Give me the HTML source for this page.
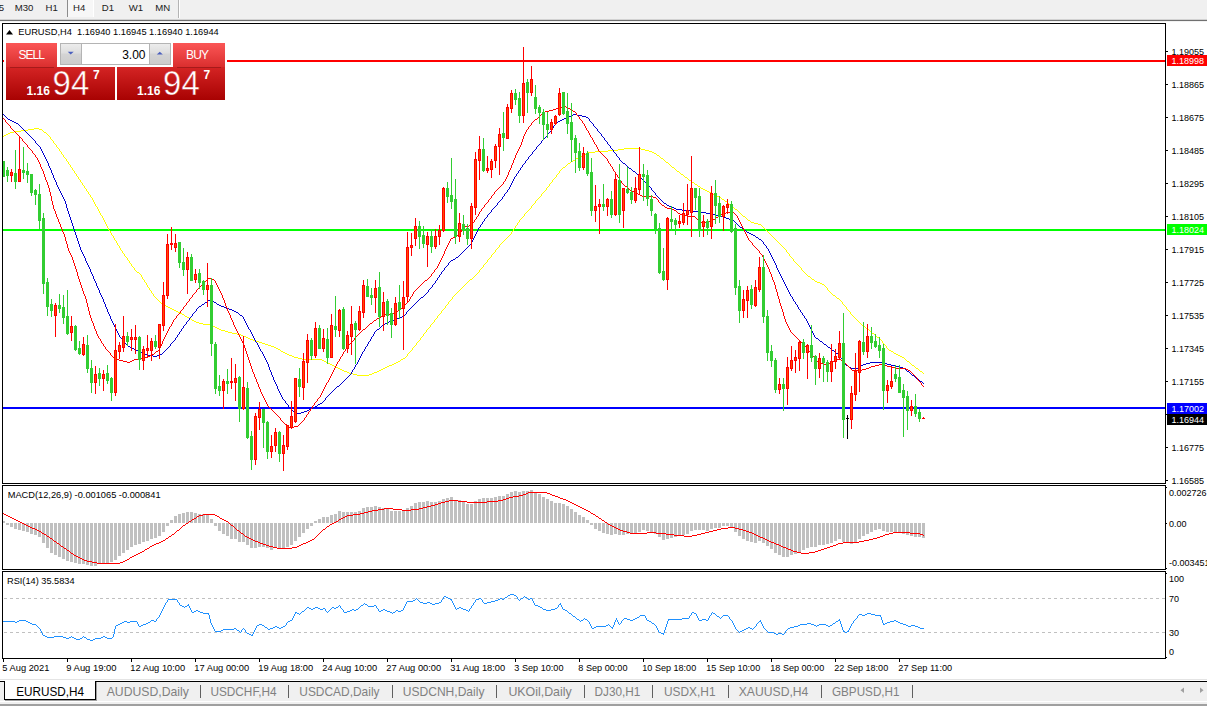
<!DOCTYPE html>
<html><head><meta charset="utf-8"><title>EURUSD,H4</title>
<style>html,body{margin:0;padding:0;background:#fff;overflow:hidden}body{width:1207px;height:706px;position:relative;font-family:"Liberation Sans",sans-serif}</style>
</head><body>
<svg width="1207" height="706" viewBox="0 0 1207 706" style="position:absolute;left:0;top:0;display:block">
<defs>
<linearGradient id="gTab" x1="0" y1="0" x2="0" y2="1"><stop offset="0" stop-color="#fb5656"/><stop offset="1" stop-color="#d92d2d"/></linearGradient>
<linearGradient id="gLow" x1="0" y1="0" x2="0" y2="1"><stop offset="0" stop-color="#d42424"/><stop offset="1" stop-color="#a80202"/></linearGradient>
<linearGradient id="gBtn" x1="0" y1="0" x2="0" y2="1"><stop offset="0" stop-color="#ececec"/><stop offset="0.45" stop-color="#dedede"/><stop offset="0.5" stop-color="#d4d4d4"/><stop offset="1" stop-color="#cccccc"/></linearGradient>
<linearGradient id="gLowU" gradientUnits="userSpaceOnUse" x1="0" y1="67" x2="0" y2="100"><stop offset="0" stop-color="#d42424"/><stop offset="1" stop-color="#a80202"/></linearGradient>
<clipPath id="cpMain"><rect x="3" y="24" width="1162" height="459"/></clipPath>
</defs>
<rect x="0" y="0" width="1207" height="706" fill="#ffffff"/>
<g shape-rendering="crispEdges">
<rect x="0" y="0" width="1207" height="19" fill="#f0f0f0"/>
<rect x="0" y="19" width="1207" height="1" fill="#d2d2d2"/>
<rect x="0" y="20" width="1207" height="1" fill="#707070"/>
<rect x="0" y="21" width="1207" height="1" fill="#f2f2f2"/>
<rect x="68" y="0" width="25" height="17" fill="#f7f7f7"/>
<rect x="67" y="0" width="1" height="17" fill="#8c8c8c"/>
<rect x="93" y="0" width="1" height="17" fill="#ffffff"/>
<rect x="178" y="0" width="1" height="18" fill="#b4b4b4"/>
<rect x="179" y="0" width="1" height="18" fill="#ffffff"/>
</g>
<g font-family="'Liberation Sans', sans-serif" font-size="9.6" fill="#202020">
<text x="-1.2" y="10.6">5</text>
<text x="14.8" y="10.6">M30</text>
<text x="45.599999999999994" y="10.6">H1</text>
<text x="73.0" y="10.6">H4</text>
<text x="101.8" y="10.6">D1</text>
<text x="128.8" y="10.6">W1</text>
<text x="155.3" y="10.6">MN</text>
</g>
<g shape-rendering="crispEdges" fill="#000">
<rect x="2" y="23" width="1" height="636"/>
<rect x="1165" y="23" width="1" height="636"/>
<rect x="2" y="23" width="1163" height="1"/>
<rect x="2" y="483" width="1163" height="1"/>
<rect x="2" y="485" width="1163" height="1"/>
<rect x="2" y="569" width="1163" height="1"/>
<rect x="2" y="571" width="1163" height="1"/>
<rect x="2" y="658" width="1164" height="1"/>
</g>
<g shape-rendering="crispEdges" fill="#fff">
<rect x="0" y="484" width="1166" height="1"/>
<rect x="0" y="570" width="1166" height="1"/>
</g>
<g shape-rendering="crispEdges" fill="#000">
<rect x="1166" y="51" width="2" height="1"/>
<rect x="1166" y="84" width="2" height="1"/>
<rect x="1166" y="117" width="2" height="1"/>
<rect x="1166" y="150" width="2" height="1"/>
<rect x="1166" y="183" width="2" height="1"/>
<rect x="1166" y="216" width="2" height="1"/>
<rect x="1166" y="249" width="2" height="1"/>
<rect x="1166" y="282" width="2" height="1"/>
<rect x="1166" y="315" width="2" height="1"/>
<rect x="1166" y="348" width="2" height="1"/>
<rect x="1166" y="381" width="2" height="1"/>
<rect x="1166" y="414" width="2" height="1"/>
<rect x="1166" y="447" width="2" height="1"/>
<rect x="1166" y="480" width="2" height="1"/>
<rect x="1166" y="487" width="1" height="1"/>
<rect x="1166" y="523" width="1" height="1"/>
<rect x="1166" y="568" width="1" height="1"/>
<rect x="1166" y="573" width="1" height="1"/>
<rect x="1166" y="657" width="1" height="1"/>
<rect x="3" y="659" width="1" height="3"/>
<rect x="67" y="659" width="1" height="3"/>
<rect x="131" y="659" width="1" height="3"/>
<rect x="195" y="659" width="1" height="3"/>
<rect x="259" y="659" width="1" height="3"/>
<rect x="323" y="659" width="1" height="3"/>
<rect x="387" y="659" width="1" height="3"/>
<rect x="451" y="659" width="1" height="3"/>
<rect x="515" y="659" width="1" height="3"/>
<rect x="579" y="659" width="1" height="3"/>
<rect x="643" y="659" width="1" height="3"/>
<rect x="707" y="659" width="1" height="3"/>
<rect x="771" y="659" width="1" height="3"/>
<rect x="835" y="659" width="1" height="3"/>
<rect x="899" y="659" width="1" height="3"/>
</g>
<g font-family="'Liberation Sans', sans-serif" font-size="9" fill="#000">
<text x="1171.5" y="55">1.19055</text>
<text x="1171.5" y="88">1.18865</text>
<text x="1171.5" y="121">1.18675</text>
<text x="1171.5" y="154">1.18485</text>
<text x="1171.5" y="187">1.18295</text>
<text x="1171.5" y="220">1.18105</text>
<text x="1171.5" y="253">1.17915</text>
<text x="1171.5" y="286">1.17725</text>
<text x="1171.5" y="319">1.17535</text>
<text x="1171.5" y="352">1.17345</text>
<text x="1171.5" y="385">1.17155</text>
<text x="1171.5" y="451">1.16775</text>
<text x="1171.5" y="484">1.16585</text>
<text x="1169" y="496">0.002726</text>
<text x="1169" y="527">0.00</text>
<text x="1169" y="566">-0.003451</text>
<text x="1169" y="582">100</text>
<text x="1169" y="602">70</text>
<text x="1169" y="636">30</text>
<text x="1169" y="654.5">0</text>
<text x="2.3" y="671" font-size="9.8" textLength="47" lengthAdjust="spacingAndGlyphs">5 Aug 2021</text>
<text x="66.3" y="671" font-size="9.8" textLength="50.2" lengthAdjust="spacingAndGlyphs">9 Aug 19:00</text>
<text x="130.3" y="671" font-size="9.8" textLength="54.9" lengthAdjust="spacingAndGlyphs">12 Aug 10:00</text>
<text x="194.3" y="671" font-size="9.8" textLength="54.9" lengthAdjust="spacingAndGlyphs">17 Aug 00:00</text>
<text x="258.3" y="671" font-size="9.8" textLength="54.9" lengthAdjust="spacingAndGlyphs">19 Aug 18:00</text>
<text x="322.3" y="671" font-size="9.8" textLength="54.9" lengthAdjust="spacingAndGlyphs">24 Aug 10:00</text>
<text x="386.3" y="671" font-size="9.8" textLength="54.9" lengthAdjust="spacingAndGlyphs">27 Aug 00:00</text>
<text x="450.3" y="671" font-size="9.8" textLength="54.9" lengthAdjust="spacingAndGlyphs">31 Aug 18:00</text>
<text x="514.3" y="671" font-size="9.8" textLength="49.2" lengthAdjust="spacingAndGlyphs">3 Sep 10:00</text>
<text x="578.3" y="671" font-size="9.8" textLength="49.2" lengthAdjust="spacingAndGlyphs">8 Sep 00:00</text>
<text x="642.3" y="671" font-size="9.8" textLength="53.9" lengthAdjust="spacingAndGlyphs">10 Sep 18:00</text>
<text x="706.3" y="671" font-size="9.8" textLength="53.9" lengthAdjust="spacingAndGlyphs">15 Sep 10:00</text>
<text x="770.3" y="671" font-size="9.8" textLength="53.9" lengthAdjust="spacingAndGlyphs">18 Sep 00:00</text>
<text x="834.3" y="671" font-size="9.8" textLength="53.9" lengthAdjust="spacingAndGlyphs">22 Sep 18:00</text>
<text x="898.3" y="671" font-size="9.8" textLength="53.9" lengthAdjust="spacingAndGlyphs">27 Sep 11:00</text>
<text x="18.3" y="34.8" font-size="9.25" xml:space="preserve" textLength="200.4" lengthAdjust="spacingAndGlyphs">EURUSD,H4  1.16940 1.16945 1.16940 1.16944</text>
<text x="7.7" y="498" font-size="9.25" textLength="152.9" lengthAdjust="spacingAndGlyphs">MACD(12,26,9) -0.001065 -0.000841</text>
<text x="7" y="584" font-size="9.25" textLength="67.6" lengthAdjust="spacingAndGlyphs">RSI(14) 35.5834</text>
</g>
<path d="M6 34.5 L9.5 30 L13 34.5 Z" fill="#000"/>
<g shape-rendering="crispEdges">
<rect x="3" y="60" width="1162" height="2" fill="#ff0000"/>
<rect x="3" y="229" width="1162" height="2" fill="#00ff00"/>
<rect x="3" y="407" width="1162" height="2" fill="#0000ff"/>
</g>
<g clip-path="url(#cpMain)" shape-rendering="crispEdges">
<path d="M3 136h1v1h-1zM4 135h1v1h-1zM5 135h1v1h-1zM6 134h1v1h-1zM7 134h1v1h-1zM8 133h1v1h-1zM9 133h1v1h-1zM10 132h1v1h-1zM11 132h1v1h-1zM12 132h1v1h-1zM13 132h1v1h-1zM14 131h1v1h-1zM15 131h1v1h-1zM16 131h1v1h-1zM17 131h1v1h-1zM18 131h1v1h-1zM19 131h1v1h-1zM20 131h1v1h-1zM21 130h1v1h-1zM22 130h1v1h-1zM23 130h1v1h-1zM24 130h1v1h-1zM25 130h1v1h-1zM26 130h1v1h-1zM27 130h1v1h-1zM28 129h1v1h-1zM29 129h1v1h-1zM30 129h1v1h-1zM31 129h1v1h-1zM32 129h1v1h-1zM33 129h1v1h-1zM34 128h1v1h-1zM35 128h1v1h-1zM36 128h1v1h-1zM37 128h1v1h-1zM38 128h1v1h-1zM39 129h1v1h-1zM40 129h1v1h-1zM41 129h1v1h-1zM42 130h1v1h-1zM43 131h1v1h-1zM44 132h1v1h-1zM45 132h1v1h-1zM46 133h1v1h-1zM47 134h1v1h-1zM48 135h1v1h-1zM49 136h1v1h-1zM50 137h1v2h-1zM51 139h1v1h-1zM52 140h1v1h-1zM53 141h1v2h-1zM54 143h1v1h-1zM55 144h1v1h-1zM56 145h1v2h-1zM57 147h1v1h-1zM58 148h1v1h-1zM59 149h1v2h-1zM60 151h1v1h-1zM61 152h1v2h-1zM62 154h1v1h-1zM63 155h1v2h-1zM64 157h1v1h-1zM65 158h1v1h-1zM66 159h1v2h-1zM67 161h1v1h-1zM68 162h1v2h-1zM69 164h1v1h-1zM70 165h1v2h-1zM71 167h1v1h-1zM72 168h1v2h-1zM73 170h1v1h-1zM74 171h1v2h-1zM75 173h1v1h-1zM76 174h1v2h-1zM77 176h1v1h-1zM78 177h1v2h-1zM79 179h1v1h-1zM80 180h1v2h-1zM81 182h1v1h-1zM82 183h1v2h-1zM83 185h1v1h-1zM84 186h1v2h-1zM85 188h1v1h-1zM86 189h1v2h-1zM87 191h1v1h-1zM88 192h1v2h-1zM89 194h1v1h-1zM90 195h1v2h-1zM91 197h1v1h-1zM92 198h1v2h-1zM93 200h1v2h-1zM94 202h1v2h-1zM95 204h1v2h-1zM96 206h1v1h-1zM97 207h1v2h-1zM98 209h1v2h-1zM99 211h1v2h-1zM100 213h1v2h-1zM101 215h1v1h-1zM102 216h1v2h-1zM103 218h1v2h-1zM104 220h1v2h-1zM105 222h1v2h-1zM106 224h1v2h-1zM107 226h1v2h-1zM108 228h1v2h-1zM109 230h1v1h-1zM110 231h1v2h-1zM111 233h1v2h-1zM112 235h1v1h-1zM113 236h1v2h-1zM114 238h1v2h-1zM115 240h1v1h-1zM116 241h1v2h-1zM117 243h1v2h-1zM118 245h1v1h-1zM119 246h1v2h-1zM120 248h1v2h-1zM121 250h1v1h-1zM122 251h1v2h-1zM123 253h1v1h-1zM124 254h1v2h-1zM125 256h1v1h-1zM126 257h1v1h-1zM127 258h1v2h-1zM128 260h1v1h-1zM129 261h1v2h-1zM130 263h1v1h-1zM131 264h1v2h-1zM132 266h1v1h-1zM133 267h1v1h-1zM134 268h1v2h-1zM135 270h1v1h-1zM136 271h1v1h-1zM137 272h1v1h-1zM138 272h1v1h-1zM139 273h1v1h-1zM140 274h1v1h-1zM141 275h1v2h-1zM142 277h1v2h-1zM143 279h1v1h-1zM144 280h1v2h-1zM145 282h1v1h-1zM146 283h1v2h-1zM147 285h1v2h-1zM148 287h1v1h-1zM149 288h1v2h-1zM150 290h1v1h-1zM151 291h1v2h-1zM152 293h1v1h-1zM153 294h1v2h-1zM154 296h1v1h-1zM155 297h1v1h-1zM156 298h1v1h-1zM157 299h1v1h-1zM158 300h1v1h-1zM159 301h1v1h-1zM160 302h1v1h-1zM161 303h1v1h-1zM162 304h1v1h-1zM163 304h1v1h-1zM164 305h1v1h-1zM165 305h1v1h-1zM166 306h1v1h-1zM167 306h1v1h-1zM168 307h1v1h-1zM169 307h1v1h-1zM170 308h1v1h-1zM171 308h1v1h-1zM172 309h1v1h-1zM173 309h1v1h-1zM174 310h1v1h-1zM175 310h1v1h-1zM176 311h1v1h-1zM177 311h1v1h-1zM178 312h1v1h-1zM179 312h1v1h-1zM180 313h1v1h-1zM181 313h1v1h-1zM182 314h1v1h-1zM183 314h1v1h-1zM184 315h1v1h-1zM185 316h1v1h-1zM186 316h1v1h-1zM187 317h1v1h-1zM188 317h1v1h-1zM189 318h1v1h-1zM190 318h1v1h-1zM191 319h1v1h-1zM192 320h1v1h-1zM193 320h1v1h-1zM194 321h1v1h-1zM195 321h1v1h-1zM196 322h1v1h-1zM197 322h1v1h-1zM198 322h1v1h-1zM199 323h1v1h-1zM200 323h1v1h-1zM201 323h1v1h-1zM202 323h1v1h-1zM203 324h1v1h-1zM204 324h1v1h-1zM205 324h1v1h-1zM206 324h1v1h-1zM207 324h1v1h-1zM208 324h1v1h-1zM209 324h1v1h-1zM210 324h1v1h-1zM211 325h1v1h-1zM212 325h1v1h-1zM213 326h1v1h-1zM214 326h1v1h-1zM215 327h1v1h-1zM216 327h1v1h-1zM217 328h1v1h-1zM218 328h1v1h-1zM219 329h1v1h-1zM220 329h1v1h-1zM221 330h1v1h-1zM222 330h1v1h-1zM223 330h1v1h-1zM224 330h1v1h-1zM225 331h1v1h-1zM226 331h1v1h-1zM227 331h1v1h-1zM228 332h1v1h-1zM229 332h1v1h-1zM230 332h1v1h-1zM231 332h1v1h-1zM232 333h1v1h-1zM233 333h1v1h-1zM234 333h1v1h-1zM235 333h1v1h-1zM236 333h1v1h-1zM237 334h1v1h-1zM238 334h1v1h-1zM239 334h1v1h-1zM240 334h1v1h-1zM241 335h1v1h-1zM242 335h1v1h-1zM243 336h1v1h-1zM244 336h1v1h-1zM245 336h1v1h-1zM246 337h1v1h-1zM247 337h1v1h-1zM248 338h1v1h-1zM249 338h1v1h-1zM250 339h1v1h-1zM251 339h1v1h-1zM252 339h1v1h-1zM253 340h1v1h-1zM254 340h1v1h-1zM255 340h1v1h-1zM256 341h1v1h-1zM257 341h1v1h-1zM258 341h1v1h-1zM259 342h1v1h-1zM260 342h1v1h-1zM261 342h1v1h-1zM262 343h1v1h-1zM263 343h1v1h-1zM264 343h1v1h-1zM265 344h1v1h-1zM266 344h1v1h-1zM267 344h1v1h-1zM268 345h1v1h-1zM269 345h1v1h-1zM270 345h1v1h-1zM271 346h1v1h-1zM272 346h1v1h-1zM273 346h1v1h-1zM274 347h1v1h-1zM275 347h1v1h-1zM276 348h1v1h-1zM277 348h1v1h-1zM278 349h1v1h-1zM279 349h1v1h-1zM280 350h1v1h-1zM281 351h1v1h-1zM282 351h1v1h-1zM283 352h1v1h-1zM284 352h1v1h-1zM285 353h1v1h-1zM286 353h1v1h-1zM287 354h1v1h-1zM288 354h1v1h-1zM289 355h1v1h-1zM290 355h1v1h-1zM291 355h1v1h-1zM292 356h1v1h-1zM293 356h1v1h-1zM294 357h1v1h-1zM295 357h1v1h-1zM296 357h1v1h-1zM297 357h1v1h-1zM298 358h1v1h-1zM299 358h1v1h-1zM300 358h1v1h-1zM301 358h1v1h-1zM302 359h1v1h-1zM303 359h1v1h-1zM304 359h1v1h-1zM305 359h1v1h-1zM306 359h1v1h-1zM307 359h1v1h-1zM308 359h1v1h-1zM309 359h1v1h-1zM310 359h1v1h-1zM311 359h1v1h-1zM312 359h1v1h-1zM313 359h1v1h-1zM314 359h1v1h-1zM315 359h1v1h-1zM316 359h1v1h-1zM317 359h1v1h-1zM318 359h1v1h-1zM319 359h1v1h-1zM320 359h1v1h-1zM321 359h1v1h-1zM322 360h1v1h-1zM323 360h1v1h-1zM324 361h1v1h-1zM325 361h1v1h-1zM326 362h1v1h-1zM327 362h1v1h-1zM328 363h1v1h-1zM329 363h1v1h-1zM330 364h1v1h-1zM331 364h1v1h-1zM332 365h1v1h-1zM333 365h1v1h-1zM334 366h1v1h-1zM335 366h1v1h-1zM336 367h1v1h-1zM337 367h1v1h-1zM338 368h1v1h-1zM339 368h1v1h-1zM340 369h1v1h-1zM341 369h1v1h-1zM342 370h1v1h-1zM343 370h1v1h-1zM344 371h1v1h-1zM345 371h1v1h-1zM346 371h1v1h-1zM347 372h1v1h-1zM348 372h1v1h-1zM349 373h1v1h-1zM350 373h1v1h-1zM351 373h1v1h-1zM352 373h1v1h-1zM353 374h1v1h-1zM354 374h1v1h-1zM355 374h1v1h-1zM356 374h1v1h-1zM357 375h1v1h-1zM358 375h1v1h-1zM359 375h1v1h-1zM360 375h1v1h-1zM361 375h1v1h-1zM362 375h1v1h-1zM363 375h1v1h-1zM364 375h1v1h-1zM365 375h1v1h-1zM366 375h1v1h-1zM367 375h1v1h-1zM368 375h1v1h-1zM369 374h1v1h-1zM370 374h1v1h-1zM371 374h1v1h-1zM372 373h1v1h-1zM373 373h1v1h-1zM374 372h1v1h-1zM375 372h1v1h-1zM376 372h1v1h-1zM377 371h1v1h-1zM378 371h1v1h-1zM379 370h1v1h-1zM380 370h1v1h-1zM381 369h1v1h-1zM382 369h1v1h-1zM383 368h1v1h-1zM384 368h1v1h-1zM385 367h1v1h-1zM386 367h1v1h-1zM387 366h1v1h-1zM388 366h1v1h-1zM389 365h1v1h-1zM390 365h1v1h-1zM391 365h1v1h-1zM392 364h1v1h-1zM393 364h1v1h-1zM394 363h1v1h-1zM395 363h1v1h-1zM396 362h1v1h-1zM397 362h1v1h-1zM398 361h1v1h-1zM399 361h1v1h-1zM400 360h1v1h-1zM401 359h1v1h-1zM402 359h1v1h-1zM403 358h1v1h-1zM404 358h1v1h-1zM405 357h1v1h-1zM406 356h1v1h-1zM407 354h1v2h-1zM408 353h1v1h-1zM409 352h1v1h-1zM410 351h1v1h-1zM411 350h1v1h-1zM412 348h1v2h-1zM413 347h1v1h-1zM414 346h1v1h-1zM415 345h1v1h-1zM416 343h1v2h-1zM417 342h1v1h-1zM418 341h1v1h-1zM419 340h1v1h-1zM420 338h1v2h-1zM421 337h1v1h-1zM422 336h1v1h-1zM423 334h1v2h-1zM424 333h1v1h-1zM425 332h1v1h-1zM426 330h1v2h-1zM427 329h1v1h-1zM428 328h1v1h-1zM429 327h1v1h-1zM430 325h1v2h-1zM431 324h1v1h-1zM432 323h1v1h-1zM433 322h1v1h-1zM434 320h1v2h-1zM435 319h1v1h-1zM436 318h1v1h-1zM437 316h1v2h-1zM438 315h1v1h-1zM439 314h1v1h-1zM440 313h1v1h-1zM441 311h1v2h-1zM442 310h1v1h-1zM443 309h1v1h-1zM444 308h1v1h-1zM445 306h1v2h-1zM446 305h1v1h-1zM447 304h1v1h-1zM448 302h1v2h-1zM449 301h1v1h-1zM450 300h1v1h-1zM451 299h1v1h-1zM452 297h1v2h-1zM453 296h1v1h-1zM454 295h1v1h-1zM455 294h1v1h-1zM456 293h1v1h-1zM457 292h1v1h-1zM458 291h1v1h-1zM459 290h1v1h-1zM460 289h1v1h-1zM461 288h1v1h-1zM462 287h1v1h-1zM463 286h1v1h-1zM464 285h1v1h-1zM465 284h1v1h-1zM466 283h1v1h-1zM467 282h1v1h-1zM468 281h1v1h-1zM469 280h1v1h-1zM470 279h1v1h-1zM471 279h1v1h-1zM472 278h1v1h-1zM473 277h1v1h-1zM474 276h1v1h-1zM475 275h1v1h-1zM476 274h1v1h-1zM477 273h1v1h-1zM478 272h1v1h-1zM479 270h1v2h-1zM480 269h1v1h-1zM481 268h1v1h-1zM482 267h1v1h-1zM483 265h1v2h-1zM484 264h1v1h-1zM485 263h1v1h-1zM486 262h1v1h-1zM487 260h1v2h-1zM488 259h1v1h-1zM489 258h1v1h-1zM490 257h1v1h-1zM491 255h1v2h-1zM492 254h1v1h-1zM493 253h1v1h-1zM494 252h1v1h-1zM495 250h1v2h-1zM496 249h1v1h-1zM497 248h1v1h-1zM498 247h1v1h-1zM499 245h1v2h-1zM500 244h1v1h-1zM501 243h1v1h-1zM502 242h1v1h-1zM503 241h1v1h-1zM504 240h1v1h-1zM505 239h1v1h-1zM506 238h1v1h-1zM507 237h1v1h-1zM508 236h1v1h-1zM509 235h1v1h-1zM510 234h1v1h-1zM511 232h1v2h-1zM512 231h1v1h-1zM513 229h1v2h-1zM514 228h1v1h-1zM515 226h1v2h-1zM516 225h1v1h-1zM517 223h1v2h-1zM518 222h1v1h-1zM519 220h1v2h-1zM520 219h1v1h-1zM521 218h1v1h-1zM522 217h1v1h-1zM523 216h1v1h-1zM524 214h1v2h-1zM525 213h1v1h-1zM526 212h1v1h-1zM527 211h1v1h-1zM528 210h1v1h-1zM529 209h1v1h-1zM530 208h1v1h-1zM531 206h1v2h-1zM532 205h1v1h-1zM533 204h1v1h-1zM534 203h1v1h-1zM535 201h1v2h-1zM536 200h1v1h-1zM537 199h1v1h-1zM538 198h1v1h-1zM539 197h1v1h-1zM540 196h1v1h-1zM541 194h1v2h-1zM542 193h1v1h-1zM543 192h1v1h-1zM544 191h1v1h-1zM545 190h1v1h-1zM546 188h1v2h-1zM547 187h1v1h-1zM548 186h1v1h-1zM549 184h1v2h-1zM550 183h1v1h-1zM551 182h1v1h-1zM552 180h1v2h-1zM553 179h1v1h-1zM554 178h1v1h-1zM555 177h1v1h-1zM556 175h1v2h-1zM557 174h1v1h-1zM558 173h1v1h-1zM559 171h1v2h-1zM560 170h1v1h-1zM561 169h1v1h-1zM562 168h1v1h-1zM563 167h1v1h-1zM564 167h1v1h-1zM565 166h1v1h-1zM566 165h1v1h-1zM567 164h1v1h-1zM568 163h1v1h-1zM569 163h1v1h-1zM570 162h1v1h-1zM571 161h1v1h-1zM572 161h1v1h-1zM573 160h1v1h-1zM574 160h1v1h-1zM575 159h1v1h-1zM576 158h1v1h-1zM577 158h1v1h-1zM578 157h1v1h-1zM579 157h1v1h-1zM580 156h1v1h-1zM581 156h1v1h-1zM582 155h1v1h-1zM583 155h1v1h-1zM584 154h1v1h-1zM585 154h1v1h-1zM586 153h1v1h-1zM587 153h1v1h-1zM588 152h1v1h-1zM589 152h1v1h-1zM590 152h1v1h-1zM591 152h1v1h-1zM592 152h1v1h-1zM593 152h1v1h-1zM594 152h1v1h-1zM595 151h1v1h-1zM596 151h1v1h-1zM597 151h1v1h-1zM598 151h1v1h-1zM599 151h1v1h-1zM600 151h1v1h-1zM601 151h1v1h-1zM602 151h1v1h-1zM603 151h1v1h-1zM604 151h1v1h-1zM605 151h1v1h-1zM606 151h1v1h-1zM607 151h1v1h-1zM608 150h1v1h-1zM609 150h1v1h-1zM610 150h1v1h-1zM611 150h1v1h-1zM612 150h1v1h-1zM613 150h1v1h-1zM614 150h1v1h-1zM615 150h1v1h-1zM616 150h1v1h-1zM617 150h1v1h-1zM618 149h1v1h-1zM619 149h1v1h-1zM620 149h1v1h-1zM621 149h1v1h-1zM622 149h1v1h-1zM623 149h1v1h-1zM624 148h1v1h-1zM625 148h1v1h-1zM626 148h1v1h-1zM627 148h1v1h-1zM628 148h1v1h-1zM629 148h1v1h-1zM630 148h1v1h-1zM631 148h1v1h-1zM632 148h1v1h-1zM633 148h1v1h-1zM634 148h1v1h-1zM635 148h1v1h-1zM636 148h1v1h-1zM637 148h1v1h-1zM638 148h1v1h-1zM639 148h1v1h-1zM640 148h1v1h-1zM641 149h1v1h-1zM642 149h1v1h-1zM643 149h1v1h-1zM644 149h1v1h-1zM645 150h1v1h-1zM646 150h1v1h-1zM647 150h1v1h-1zM648 150h1v1h-1zM649 151h1v1h-1zM650 151h1v1h-1zM651 151h1v1h-1zM652 152h1v1h-1zM653 152h1v1h-1zM654 153h1v1h-1zM655 153h1v1h-1zM656 154h1v1h-1zM657 155h1v1h-1zM658 155h1v1h-1zM659 156h1v1h-1zM660 157h1v1h-1zM661 158h1v1h-1zM662 158h1v1h-1zM663 159h1v1h-1zM664 160h1v1h-1zM665 161h1v1h-1zM666 162h1v1h-1zM667 162h1v1h-1zM668 163h1v1h-1zM669 164h1v1h-1zM670 165h1v1h-1zM671 166h1v1h-1zM672 167h1v1h-1zM673 167h1v1h-1zM674 168h1v1h-1zM675 169h1v1h-1zM676 170h1v1h-1zM677 171h1v1h-1zM678 171h1v1h-1zM679 172h1v1h-1zM680 173h1v1h-1zM681 174h1v1h-1zM682 174h1v1h-1zM683 175h1v1h-1zM684 176h1v1h-1zM685 177h1v1h-1zM686 177h1v1h-1zM687 178h1v1h-1zM688 179h1v1h-1zM689 180h1v1h-1zM690 180h1v1h-1zM691 181h1v1h-1zM692 182h1v1h-1zM693 182h1v1h-1zM694 183h1v1h-1zM695 184h1v1h-1zM696 184h1v1h-1zM697 185h1v1h-1zM698 186h1v1h-1zM699 186h1v1h-1zM700 187h1v1h-1zM701 188h1v1h-1zM702 188h1v1h-1zM703 189h1v1h-1zM704 189h1v1h-1zM705 190h1v1h-1zM706 190h1v1h-1zM707 191h1v1h-1zM708 191h1v1h-1zM709 192h1v1h-1zM710 192h1v1h-1zM711 193h1v1h-1zM712 193h1v1h-1zM713 194h1v1h-1zM714 194h1v1h-1zM715 195h1v1h-1zM716 195h1v1h-1zM717 196h1v1h-1zM718 196h1v1h-1zM719 197h1v1h-1zM720 197h1v1h-1zM721 198h1v1h-1zM722 199h1v1h-1zM723 199h1v1h-1zM724 200h1v1h-1zM725 201h1v1h-1zM726 201h1v1h-1zM727 202h1v1h-1zM728 203h1v1h-1zM729 204h1v1h-1zM730 204h1v1h-1zM731 205h1v1h-1zM732 206h1v1h-1zM733 207h1v1h-1zM734 208h1v1h-1zM735 209h1v1h-1zM736 209h1v1h-1zM737 210h1v1h-1zM738 211h1v1h-1zM739 212h1v1h-1zM740 213h1v1h-1zM741 214h1v1h-1zM742 215h1v1h-1zM743 216h1v1h-1zM744 216h1v1h-1zM745 217h1v1h-1zM746 218h1v1h-1zM747 219h1v1h-1zM748 220h1v1h-1zM749 220h1v1h-1zM750 221h1v1h-1zM751 222h1v1h-1zM752 222h1v1h-1zM753 222h1v1h-1zM754 223h1v1h-1zM755 223h1v1h-1zM756 223h1v1h-1zM757 223h1v1h-1zM758 224h1v1h-1zM759 224h1v1h-1zM760 224h1v1h-1zM761 225h1v1h-1zM762 226h1v1h-1zM763 227h1v1h-1zM764 228h1v1h-1zM765 229h1v1h-1zM766 230h1v1h-1zM767 231h1v1h-1zM768 232h1v1h-1zM769 233h1v1h-1zM770 234h1v1h-1zM771 235h1v1h-1zM772 236h1v1h-1zM773 237h1v1h-1zM774 238h1v1h-1zM775 239h1v1h-1zM776 240h1v1h-1zM777 241h1v1h-1zM778 242h1v1h-1zM779 243h1v1h-1zM780 244h1v1h-1zM781 245h1v1h-1zM782 246h1v1h-1zM783 247h1v1h-1zM784 248h1v1h-1zM785 249h1v1h-1zM786 250h1v2h-1zM787 252h1v1h-1zM788 253h1v1h-1zM789 254h1v2h-1zM790 256h1v1h-1zM791 257h1v1h-1zM792 258h1v1h-1zM793 259h1v2h-1zM794 261h1v1h-1zM795 262h1v1h-1zM796 263h1v1h-1zM797 264h1v1h-1zM798 265h1v1h-1zM799 266h1v1h-1zM800 267h1v1h-1zM801 268h1v2h-1zM802 270h1v1h-1zM803 271h1v1h-1zM804 272h1v1h-1zM805 273h1v1h-1zM806 274h1v1h-1zM807 275h1v1h-1zM808 276h1v1h-1zM809 276h1v1h-1zM810 277h1v1h-1zM811 278h1v1h-1zM812 279h1v1h-1zM813 279h1v1h-1zM814 280h1v1h-1zM815 281h1v1h-1zM816 281h1v1h-1zM817 282h1v1h-1zM818 282h1v1h-1zM819 282h1v1h-1zM820 283h1v1h-1zM821 283h1v1h-1zM822 284h1v1h-1zM823 284h1v1h-1zM824 285h1v1h-1zM825 286h1v1h-1zM826 287h1v1h-1zM827 288h1v2h-1zM828 290h1v1h-1zM829 291h1v1h-1zM830 292h1v1h-1zM831 293h1v1h-1zM832 294h1v1h-1zM833 295h1v1h-1zM834 295h1v1h-1zM835 296h1v1h-1zM836 297h1v1h-1zM837 298h1v1h-1zM838 298h1v1h-1zM839 299h1v1h-1zM840 300h1v1h-1zM841 301h1v1h-1zM842 302h1v2h-1zM843 304h1v1h-1zM844 305h1v1h-1zM845 306h1v1h-1zM846 307h1v2h-1zM847 309h1v1h-1zM848 310h1v1h-1zM849 311h1v1h-1zM850 312h1v2h-1zM851 314h1v1h-1zM852 315h1v1h-1zM853 316h1v1h-1zM854 317h1v1h-1zM855 318h1v1h-1zM856 319h1v1h-1zM857 320h1v1h-1zM858 321h1v1h-1zM859 322h1v1h-1zM860 323h1v1h-1zM861 324h1v1h-1zM862 325h1v1h-1zM863 325h1v1h-1zM864 326h1v1h-1zM865 327h1v1h-1zM866 328h1v1h-1zM867 329h1v1h-1zM868 329h1v1h-1zM869 330h1v1h-1zM870 331h1v1h-1zM871 332h1v1h-1zM872 333h1v1h-1zM873 333h1v1h-1zM874 334h1v1h-1zM875 335h1v1h-1zM876 336h1v1h-1zM877 337h1v1h-1zM878 337h1v1h-1zM879 338h1v1h-1zM880 339h1v1h-1zM881 340h1v1h-1zM882 341h1v2h-1zM883 343h1v1h-1zM884 344h1v1h-1zM885 345h1v1h-1zM886 346h1v2h-1zM887 348h1v1h-1zM888 349h1v1h-1zM889 350h1v1h-1zM890 350h1v1h-1zM891 351h1v1h-1zM892 351h1v1h-1zM893 352h1v1h-1zM894 353h1v1h-1zM895 353h1v1h-1zM896 354h1v1h-1zM897 354h1v1h-1zM898 355h1v1h-1zM899 355h1v1h-1zM900 356h1v1h-1zM901 356h1v1h-1zM902 357h1v1h-1zM903 357h1v1h-1zM904 358h1v1h-1zM905 359h1v1h-1zM906 360h1v1h-1zM907 361h1v1h-1zM908 361h1v1h-1zM909 362h1v1h-1zM910 363h1v1h-1zM911 364h1v1h-1zM912 365h1v1h-1zM913 365h1v1h-1zM914 366h1v1h-1zM915 367h1v1h-1zM916 368h1v1h-1zM917 368h1v1h-1zM918 369h1v1h-1zM919 370h1v1h-1zM920 371h1v1h-1zM921 371h1v1h-1zM922 372h1v1h-1zM923 373h1v1h-1z" fill="#ffff00" />
<path d="M3 114h1v1h-1zM4 115h1v1h-1zM5 116h1v1h-1zM6 117h1v1h-1zM7 118h1v1h-1zM8 119h1v1h-1zM9 119h1v1h-1zM10 120h1v1h-1zM11 120h1v1h-1zM12 121h1v1h-1zM13 121h1v1h-1zM14 122h1v1h-1zM15 122h1v1h-1zM16 123h1v1h-1zM17 123h1v1h-1zM18 124h1v1h-1zM19 125h1v1h-1zM20 126h1v1h-1zM21 127h1v1h-1zM22 128h1v1h-1zM23 129h1v1h-1zM24 130h1v1h-1zM25 131h1v1h-1zM26 132h1v1h-1zM27 133h1v1h-1zM28 134h1v1h-1zM29 135h1v1h-1zM30 136h1v1h-1zM31 137h1v1h-1zM32 138h1v1h-1zM33 139h1v1h-1zM34 140h1v1h-1zM35 141h1v2h-1zM36 143h1v1h-1zM37 144h1v1h-1zM38 145h1v1h-1zM39 146h1v1h-1zM40 147h1v2h-1zM41 149h1v2h-1zM42 151h1v2h-1zM43 153h1v2h-1zM44 155h1v2h-1zM45 157h1v2h-1zM46 159h1v2h-1zM47 161h1v2h-1zM48 163h1v3h-1zM49 166h1v2h-1zM50 168h1v2h-1zM51 170h1v3h-1zM52 173h1v2h-1zM53 175h1v3h-1zM54 178h1v2h-1zM55 180h1v2h-1zM56 182h1v3h-1zM57 185h1v2h-1zM58 187h1v2h-1zM59 189h1v2h-1zM60 191h1v2h-1zM61 193h1v2h-1zM62 195h1v2h-1zM63 197h1v2h-1zM64 199h1v2h-1zM65 201h1v3h-1zM66 204h1v4h-1zM67 208h1v3h-1zM68 211h1v3h-1zM69 214h1v3h-1zM70 217h1v3h-1zM71 220h1v3h-1zM72 223h1v3h-1zM73 226h1v3h-1zM74 229h1v3h-1zM75 232h1v3h-1zM76 235h1v3h-1zM77 238h1v3h-1zM78 241h1v3h-1zM79 244h1v3h-1zM80 247h1v3h-1zM81 250h1v2h-1zM82 252h1v2h-1zM83 254h1v2h-1zM84 256h1v2h-1zM85 258h1v3h-1zM86 261h1v2h-1zM87 263h1v2h-1zM88 265h1v2h-1zM89 267h1v2h-1zM90 269h1v3h-1zM91 272h1v2h-1zM92 274h1v2h-1zM93 276h1v3h-1zM94 279h1v2h-1zM95 281h1v2h-1zM96 283h1v3h-1zM97 286h1v2h-1zM98 288h1v2h-1zM99 290h1v3h-1zM100 293h1v2h-1zM101 295h1v2h-1zM102 297h1v2h-1zM103 299h1v3h-1zM104 302h1v2h-1zM105 304h1v3h-1zM106 307h1v2h-1zM107 309h1v3h-1zM108 312h1v2h-1zM109 314h1v2h-1zM110 316h1v3h-1zM111 319h1v2h-1zM112 321h1v2h-1zM113 323h1v2h-1zM114 325h1v2h-1zM115 327h1v2h-1zM116 329h1v2h-1zM117 331h1v2h-1zM118 333h1v2h-1zM119 335h1v2h-1zM120 337h1v1h-1zM121 338h1v1h-1zM122 339h1v1h-1zM123 340h1v1h-1zM124 341h1v2h-1zM125 343h1v1h-1zM126 344h1v1h-1zM127 345h1v1h-1zM128 346h1v1h-1zM129 346h1v1h-1zM130 347h1v1h-1zM131 347h1v1h-1zM132 348h1v1h-1zM133 348h1v1h-1zM134 349h1v1h-1zM135 349h1v1h-1zM136 350h1v1h-1zM137 350h1v1h-1zM138 350h1v1h-1zM139 351h1v1h-1zM140 351h1v1h-1zM141 352h1v1h-1zM142 352h1v1h-1zM143 353h1v1h-1zM144 353h1v1h-1zM145 354h1v1h-1zM146 354h1v1h-1zM147 354h1v1h-1zM148 355h1v1h-1zM149 355h1v1h-1zM150 355h1v1h-1zM151 355h1v1h-1zM152 355h1v1h-1zM153 356h1v1h-1zM154 356h1v1h-1zM155 356h1v1h-1zM156 356h1v1h-1zM157 355h1v1h-1zM158 355h1v1h-1zM159 355h1v1h-1zM160 354h1v1h-1zM161 354h1v1h-1zM162 353h1v1h-1zM163 352h1v1h-1zM164 351h1v1h-1zM165 350h1v1h-1zM166 349h1v1h-1zM167 348h1v1h-1zM168 347h1v1h-1zM169 346h1v1h-1zM170 344h1v2h-1zM171 343h1v1h-1zM172 342h1v1h-1zM173 341h1v1h-1zM174 340h1v1h-1zM175 338h1v2h-1zM176 337h1v1h-1zM177 335h1v2h-1zM178 334h1v1h-1zM179 332h1v2h-1zM180 331h1v1h-1zM181 329h1v2h-1zM182 328h1v1h-1zM183 326h1v2h-1zM184 325h1v1h-1zM185 324h1v1h-1zM186 322h1v2h-1zM187 321h1v1h-1zM188 320h1v1h-1zM189 318h1v2h-1zM190 317h1v1h-1zM191 316h1v1h-1zM192 314h1v2h-1zM193 313h1v1h-1zM194 312h1v1h-1zM195 311h1v1h-1zM196 309h1v2h-1zM197 308h1v1h-1zM198 307h1v1h-1zM199 306h1v1h-1zM200 306h1v1h-1zM201 305h1v1h-1zM202 304h1v1h-1zM203 304h1v1h-1zM204 303h1v1h-1zM205 302h1v1h-1zM206 302h1v1h-1zM207 301h1v1h-1zM208 300h1v1h-1zM209 300h1v1h-1zM210 300h1v1h-1zM211 301h1v1h-1zM212 301h1v1h-1zM213 301h1v1h-1zM214 302h1v1h-1zM215 302h1v1h-1zM216 303h1v1h-1zM217 304h1v1h-1zM218 304h1v1h-1zM219 305h1v1h-1zM220 305h1v1h-1zM221 306h1v1h-1zM222 306h1v1h-1zM223 306h1v1h-1zM224 307h1v1h-1zM225 307h1v1h-1zM226 308h1v1h-1zM227 308h1v1h-1zM228 308h1v1h-1zM229 309h1v1h-1zM230 309h1v1h-1zM231 309h1v1h-1zM232 310h1v1h-1zM233 310h1v1h-1zM234 311h1v1h-1zM235 311h1v1h-1zM236 312h1v1h-1zM237 312h1v1h-1zM238 313h1v1h-1zM239 314h1v1h-1zM240 315h1v1h-1zM241 315h1v1h-1zM242 316h1v1h-1zM243 317h1v2h-1zM244 319h1v2h-1zM245 321h1v2h-1zM246 323h1v2h-1zM247 325h1v2h-1zM248 327h1v2h-1zM249 329h1v1h-1zM250 330h1v2h-1zM251 332h1v2h-1zM252 334h1v2h-1zM253 336h1v2h-1zM254 338h1v2h-1zM255 340h1v2h-1zM256 342h1v1h-1zM257 343h1v2h-1zM258 345h1v2h-1zM259 347h1v2h-1zM260 349h1v2h-1zM261 351h1v1h-1zM262 352h1v2h-1zM263 354h1v2h-1zM264 356h1v2h-1zM265 358h1v2h-1zM266 360h1v2h-1zM267 362h1v2h-1zM268 364h1v3h-1zM269 367h1v3h-1zM270 370h1v2h-1zM271 372h1v3h-1zM272 375h1v2h-1zM273 377h1v3h-1zM274 380h1v2h-1zM275 382h1v2h-1zM276 384h1v2h-1zM277 386h1v3h-1zM278 389h1v2h-1zM279 391h1v2h-1zM280 393h1v2h-1zM281 395h1v2h-1zM282 397h1v2h-1zM283 399h1v1h-1zM284 400h1v1h-1zM285 401h1v2h-1zM286 403h1v1h-1zM287 404h1v1h-1zM288 405h1v2h-1zM289 407h1v1h-1zM290 408h1v1h-1zM291 409h1v1h-1zM292 410h1v1h-1zM293 411h1v1h-1zM294 412h1v1h-1zM295 413h1v1h-1zM296 413h1v1h-1zM297 413h1v1h-1zM298 413h1v1h-1zM299 413h1v1h-1zM300 413h1v1h-1zM301 412h1v1h-1zM302 412h1v1h-1zM303 412h1v1h-1zM304 411h1v1h-1zM305 411h1v1h-1zM306 411h1v1h-1zM307 410h1v1h-1zM308 410h1v1h-1zM309 409h1v1h-1zM310 409h1v1h-1zM311 408h1v1h-1zM312 408h1v1h-1zM313 407h1v1h-1zM314 407h1v1h-1zM315 406h1v1h-1zM316 406h1v1h-1zM317 405h1v1h-1zM318 404h1v1h-1zM319 404h1v1h-1zM320 403h1v1h-1zM321 403h1v1h-1zM322 402h1v1h-1zM323 401h1v1h-1zM324 400h1v1h-1zM325 398h1v2h-1zM326 397h1v1h-1zM327 396h1v1h-1zM328 395h1v1h-1zM329 394h1v1h-1zM330 393h1v1h-1zM331 392h1v1h-1zM332 391h1v1h-1zM333 390h1v1h-1zM334 389h1v1h-1zM335 388h1v1h-1zM336 387h1v1h-1zM337 386h1v1h-1zM338 386h1v1h-1zM339 385h1v1h-1zM340 384h1v1h-1zM341 383h1v1h-1zM342 382h1v1h-1zM343 381h1v1h-1zM344 380h1v1h-1zM345 379h1v1h-1zM346 378h1v1h-1zM347 377h1v1h-1zM348 376h1v1h-1zM349 375h1v1h-1zM350 374h1v1h-1zM351 372h1v2h-1zM352 370h1v2h-1zM353 369h1v1h-1zM354 367h1v2h-1zM355 365h1v2h-1zM356 364h1v1h-1zM357 362h1v2h-1zM358 360h1v2h-1zM359 358h1v2h-1zM360 356h1v2h-1zM361 354h1v2h-1zM362 352h1v2h-1zM363 351h1v1h-1zM364 349h1v2h-1zM365 347h1v2h-1zM366 346h1v1h-1zM367 344h1v2h-1zM368 342h1v2h-1zM369 341h1v1h-1zM370 339h1v2h-1zM371 337h1v2h-1zM372 336h1v1h-1zM373 334h1v2h-1zM374 332h1v2h-1zM375 331h1v1h-1zM376 330h1v1h-1zM377 329h1v1h-1zM378 329h1v1h-1zM379 328h1v1h-1zM380 327h1v1h-1zM381 326h1v1h-1zM382 325h1v1h-1zM383 325h1v1h-1zM384 324h1v1h-1zM385 323h1v1h-1zM386 323h1v1h-1zM387 322h1v1h-1zM388 322h1v1h-1zM389 321h1v1h-1zM390 321h1v1h-1zM391 321h1v1h-1zM392 320h1v1h-1zM393 320h1v1h-1zM394 319h1v1h-1zM395 319h1v1h-1zM396 319h1v1h-1zM397 318h1v1h-1zM398 318h1v1h-1zM399 318h1v1h-1zM400 317h1v1h-1zM401 317h1v1h-1zM402 316h1v1h-1zM403 316h1v1h-1zM404 315h1v1h-1zM405 314h1v1h-1zM406 312h1v2h-1zM407 311h1v1h-1zM408 310h1v1h-1zM409 309h1v1h-1zM410 308h1v1h-1zM411 307h1v1h-1zM412 306h1v1h-1zM413 305h1v1h-1zM414 304h1v1h-1zM415 303h1v1h-1zM416 302h1v1h-1zM417 301h1v1h-1zM418 300h1v1h-1zM419 299h1v1h-1zM420 298h1v1h-1zM421 297h1v1h-1zM422 297h1v1h-1zM423 296h1v1h-1zM424 295h1v1h-1zM425 294h1v1h-1zM426 293h1v1h-1zM427 292h1v1h-1zM428 290h1v2h-1zM429 289h1v1h-1zM430 288h1v1h-1zM431 287h1v1h-1zM432 285h1v2h-1zM433 284h1v1h-1zM434 283h1v1h-1zM435 281h1v2h-1zM436 280h1v1h-1zM437 278h1v2h-1zM438 277h1v1h-1zM439 275h1v2h-1zM440 274h1v1h-1zM441 272h1v2h-1zM442 271h1v1h-1zM443 270h1v1h-1zM444 268h1v2h-1zM445 267h1v1h-1zM446 266h1v1h-1zM447 265h1v1h-1zM448 263h1v2h-1zM449 262h1v1h-1zM450 261h1v1h-1zM451 260h1v1h-1zM452 260h1v1h-1zM453 259h1v1h-1zM454 259h1v1h-1zM455 258h1v1h-1zM456 257h1v1h-1zM457 257h1v1h-1zM458 256h1v1h-1zM459 255h1v1h-1zM460 254h1v1h-1zM461 253h1v1h-1zM462 252h1v1h-1zM463 251h1v1h-1zM464 250h1v1h-1zM465 249h1v1h-1zM466 248h1v1h-1zM467 247h1v1h-1zM468 246h1v1h-1zM469 245h1v1h-1zM470 244h1v1h-1zM471 242h1v2h-1zM472 240h1v2h-1zM473 238h1v2h-1zM474 236h1v2h-1zM475 234h1v2h-1zM476 232h1v2h-1zM477 230h1v2h-1zM478 228h1v2h-1zM479 227h1v1h-1zM480 225h1v2h-1zM481 224h1v1h-1zM482 222h1v2h-1zM483 221h1v1h-1zM484 219h1v2h-1zM485 218h1v1h-1zM486 217h1v1h-1zM487 215h1v2h-1zM488 214h1v1h-1zM489 213h1v1h-1zM490 212h1v1h-1zM491 210h1v2h-1zM492 209h1v1h-1zM493 208h1v1h-1zM494 207h1v1h-1zM495 206h1v1h-1zM496 205h1v1h-1zM497 203h1v2h-1zM498 202h1v1h-1zM499 201h1v1h-1zM500 200h1v1h-1zM501 199h1v1h-1zM502 197h1v2h-1zM503 196h1v1h-1zM504 194h1v2h-1zM505 193h1v1h-1zM506 192h1v1h-1zM507 190h1v2h-1zM508 189h1v1h-1zM509 187h1v2h-1zM510 185h1v2h-1zM511 183h1v2h-1zM512 181h1v2h-1zM513 179h1v2h-1zM514 177h1v2h-1zM515 176h1v1h-1zM516 174h1v2h-1zM517 173h1v1h-1zM518 171h1v2h-1zM519 170h1v1h-1zM520 168h1v2h-1zM521 167h1v1h-1zM522 165h1v2h-1zM523 164h1v1h-1zM524 163h1v1h-1zM525 161h1v2h-1zM526 160h1v1h-1zM527 159h1v1h-1zM528 157h1v2h-1zM529 156h1v1h-1zM530 155h1v1h-1zM531 154h1v1h-1zM532 152h1v2h-1zM533 151h1v1h-1zM534 150h1v1h-1zM535 149h1v1h-1zM536 147h1v2h-1zM537 146h1v1h-1zM538 145h1v1h-1zM539 144h1v1h-1zM540 143h1v1h-1zM541 141h1v2h-1zM542 140h1v1h-1zM543 139h1v1h-1zM544 138h1v1h-1zM545 137h1v1h-1zM546 136h1v1h-1zM547 134h1v2h-1zM548 133h1v1h-1zM549 132h1v1h-1zM550 131h1v1h-1zM551 129h1v2h-1zM552 128h1v1h-1zM553 126h1v2h-1zM554 125h1v1h-1zM555 124h1v1h-1zM556 123h1v1h-1zM557 122h1v1h-1zM558 121h1v1h-1zM559 121h1v1h-1zM560 120h1v1h-1zM561 120h1v1h-1zM562 119h1v1h-1zM563 119h1v1h-1zM564 118h1v1h-1zM565 118h1v1h-1zM566 117h1v1h-1zM567 117h1v1h-1zM568 117h1v1h-1zM569 116h1v1h-1zM570 116h1v1h-1zM571 115h1v1h-1zM572 115h1v1h-1zM573 114h1v1h-1zM574 114h1v1h-1zM575 114h1v1h-1zM576 114h1v1h-1zM577 115h1v1h-1zM578 115h1v1h-1zM579 115h1v1h-1zM580 115h1v1h-1zM581 115h1v1h-1zM582 116h1v1h-1zM583 116h1v1h-1zM584 116h1v1h-1zM585 116h1v1h-1zM586 117h1v1h-1zM587 117h1v1h-1zM588 118h1v1h-1zM589 119h1v2h-1zM590 121h1v1h-1zM591 122h1v1h-1zM592 123h1v1h-1zM593 124h1v2h-1zM594 126h1v1h-1zM595 127h1v1h-1zM596 128h1v1h-1zM597 129h1v2h-1zM598 131h1v1h-1zM599 132h1v1h-1zM600 133h1v1h-1zM601 134h1v2h-1zM602 136h1v1h-1zM603 137h1v1h-1zM604 138h1v2h-1zM605 140h1v1h-1zM606 141h1v1h-1zM607 142h1v2h-1zM608 144h1v1h-1zM609 145h1v1h-1zM610 146h1v2h-1zM611 148h1v1h-1zM612 149h1v1h-1zM613 150h1v2h-1zM614 152h1v1h-1zM615 153h1v1h-1zM616 154h1v2h-1zM617 156h1v1h-1zM618 157h1v1h-1zM619 158h1v2h-1zM620 160h1v1h-1zM621 161h1v1h-1zM622 162h1v1h-1zM623 163h1v1h-1zM624 163h1v1h-1zM625 164h1v1h-1zM626 165h1v1h-1zM627 166h1v1h-1zM628 167h1v1h-1zM629 168h1v1h-1zM630 168h1v1h-1zM631 169h1v1h-1zM632 170h1v1h-1zM633 171h1v1h-1zM634 171h1v1h-1zM635 172h1v1h-1zM636 173h1v1h-1zM637 174h1v1h-1zM638 175h1v1h-1zM639 176h1v1h-1zM640 177h1v1h-1zM641 178h1v1h-1zM642 179h1v1h-1zM643 180h1v1h-1zM644 181h1v1h-1zM645 182h1v1h-1zM646 183h1v1h-1zM647 184h1v1h-1zM648 185h1v1h-1zM649 186h1v1h-1zM650 187h1v1h-1zM651 188h1v2h-1zM652 190h1v1h-1zM653 191h1v1h-1zM654 192h1v1h-1zM655 193h1v2h-1zM656 195h1v1h-1zM657 196h1v1h-1zM658 197h1v1h-1zM659 198h1v1h-1zM660 199h1v1h-1zM661 200h1v1h-1zM662 201h1v1h-1zM663 202h1v1h-1zM664 203h1v1h-1zM665 203h1v1h-1zM666 204h1v1h-1zM667 205h1v1h-1zM668 205h1v1h-1zM669 206h1v1h-1zM670 206h1v1h-1zM671 207h1v1h-1zM672 207h1v1h-1zM673 207h1v1h-1zM674 208h1v1h-1zM675 208h1v1h-1zM676 209h1v1h-1zM677 209h1v1h-1zM678 209h1v1h-1zM679 209h1v1h-1zM680 209h1v1h-1zM681 209h1v1h-1zM682 210h1v1h-1zM683 210h1v1h-1zM684 210h1v1h-1zM685 210h1v1h-1zM686 210h1v1h-1zM687 210h1v1h-1zM688 210h1v1h-1zM689 210h1v1h-1zM690 210h1v1h-1zM691 211h1v1h-1zM692 211h1v1h-1zM693 211h1v1h-1zM694 211h1v1h-1zM695 211h1v1h-1zM696 211h1v1h-1zM697 211h1v1h-1zM698 211h1v1h-1zM699 211h1v1h-1zM700 211h1v1h-1zM701 212h1v1h-1zM702 212h1v1h-1zM703 212h1v1h-1zM704 212h1v1h-1zM705 212h1v1h-1zM706 213h1v1h-1zM707 213h1v1h-1zM708 213h1v1h-1zM709 213h1v1h-1zM710 214h1v1h-1zM711 214h1v1h-1zM712 214h1v1h-1zM713 214h1v1h-1zM714 214h1v1h-1zM715 214h1v1h-1zM716 215h1v1h-1zM717 215h1v1h-1zM718 215h1v1h-1zM719 215h1v1h-1zM720 215h1v1h-1zM721 216h1v1h-1zM722 216h1v1h-1zM723 216h1v1h-1zM724 217h1v1h-1zM725 217h1v1h-1zM726 218h1v1h-1zM727 218h1v1h-1zM728 218h1v1h-1zM729 219h1v1h-1zM730 219h1v1h-1zM731 219h1v1h-1zM732 220h1v1h-1zM733 220h1v1h-1zM734 221h1v1h-1zM735 222h1v1h-1zM736 223h1v1h-1zM737 224h1v1h-1zM738 225h1v1h-1zM739 226h1v1h-1zM740 227h1v1h-1zM741 227h1v1h-1zM742 228h1v1h-1zM743 229h1v1h-1zM744 230h1v1h-1zM745 230h1v1h-1zM746 231h1v1h-1zM747 232h1v1h-1zM748 232h1v1h-1zM749 233h1v1h-1zM750 233h1v1h-1zM751 234h1v1h-1zM752 234h1v1h-1zM753 235h1v1h-1zM754 235h1v1h-1zM755 236h1v1h-1zM756 237h1v1h-1zM757 237h1v1h-1zM758 238h1v1h-1zM759 239h1v1h-1zM760 239h1v1h-1zM761 240h1v1h-1zM762 241h1v1h-1zM763 242h1v2h-1zM764 244h1v1h-1zM765 245h1v1h-1zM766 246h1v2h-1zM767 248h1v1h-1zM768 249h1v2h-1zM769 251h1v2h-1zM770 253h1v2h-1zM771 255h1v2h-1zM772 257h1v2h-1zM773 259h1v2h-1zM774 261h1v2h-1zM775 263h1v2h-1zM776 265h1v3h-1zM777 268h1v2h-1zM778 270h1v2h-1zM779 272h1v2h-1zM780 274h1v2h-1zM781 276h1v2h-1zM782 278h1v2h-1zM783 280h1v2h-1zM784 282h1v2h-1zM785 284h1v2h-1zM786 286h1v2h-1zM787 288h1v2h-1zM788 290h1v2h-1zM789 292h1v2h-1zM790 294h1v2h-1zM791 296h1v1h-1zM792 297h1v2h-1zM793 299h1v2h-1zM794 301h1v1h-1zM795 302h1v2h-1zM796 304h1v1h-1zM797 305h1v2h-1zM798 307h1v2h-1zM799 309h1v1h-1zM800 310h1v2h-1zM801 312h1v1h-1zM802 313h1v2h-1zM803 315h1v1h-1zM804 316h1v2h-1zM805 318h1v1h-1zM806 319h1v2h-1zM807 321h1v2h-1zM808 323h1v2h-1zM809 325h1v2h-1zM810 327h1v2h-1zM811 329h1v2h-1zM812 331h1v2h-1zM813 333h1v2h-1zM814 335h1v2h-1zM815 337h1v1h-1zM816 338h1v1h-1zM817 338h1v1h-1zM818 339h1v1h-1zM819 340h1v1h-1zM820 341h1v1h-1zM821 341h1v1h-1zM822 342h1v1h-1zM823 343h1v1h-1zM824 344h1v1h-1zM825 344h1v1h-1zM826 345h1v1h-1zM827 346h1v1h-1zM828 347h1v1h-1zM829 347h1v1h-1zM830 348h1v1h-1zM831 349h1v1h-1zM832 350h1v1h-1zM833 350h1v1h-1zM834 351h1v1h-1zM835 352h1v1h-1zM836 353h1v1h-1zM837 353h1v1h-1zM838 354h1v1h-1zM839 355h1v1h-1zM840 356h1v2h-1zM841 358h1v1h-1zM842 359h1v2h-1zM843 361h1v1h-1zM844 362h1v2h-1zM845 364h1v1h-1zM846 365h1v1h-1zM847 365h1v1h-1zM848 366h1v1h-1zM849 367h1v1h-1zM850 367h1v1h-1zM851 368h1v1h-1zM852 368h1v1h-1zM853 368h1v1h-1zM854 368h1v1h-1zM855 368h1v1h-1zM856 368h1v1h-1zM857 368h1v1h-1zM858 367h1v1h-1zM859 367h1v1h-1zM860 366h1v1h-1zM861 365h1v1h-1zM862 365h1v1h-1zM863 364h1v1h-1zM864 364h1v1h-1zM865 364h1v1h-1zM866 363h1v1h-1zM867 363h1v1h-1zM868 363h1v1h-1zM869 363h1v1h-1zM870 362h1v1h-1zM871 362h1v1h-1zM872 362h1v1h-1zM873 362h1v1h-1zM874 362h1v1h-1zM875 362h1v1h-1zM876 362h1v1h-1zM877 362h1v1h-1zM878 362h1v1h-1zM879 362h1v1h-1zM880 362h1v1h-1zM881 362h1v1h-1zM882 362h1v1h-1zM883 363h1v1h-1zM884 363h1v1h-1zM885 363h1v1h-1zM886 363h1v1h-1zM887 364h1v1h-1zM888 364h1v1h-1zM889 364h1v1h-1zM890 364h1v1h-1zM891 365h1v1h-1zM892 365h1v1h-1zM893 365h1v1h-1zM894 365h1v1h-1zM895 366h1v1h-1zM896 366h1v1h-1zM897 366h1v1h-1zM898 366h1v1h-1zM899 367h1v1h-1zM900 367h1v1h-1zM901 367h1v1h-1zM902 367h1v1h-1zM903 368h1v1h-1zM904 368h1v1h-1zM905 369h1v1h-1zM906 370h1v1h-1zM907 371h1v1h-1zM908 371h1v1h-1zM909 372h1v1h-1zM910 373h1v1h-1zM911 374h1v1h-1zM912 375h1v1h-1zM913 375h1v1h-1zM914 376h1v1h-1zM915 377h1v1h-1zM916 378h1v1h-1zM917 378h1v1h-1zM918 379h1v1h-1zM919 380h1v1h-1zM920 381h1v1h-1zM921 381h1v1h-1zM922 382h1v1h-1zM923 383h1v1h-1z" fill="#0000cd" />
<path d="M3 118h1v1h-1zM4 119h1v1h-1zM5 120h1v2h-1zM6 122h1v1h-1zM7 123h1v1h-1zM8 124h1v1h-1zM9 125h1v1h-1zM10 126h1v2h-1zM11 128h1v1h-1zM12 129h1v1h-1zM13 130h1v1h-1zM14 131h1v1h-1zM15 132h1v1h-1zM16 133h1v1h-1zM17 134h1v1h-1zM18 135h1v1h-1zM19 136h1v1h-1zM20 137h1v1h-1zM21 138h1v1h-1zM22 139h1v2h-1zM23 141h1v1h-1zM24 142h1v1h-1zM25 143h1v1h-1zM26 144h1v1h-1zM27 145h1v2h-1zM28 147h1v1h-1zM29 148h1v1h-1zM30 149h1v1h-1zM31 150h1v1h-1zM32 151h1v2h-1zM33 153h1v1h-1zM34 154h1v1h-1zM35 155h1v2h-1zM36 157h1v1h-1zM37 158h1v2h-1zM38 160h1v2h-1zM39 162h1v2h-1zM40 164h1v3h-1zM41 167h1v2h-1zM42 169h1v2h-1zM43 171h1v3h-1zM44 174h1v3h-1zM45 177h1v3h-1zM46 180h1v2h-1zM47 182h1v3h-1zM48 185h1v3h-1zM49 188h1v4h-1zM50 192h1v4h-1zM51 196h1v5h-1zM52 201h1v4h-1zM53 205h1v4h-1zM54 209h1v2h-1zM55 211h1v3h-1zM56 214h1v3h-1zM57 217h1v2h-1zM58 219h1v3h-1zM59 222h1v2h-1zM60 224h1v3h-1zM61 227h1v2h-1zM62 229h1v3h-1zM63 232h1v2h-1zM64 234h1v3h-1zM65 237h1v4h-1zM66 241h1v3h-1zM67 244h1v4h-1zM68 248h1v3h-1zM69 251h1v2h-1zM70 253h1v2h-1zM71 255h1v2h-1zM72 257h1v3h-1zM73 260h1v3h-1zM74 263h1v3h-1zM75 266h1v3h-1zM76 269h1v3h-1zM77 272h1v4h-1zM78 276h1v3h-1zM79 279h1v3h-1zM80 282h1v3h-1zM81 285h1v3h-1zM82 288h1v3h-1zM83 291h1v3h-1zM84 294h1v2h-1zM85 296h1v3h-1zM86 299h1v4h-1zM87 303h1v4h-1zM88 307h1v4h-1zM89 311h1v4h-1zM90 315h1v3h-1zM91 318h1v3h-1zM92 321h1v2h-1zM93 323h1v3h-1zM94 326h1v3h-1zM95 329h1v2h-1zM96 331h1v3h-1zM97 334h1v2h-1zM98 336h1v2h-1zM99 338h1v1h-1zM100 339h1v2h-1zM101 341h1v2h-1zM102 343h1v1h-1zM103 344h1v2h-1zM104 346h1v1h-1zM105 347h1v2h-1zM106 349h1v1h-1zM107 350h1v1h-1zM108 351h1v1h-1zM109 352h1v1h-1zM110 353h1v2h-1zM111 355h1v1h-1zM112 356h1v1h-1zM113 357h1v1h-1zM114 358h1v1h-1zM115 358h1v1h-1zM116 359h1v1h-1zM117 359h1v1h-1zM118 359h1v1h-1zM119 360h1v1h-1zM120 360h1v1h-1zM121 360h1v1h-1zM122 360h1v1h-1zM123 361h1v1h-1zM124 361h1v1h-1zM125 361h1v1h-1zM126 361h1v1h-1zM127 362h1v1h-1zM128 362h1v1h-1zM129 362h1v1h-1zM130 361h1v1h-1zM131 361h1v1h-1zM132 360h1v1h-1zM133 360h1v1h-1zM134 359h1v1h-1zM135 359h1v1h-1zM136 359h1v1h-1zM137 359h1v1h-1zM138 359h1v1h-1zM139 359h1v1h-1zM140 358h1v1h-1zM141 358h1v1h-1zM142 358h1v1h-1zM143 358h1v1h-1zM144 358h1v1h-1zM145 357h1v1h-1zM146 357h1v1h-1zM147 357h1v1h-1zM148 356h1v1h-1zM149 356h1v1h-1zM150 355h1v1h-1zM151 355h1v1h-1zM152 354h1v1h-1zM153 354h1v1h-1zM154 353h1v1h-1zM155 352h1v1h-1zM156 351h1v1h-1zM157 351h1v1h-1zM158 350h1v1h-1zM159 348h1v2h-1zM160 346h1v2h-1zM161 344h1v2h-1zM162 341h1v3h-1zM163 339h1v2h-1zM164 337h1v2h-1zM165 335h1v2h-1zM166 333h1v2h-1zM167 331h1v2h-1zM168 329h1v2h-1zM169 327h1v2h-1zM170 326h1v1h-1zM171 324h1v2h-1zM172 322h1v2h-1zM173 320h1v2h-1zM174 319h1v1h-1zM175 318h1v1h-1zM176 316h1v2h-1zM177 315h1v1h-1zM178 314h1v1h-1zM179 313h1v1h-1zM180 311h1v2h-1zM181 310h1v1h-1zM182 309h1v1h-1zM183 307h1v2h-1zM184 306h1v1h-1zM185 305h1v1h-1zM186 303h1v2h-1zM187 302h1v1h-1zM188 301h1v1h-1zM189 299h1v2h-1zM190 298h1v1h-1zM191 297h1v1h-1zM192 295h1v2h-1zM193 294h1v1h-1zM194 293h1v1h-1zM195 292h1v1h-1zM196 290h1v2h-1zM197 289h1v1h-1zM198 288h1v1h-1zM199 287h1v1h-1zM200 286h1v1h-1zM201 285h1v1h-1zM202 284h1v1h-1zM203 283h1v1h-1zM204 282h1v1h-1zM205 281h1v1h-1zM206 280h1v1h-1zM207 279h1v1h-1zM208 278h1v1h-1zM209 278h1v1h-1zM210 278h1v1h-1zM211 278h1v1h-1zM212 279h1v1h-1zM213 279h1v1h-1zM214 280h1v1h-1zM215 281h1v2h-1zM216 283h1v2h-1zM217 285h1v2h-1zM218 287h1v2h-1zM219 289h1v2h-1zM220 291h1v2h-1zM221 293h1v2h-1zM222 295h1v3h-1zM223 298h1v2h-1zM224 300h1v3h-1zM225 303h1v3h-1zM226 306h1v2h-1zM227 308h1v3h-1zM228 311h1v2h-1zM229 313h1v2h-1zM230 315h1v3h-1zM231 318h1v2h-1zM232 320h1v2h-1zM233 322h1v3h-1zM234 325h1v2h-1zM235 327h1v2h-1zM236 329h1v2h-1zM237 331h1v2h-1zM238 333h1v2h-1zM239 335h1v2h-1zM240 337h1v2h-1zM241 339h1v2h-1zM242 341h1v2h-1zM243 343h1v2h-1zM244 345h1v3h-1zM245 348h1v3h-1zM246 351h1v3h-1zM247 354h1v3h-1zM248 357h1v3h-1zM249 360h1v3h-1zM250 363h1v3h-1zM251 366h1v3h-1zM252 369h1v3h-1zM253 372h1v2h-1zM254 374h1v3h-1zM255 377h1v2h-1zM256 379h1v3h-1zM257 382h1v2h-1zM258 384h1v3h-1zM259 387h1v2h-1zM260 389h1v3h-1zM261 392h1v2h-1zM262 394h1v2h-1zM263 396h1v2h-1zM264 398h1v2h-1zM265 400h1v2h-1zM266 402h1v2h-1zM267 404h1v2h-1zM268 406h1v1h-1zM269 407h1v1h-1zM270 408h1v1h-1zM271 409h1v1h-1zM272 410h1v1h-1zM273 411h1v1h-1zM274 412h1v1h-1zM275 413h1v1h-1zM276 414h1v1h-1zM277 415h1v1h-1zM278 416h1v1h-1zM279 417h1v1h-1zM280 418h1v2h-1zM281 420h1v1h-1zM282 421h1v1h-1zM283 422h1v1h-1zM284 423h1v1h-1zM285 424h1v1h-1zM286 424h1v1h-1zM287 425h1v1h-1zM288 426h1v1h-1zM289 427h1v1h-1zM290 427h1v1h-1zM291 427h1v1h-1zM292 427h1v1h-1zM293 427h1v1h-1zM294 426h1v1h-1zM295 426h1v1h-1zM296 426h1v1h-1zM297 426h1v1h-1zM298 425h1v1h-1zM299 424h1v1h-1zM300 423h1v1h-1zM301 422h1v1h-1zM302 421h1v1h-1zM303 420h1v1h-1zM304 418h1v2h-1zM305 417h1v1h-1zM306 415h1v2h-1zM307 414h1v1h-1zM308 412h1v2h-1zM309 411h1v1h-1zM310 409h1v2h-1zM311 408h1v1h-1zM312 406h1v2h-1zM313 405h1v1h-1zM314 403h1v2h-1zM315 402h1v1h-1zM316 401h1v1h-1zM317 399h1v2h-1zM318 398h1v1h-1zM319 397h1v1h-1zM320 395h1v2h-1zM321 393h1v2h-1zM322 391h1v2h-1zM323 389h1v2h-1zM324 387h1v2h-1zM325 385h1v2h-1zM326 383h1v2h-1zM327 382h1v1h-1zM328 380h1v2h-1zM329 378h1v2h-1zM330 376h1v2h-1zM331 374h1v2h-1zM332 372h1v2h-1zM333 370h1v2h-1zM334 368h1v2h-1zM335 366h1v2h-1zM336 364h1v2h-1zM337 362h1v2h-1zM338 361h1v1h-1zM339 359h1v2h-1zM340 357h1v2h-1zM341 356h1v1h-1zM342 354h1v2h-1zM343 352h1v2h-1zM344 351h1v1h-1zM345 349h1v2h-1zM346 348h1v1h-1zM347 347h1v1h-1zM348 345h1v2h-1zM349 344h1v1h-1zM350 343h1v1h-1zM351 342h1v1h-1zM352 341h1v1h-1zM353 340h1v1h-1zM354 338h1v2h-1zM355 337h1v1h-1zM356 336h1v1h-1zM357 335h1v1h-1zM358 334h1v1h-1zM359 333h1v1h-1zM360 332h1v1h-1zM361 331h1v1h-1zM362 330h1v1h-1zM363 329h1v1h-1zM364 329h1v1h-1zM365 328h1v1h-1zM366 327h1v1h-1zM367 326h1v1h-1zM368 325h1v1h-1zM369 324h1v1h-1zM370 323h1v1h-1zM371 323h1v1h-1zM372 322h1v1h-1zM373 321h1v1h-1zM374 320h1v1h-1zM375 320h1v1h-1zM376 319h1v1h-1zM377 318h1v1h-1zM378 318h1v1h-1zM379 317h1v1h-1zM380 317h1v1h-1zM381 316h1v1h-1zM382 316h1v1h-1zM383 315h1v1h-1zM384 315h1v1h-1zM385 314h1v1h-1zM386 314h1v1h-1zM387 314h1v1h-1zM388 314h1v1h-1zM389 314h1v1h-1zM390 313h1v1h-1zM391 313h1v1h-1zM392 313h1v1h-1zM393 313h1v1h-1zM394 312h1v1h-1zM395 312h1v1h-1zM396 311h1v1h-1zM397 311h1v1h-1zM398 310h1v1h-1zM399 309h1v1h-1zM400 309h1v1h-1zM401 308h1v1h-1zM402 307h1v1h-1zM403 306h1v1h-1zM404 305h1v1h-1zM405 304h1v1h-1zM406 303h1v1h-1zM407 302h1v1h-1zM408 301h1v1h-1zM409 299h1v2h-1zM410 297h1v2h-1zM411 296h1v1h-1zM412 294h1v2h-1zM413 292h1v2h-1zM414 291h1v1h-1zM415 290h1v1h-1zM416 289h1v1h-1zM417 288h1v1h-1zM418 287h1v1h-1zM419 286h1v1h-1zM420 285h1v1h-1zM421 284h1v1h-1zM422 283h1v1h-1zM423 282h1v1h-1zM424 281h1v1h-1zM425 280h1v1h-1zM426 280h1v1h-1zM427 279h1v1h-1zM428 278h1v1h-1zM429 277h1v1h-1zM430 276h1v1h-1zM431 274h1v2h-1zM432 273h1v1h-1zM433 272h1v1h-1zM434 270h1v2h-1zM435 269h1v1h-1zM436 268h1v1h-1zM437 266h1v2h-1zM438 264h1v2h-1zM439 262h1v2h-1zM440 260h1v2h-1zM441 258h1v2h-1zM442 256h1v2h-1zM443 254h1v2h-1zM444 251h1v3h-1zM445 249h1v2h-1zM446 247h1v2h-1zM447 245h1v2h-1zM448 243h1v2h-1zM449 241h1v2h-1zM450 239h1v2h-1zM451 238h1v1h-1zM452 238h1v1h-1zM453 237h1v1h-1zM454 237h1v1h-1zM455 236h1v1h-1zM456 235h1v1h-1zM457 235h1v1h-1zM458 234h1v1h-1zM459 233h1v1h-1zM460 232h1v1h-1zM461 230h1v2h-1zM462 229h1v1h-1zM463 228h1v1h-1zM464 227h1v1h-1zM465 226h1v1h-1zM466 226h1v1h-1zM467 226h1v1h-1zM468 226h1v1h-1zM469 225h1v1h-1zM470 225h1v1h-1zM471 225h1v1h-1zM472 223h1v2h-1zM473 222h1v1h-1zM474 220h1v2h-1zM475 219h1v1h-1zM476 217h1v2h-1zM477 216h1v1h-1zM478 214h1v2h-1zM479 212h1v2h-1zM480 211h1v1h-1zM481 209h1v2h-1zM482 208h1v1h-1zM483 207h1v1h-1zM484 205h1v2h-1zM485 204h1v1h-1zM486 203h1v1h-1zM487 202h1v1h-1zM488 200h1v2h-1zM489 199h1v1h-1zM490 198h1v1h-1zM491 196h1v2h-1zM492 195h1v1h-1zM493 194h1v1h-1zM494 192h1v2h-1zM495 191h1v1h-1zM496 190h1v1h-1zM497 189h1v1h-1zM498 188h1v1h-1zM499 187h1v1h-1zM500 186h1v1h-1zM501 185h1v1h-1zM502 184h1v1h-1zM503 182h1v2h-1zM504 181h1v1h-1zM505 179h1v2h-1zM506 177h1v2h-1zM507 175h1v2h-1zM508 172h1v3h-1zM509 170h1v2h-1zM510 168h1v2h-1zM511 165h1v3h-1zM512 163h1v2h-1zM513 160h1v3h-1zM514 158h1v2h-1zM515 155h1v3h-1zM516 153h1v2h-1zM517 151h1v2h-1zM518 149h1v2h-1zM519 147h1v2h-1zM520 145h1v2h-1zM521 142h1v3h-1zM522 139h1v3h-1zM523 136h1v3h-1zM524 134h1v2h-1zM525 132h1v2h-1zM526 130h1v2h-1zM527 129h1v1h-1zM528 127h1v2h-1zM529 126h1v1h-1zM530 125h1v1h-1zM531 123h1v2h-1zM532 122h1v1h-1zM533 121h1v1h-1zM534 120h1v1h-1zM535 119h1v1h-1zM536 119h1v1h-1zM537 118h1v1h-1zM538 117h1v1h-1zM539 116h1v1h-1zM540 115h1v1h-1zM541 114h1v1h-1zM542 114h1v1h-1zM543 113h1v1h-1zM544 112h1v1h-1zM545 111h1v1h-1zM546 111h1v1h-1zM547 111h1v1h-1zM548 111h1v1h-1zM549 110h1v1h-1zM550 110h1v1h-1zM551 110h1v1h-1zM552 110h1v1h-1zM553 109h1v1h-1zM554 109h1v1h-1zM555 109h1v1h-1zM556 108h1v1h-1zM557 108h1v1h-1zM558 108h1v1h-1zM559 107h1v1h-1zM560 107h1v1h-1zM561 107h1v1h-1zM562 107h1v1h-1zM563 106h1v1h-1zM564 106h1v1h-1zM565 106h1v1h-1zM566 107h1v1h-1zM567 107h1v1h-1zM568 108h1v1h-1zM569 108h1v1h-1zM570 109h1v1h-1zM571 109h1v1h-1zM572 110h1v1h-1zM573 111h1v1h-1zM574 111h1v1h-1zM575 112h1v1h-1zM576 113h1v2h-1zM577 115h1v1h-1zM578 116h1v1h-1zM579 117h1v2h-1zM580 119h1v1h-1zM581 120h1v1h-1zM582 121h1v2h-1zM583 123h1v1h-1zM584 124h1v2h-1zM585 126h1v2h-1zM586 128h1v2h-1zM587 130h1v1h-1zM588 131h1v2h-1zM589 133h1v2h-1zM590 135h1v2h-1zM591 137h1v1h-1zM592 138h1v2h-1zM593 140h1v2h-1zM594 142h1v2h-1zM595 144h1v1h-1zM596 145h1v2h-1zM597 147h1v2h-1zM598 149h1v2h-1zM599 151h1v1h-1zM600 152h1v1h-1zM601 153h1v1h-1zM602 154h1v1h-1zM603 155h1v1h-1zM604 156h1v1h-1zM605 157h1v1h-1zM606 158h1v1h-1zM607 159h1v2h-1zM608 161h1v2h-1zM609 163h1v1h-1zM610 164h1v2h-1zM611 166h1v1h-1zM612 167h1v2h-1zM613 169h1v2h-1zM614 171h1v1h-1zM615 172h1v2h-1zM616 174h1v1h-1zM617 175h1v2h-1zM618 177h1v1h-1zM619 178h1v2h-1zM620 180h1v1h-1zM621 181h1v2h-1zM622 183h1v1h-1zM623 184h1v1h-1zM624 185h1v1h-1zM625 186h1v1h-1zM626 186h1v1h-1zM627 187h1v1h-1zM628 188h1v1h-1zM629 189h1v1h-1zM630 190h1v1h-1zM631 190h1v1h-1zM632 191h1v1h-1zM633 191h1v1h-1zM634 192h1v1h-1zM635 192h1v1h-1zM636 193h1v1h-1zM637 193h1v1h-1zM638 194h1v1h-1zM639 194h1v1h-1zM640 195h1v1h-1zM641 195h1v1h-1zM642 196h1v1h-1zM643 196h1v1h-1zM644 196h1v1h-1zM645 196h1v1h-1zM646 196h1v1h-1zM647 196h1v1h-1zM648 196h1v1h-1zM649 196h1v1h-1zM650 196h1v1h-1zM651 196h1v1h-1zM652 196h1v1h-1zM653 197h1v1h-1zM654 197h1v1h-1zM655 197h1v1h-1zM656 198h1v1h-1zM657 199h1v1h-1zM658 200h1v2h-1zM659 202h1v1h-1zM660 203h1v1h-1zM661 204h1v1h-1zM662 205h1v1h-1zM663 205h1v1h-1zM664 206h1v1h-1zM665 207h1v1h-1zM666 207h1v1h-1zM667 208h1v1h-1zM668 208h1v1h-1zM669 208h1v1h-1zM670 208h1v1h-1zM671 209h1v1h-1zM672 209h1v1h-1zM673 209h1v1h-1zM674 210h1v1h-1zM675 210h1v1h-1zM676 211h1v1h-1zM677 212h1v1h-1zM678 213h1v1h-1zM679 213h1v1h-1zM680 214h1v1h-1zM681 214h1v1h-1zM682 214h1v1h-1zM683 215h1v1h-1zM684 215h1v1h-1zM685 215h1v1h-1zM686 215h1v1h-1zM687 216h1v1h-1zM688 216h1v1h-1zM689 216h1v1h-1zM690 216h1v1h-1zM691 216h1v1h-1zM692 216h1v1h-1zM693 216h1v1h-1zM694 216h1v1h-1zM695 217h1v1h-1zM696 218h1v1h-1zM697 219h1v1h-1zM698 220h1v1h-1zM699 221h1v1h-1zM700 222h1v1h-1zM701 222h1v1h-1zM702 222h1v1h-1zM703 222h1v1h-1zM704 222h1v1h-1zM705 222h1v1h-1zM706 222h1v1h-1zM707 222h1v1h-1zM708 222h1v1h-1zM709 221h1v1h-1zM710 221h1v1h-1zM711 220h1v1h-1zM712 220h1v1h-1zM713 219h1v1h-1zM714 219h1v1h-1zM715 218h1v1h-1zM716 217h1v1h-1zM717 217h1v1h-1zM718 216h1v1h-1zM719 215h1v1h-1zM720 215h1v1h-1zM721 214h1v1h-1zM722 214h1v1h-1zM723 213h1v1h-1zM724 213h1v1h-1zM725 213h1v1h-1zM726 212h1v1h-1zM727 212h1v1h-1zM728 212h1v1h-1zM729 212h1v1h-1zM730 212h1v1h-1zM731 212h1v1h-1zM732 212h1v1h-1zM733 212h1v1h-1zM734 213h1v1h-1zM735 214h1v1h-1zM736 215h1v1h-1zM737 216h1v2h-1zM738 218h1v2h-1zM739 220h1v2h-1zM740 222h1v2h-1zM741 224h1v2h-1zM742 226h1v2h-1zM743 228h1v2h-1zM744 230h1v2h-1zM745 232h1v2h-1zM746 234h1v2h-1zM747 236h1v2h-1zM748 238h1v2h-1zM749 240h1v1h-1zM750 241h1v1h-1zM751 242h1v1h-1zM752 243h1v2h-1zM753 245h1v1h-1zM754 246h1v1h-1zM755 247h1v1h-1zM756 248h1v1h-1zM757 249h1v1h-1zM758 250h1v1h-1zM759 251h1v2h-1zM760 253h1v1h-1zM761 254h1v1h-1zM762 255h1v2h-1zM763 257h1v2h-1zM764 259h1v2h-1zM765 261h1v2h-1zM766 263h1v2h-1zM767 265h1v2h-1zM768 267h1v2h-1zM769 269h1v3h-1zM770 272h1v2h-1zM771 274h1v3h-1zM772 277h1v3h-1zM773 280h1v2h-1zM774 282h1v3h-1zM775 285h1v4h-1zM776 289h1v3h-1zM777 292h1v4h-1zM778 296h1v3h-1zM779 299h1v4h-1zM780 303h1v3h-1zM781 306h1v3h-1zM782 309h1v3h-1zM783 312h1v4h-1zM784 316h1v3h-1zM785 319h1v3h-1zM786 322h1v2h-1zM787 324h1v2h-1zM788 326h1v2h-1zM789 328h1v2h-1zM790 330h1v2h-1zM791 332h1v1h-1zM792 333h1v1h-1zM793 334h1v1h-1zM794 335h1v1h-1zM795 336h1v1h-1zM796 337h1v1h-1zM797 338h1v1h-1zM798 339h1v1h-1zM799 340h1v1h-1zM800 341h1v1h-1zM801 342h1v1h-1zM802 343h1v1h-1zM803 344h1v1h-1zM804 345h1v1h-1zM805 346h1v1h-1zM806 347h1v2h-1zM807 349h1v1h-1zM808 350h1v1h-1zM809 351h1v1h-1zM810 352h1v2h-1zM811 354h1v1h-1zM812 355h1v1h-1zM813 356h1v1h-1zM814 357h1v1h-1zM815 358h1v2h-1zM816 360h1v1h-1zM817 361h1v1h-1zM818 362h1v1h-1zM819 362h1v1h-1zM820 363h1v1h-1zM821 363h1v1h-1zM822 363h1v1h-1zM823 364h1v1h-1zM824 364h1v1h-1zM825 364h1v1h-1zM826 363h1v1h-1zM827 363h1v1h-1zM828 363h1v1h-1zM829 363h1v1h-1zM830 362h1v1h-1zM831 362h1v1h-1zM832 362h1v1h-1zM833 361h1v1h-1zM834 361h1v1h-1zM835 360h1v1h-1zM836 360h1v1h-1zM837 359h1v1h-1zM838 359h1v1h-1zM839 358h1v1h-1zM840 359h1v1h-1zM841 360h1v1h-1zM842 361h1v1h-1zM843 361h1v1h-1zM844 362h1v1h-1zM845 363h1v1h-1zM846 364h1v1h-1zM847 365h1v1h-1zM848 366h1v1h-1zM849 367h1v1h-1zM850 368h1v1h-1zM851 369h1v1h-1zM852 370h1v1h-1zM853 370h1v1h-1zM854 370h1v1h-1zM855 370h1v1h-1zM856 370h1v1h-1zM857 370h1v1h-1zM858 370h1v1h-1zM859 370h1v1h-1zM860 370h1v1h-1zM861 370h1v1h-1zM862 369h1v1h-1zM863 369h1v1h-1zM864 369h1v1h-1zM865 369h1v1h-1zM866 368h1v1h-1zM867 368h1v1h-1zM868 368h1v1h-1zM869 367h1v1h-1zM870 367h1v1h-1zM871 366h1v1h-1zM872 366h1v1h-1zM873 366h1v1h-1zM874 366h1v1h-1zM875 365h1v1h-1zM876 365h1v1h-1zM877 365h1v1h-1zM878 365h1v1h-1zM879 364h1v1h-1zM880 364h1v1h-1zM881 364h1v1h-1zM882 364h1v1h-1zM883 365h1v1h-1zM884 365h1v1h-1zM885 365h1v1h-1zM886 365h1v1h-1zM887 366h1v1h-1zM888 366h1v1h-1zM889 366h1v1h-1zM890 366h1v1h-1zM891 367h1v1h-1zM892 367h1v1h-1zM893 367h1v1h-1zM894 367h1v1h-1zM895 368h1v1h-1zM896 368h1v1h-1zM897 368h1v1h-1zM898 368h1v1h-1zM899 368h1v1h-1zM900 368h1v1h-1zM901 368h1v1h-1zM902 368h1v1h-1zM903 368h1v1h-1zM904 368h1v1h-1zM905 368h1v1h-1zM906 369h1v1h-1zM907 369h1v1h-1zM908 370h1v1h-1zM909 370h1v1h-1zM910 371h1v1h-1zM911 372h1v1h-1zM912 373h1v1h-1zM913 374h1v1h-1zM914 375h1v1h-1zM915 376h1v1h-1zM916 377h1v1h-1zM917 378h1v2h-1zM918 380h1v1h-1zM919 381h1v1h-1zM920 382h1v1h-1zM921 383h1v2h-1zM922 385h1v1h-1zM923 386h1v1h-1z" fill="#ff0000" />
<rect x="3" y="161" width="1" height="16" fill="#32cd32"/>
<rect x="2" y="161" width="3" height="16" fill="#32cd32"/>
<rect x="7" y="167" width="1" height="15" fill="#32cd32"/>
<rect x="6" y="170" width="3" height="6" fill="#32cd32"/>
<rect x="11" y="169" width="1" height="13" fill="#ff0000"/>
<rect x="10" y="172" width="3" height="4" fill="#ff0000"/>
<rect x="11" y="173" width="1" height="2" fill="#ff4a00"/>
<rect x="15" y="150" width="1" height="39" fill="#32cd32"/>
<rect x="14" y="173" width="3" height="9" fill="#32cd32"/>
<rect x="19" y="137" width="1" height="45" fill="#ff0000"/>
<rect x="18" y="169" width="3" height="13" fill="#ff0000"/>
<rect x="19" y="170" width="1" height="11" fill="#ff4a00"/>
<rect x="23" y="147" width="1" height="32" fill="#32cd32"/>
<rect x="22" y="170" width="3" height="3" fill="#32cd32"/>
<rect x="27" y="163" width="1" height="20" fill="#32cd32"/>
<rect x="26" y="171" width="3" height="4" fill="#32cd32"/>
<rect x="31" y="174" width="1" height="22" fill="#32cd32"/>
<rect x="30" y="174" width="3" height="19" fill="#32cd32"/>
<rect x="35" y="189" width="1" height="16" fill="#32cd32"/>
<rect x="34" y="190" width="3" height="5" fill="#32cd32"/>
<rect x="39" y="184" width="1" height="45" fill="#32cd32"/>
<rect x="38" y="194" width="3" height="27" fill="#32cd32"/>
<rect x="43" y="213" width="1" height="81" fill="#32cd32"/>
<rect x="42" y="218" width="3" height="66" fill="#32cd32"/>
<rect x="47" y="278" width="1" height="38" fill="#32cd32"/>
<rect x="46" y="282" width="3" height="25" fill="#32cd32"/>
<rect x="51" y="299" width="1" height="18" fill="#32cd32"/>
<rect x="50" y="304" width="3" height="7" fill="#32cd32"/>
<rect x="55" y="303" width="1" height="34" fill="#ff0000"/>
<rect x="54" y="305" width="3" height="11" fill="#ff0000"/>
<rect x="55" y="306" width="1" height="9" fill="#ff4a00"/>
<rect x="59" y="294" width="1" height="19" fill="#32cd32"/>
<rect x="58" y="305" width="3" height="4" fill="#32cd32"/>
<rect x="63" y="295" width="1" height="29" fill="#32cd32"/>
<rect x="62" y="307" width="3" height="11" fill="#32cd32"/>
<rect x="67" y="290" width="1" height="45" fill="#32cd32"/>
<rect x="66" y="316" width="3" height="18" fill="#32cd32"/>
<rect x="71" y="316" width="1" height="25" fill="#ff0000"/>
<rect x="70" y="326" width="3" height="7" fill="#ff0000"/>
<rect x="71" y="327" width="1" height="5" fill="#ff4a00"/>
<rect x="75" y="325" width="1" height="26" fill="#32cd32"/>
<rect x="74" y="326" width="3" height="24" fill="#32cd32"/>
<rect x="79" y="341" width="1" height="14" fill="#32cd32"/>
<rect x="78" y="348" width="3" height="6" fill="#32cd32"/>
<rect x="83" y="337" width="1" height="19" fill="#ff0000"/>
<rect x="82" y="344" width="3" height="11" fill="#ff0000"/>
<rect x="83" y="345" width="1" height="9" fill="#ff4a00"/>
<rect x="87" y="335" width="1" height="38" fill="#32cd32"/>
<rect x="86" y="345" width="3" height="24" fill="#32cd32"/>
<rect x="91" y="360" width="1" height="33" fill="#32cd32"/>
<rect x="90" y="368" width="3" height="15" fill="#32cd32"/>
<rect x="95" y="366" width="1" height="28" fill="#ff0000"/>
<rect x="94" y="374" width="3" height="9" fill="#ff0000"/>
<rect x="95" y="375" width="1" height="7" fill="#ff4a00"/>
<rect x="99" y="368" width="1" height="18" fill="#32cd32"/>
<rect x="98" y="373" width="3" height="6" fill="#32cd32"/>
<rect x="103" y="370" width="1" height="21" fill="#ff0000"/>
<rect x="102" y="374" width="3" height="5" fill="#ff0000"/>
<rect x="103" y="375" width="1" height="3" fill="#ff4a00"/>
<rect x="107" y="365" width="1" height="19" fill="#32cd32"/>
<rect x="106" y="373" width="3" height="8" fill="#32cd32"/>
<rect x="111" y="377" width="1" height="24" fill="#32cd32"/>
<rect x="110" y="378" width="3" height="15" fill="#32cd32"/>
<rect x="115" y="324" width="1" height="72" fill="#ff0000"/>
<rect x="114" y="350" width="3" height="43" fill="#ff0000"/>
<rect x="115" y="351" width="1" height="41" fill="#ff4a00"/>
<rect x="119" y="342" width="1" height="17" fill="#ff0000"/>
<rect x="118" y="345" width="3" height="7" fill="#ff0000"/>
<rect x="119" y="346" width="1" height="5" fill="#ff4a00"/>
<rect x="123" y="316" width="1" height="36" fill="#ff0000"/>
<rect x="122" y="336" width="3" height="12" fill="#ff0000"/>
<rect x="123" y="337" width="1" height="10" fill="#ff4a00"/>
<rect x="127" y="332" width="1" height="14" fill="#32cd32"/>
<rect x="126" y="336" width="3" height="6" fill="#32cd32"/>
<rect x="131" y="329" width="1" height="22" fill="#ff0000"/>
<rect x="130" y="337" width="3" height="3" fill="#ff0000"/>
<rect x="131" y="338" width="1" height="1" fill="#ff4a00"/>
<rect x="135" y="325" width="1" height="29" fill="#ff0000"/>
<rect x="134" y="337" width="3" height="3" fill="#ff0000"/>
<rect x="135" y="338" width="1" height="1" fill="#ff4a00"/>
<rect x="139" y="336" width="1" height="34" fill="#32cd32"/>
<rect x="138" y="337" width="3" height="23" fill="#32cd32"/>
<rect x="143" y="346" width="1" height="24" fill="#ff0000"/>
<rect x="142" y="349" width="3" height="12" fill="#ff0000"/>
<rect x="143" y="350" width="1" height="10" fill="#ff4a00"/>
<rect x="147" y="335" width="1" height="22" fill="#ff0000"/>
<rect x="146" y="348" width="3" height="3" fill="#ff0000"/>
<rect x="147" y="349" width="1" height="1" fill="#ff4a00"/>
<rect x="151" y="338" width="1" height="23" fill="#ff0000"/>
<rect x="150" y="341" width="3" height="10" fill="#ff0000"/>
<rect x="151" y="342" width="1" height="8" fill="#ff4a00"/>
<rect x="155" y="335" width="1" height="14" fill="#32cd32"/>
<rect x="154" y="341" width="3" height="6" fill="#32cd32"/>
<rect x="159" y="324" width="1" height="35" fill="#ff0000"/>
<rect x="158" y="324" width="3" height="24" fill="#ff0000"/>
<rect x="159" y="325" width="1" height="22" fill="#ff4a00"/>
<rect x="163" y="282" width="1" height="49" fill="#ff0000"/>
<rect x="162" y="295" width="3" height="31" fill="#ff0000"/>
<rect x="163" y="296" width="1" height="29" fill="#ff4a00"/>
<rect x="167" y="234" width="1" height="65" fill="#ff0000"/>
<rect x="166" y="244" width="3" height="52" fill="#ff0000"/>
<rect x="167" y="245" width="1" height="50" fill="#ff4a00"/>
<rect x="171" y="227" width="1" height="23" fill="#ff0000"/>
<rect x="170" y="243" width="3" height="2" fill="#ff0000"/>
<rect x="175" y="234" width="1" height="18" fill="#ff0000"/>
<rect x="174" y="243" width="3" height="5" fill="#ff0000"/>
<rect x="175" y="244" width="1" height="3" fill="#ff4a00"/>
<rect x="179" y="242" width="1" height="26" fill="#32cd32"/>
<rect x="178" y="242" width="3" height="21" fill="#32cd32"/>
<rect x="183" y="248" width="1" height="28" fill="#32cd32"/>
<rect x="182" y="262" width="3" height="8" fill="#32cd32"/>
<rect x="187" y="252" width="1" height="42" fill="#ff0000"/>
<rect x="186" y="257" width="3" height="13" fill="#ff0000"/>
<rect x="187" y="258" width="1" height="11" fill="#ff4a00"/>
<rect x="191" y="254" width="1" height="27" fill="#32cd32"/>
<rect x="190" y="257" width="3" height="24" fill="#32cd32"/>
<rect x="195" y="269" width="1" height="14" fill="#ff0000"/>
<rect x="194" y="274" width="3" height="6" fill="#ff0000"/>
<rect x="195" y="275" width="1" height="4" fill="#ff4a00"/>
<rect x="199" y="269" width="1" height="20" fill="#32cd32"/>
<rect x="198" y="273" width="3" height="10" fill="#32cd32"/>
<rect x="203" y="280" width="1" height="15" fill="#32cd32"/>
<rect x="202" y="281" width="3" height="9" fill="#32cd32"/>
<rect x="207" y="263" width="1" height="44" fill="#ff0000"/>
<rect x="206" y="285" width="3" height="5" fill="#ff0000"/>
<rect x="207" y="286" width="1" height="3" fill="#ff4a00"/>
<rect x="211" y="278" width="1" height="78" fill="#32cd32"/>
<rect x="210" y="285" width="3" height="59" fill="#32cd32"/>
<rect x="215" y="342" width="1" height="52" fill="#32cd32"/>
<rect x="214" y="344" width="3" height="45" fill="#32cd32"/>
<rect x="219" y="375" width="1" height="21" fill="#32cd32"/>
<rect x="218" y="386" width="3" height="5" fill="#32cd32"/>
<rect x="223" y="379" width="1" height="30" fill="#ff0000"/>
<rect x="222" y="381" width="3" height="10" fill="#ff0000"/>
<rect x="223" y="382" width="1" height="8" fill="#ff4a00"/>
<rect x="227" y="369" width="1" height="25" fill="#32cd32"/>
<rect x="226" y="381" width="3" height="3" fill="#32cd32"/>
<rect x="231" y="358" width="1" height="31" fill="#ff0000"/>
<rect x="230" y="381" width="3" height="2" fill="#ff0000"/>
<rect x="235" y="364" width="1" height="37" fill="#ff0000"/>
<rect x="234" y="378" width="3" height="5" fill="#ff0000"/>
<rect x="235" y="379" width="1" height="3" fill="#ff4a00"/>
<rect x="239" y="376" width="1" height="46" fill="#32cd32"/>
<rect x="238" y="377" width="3" height="32" fill="#32cd32"/>
<rect x="243" y="336" width="1" height="74" fill="#ff0000"/>
<rect x="242" y="387" width="3" height="22" fill="#ff0000"/>
<rect x="243" y="388" width="1" height="20" fill="#ff4a00"/>
<rect x="247" y="382" width="1" height="57" fill="#32cd32"/>
<rect x="246" y="388" width="3" height="50" fill="#32cd32"/>
<rect x="251" y="431" width="1" height="39" fill="#32cd32"/>
<rect x="250" y="436" width="3" height="24" fill="#32cd32"/>
<rect x="255" y="413" width="1" height="52" fill="#ff0000"/>
<rect x="254" y="416" width="3" height="44" fill="#ff0000"/>
<rect x="255" y="417" width="1" height="42" fill="#ff4a00"/>
<rect x="259" y="402" width="1" height="28" fill="#ff0000"/>
<rect x="258" y="409" width="3" height="9" fill="#ff0000"/>
<rect x="259" y="410" width="1" height="7" fill="#ff4a00"/>
<rect x="263" y="409" width="1" height="39" fill="#32cd32"/>
<rect x="262" y="409" width="3" height="14" fill="#32cd32"/>
<rect x="267" y="421" width="1" height="38" fill="#32cd32"/>
<rect x="266" y="422" width="3" height="30" fill="#32cd32"/>
<rect x="271" y="435" width="1" height="23" fill="#ff0000"/>
<rect x="270" y="446" width="3" height="6" fill="#ff0000"/>
<rect x="271" y="447" width="1" height="4" fill="#ff4a00"/>
<rect x="275" y="428" width="1" height="24" fill="#ff0000"/>
<rect x="274" y="432" width="3" height="14" fill="#ff0000"/>
<rect x="275" y="433" width="1" height="12" fill="#ff4a00"/>
<rect x="279" y="431" width="1" height="31" fill="#32cd32"/>
<rect x="278" y="432" width="3" height="22" fill="#32cd32"/>
<rect x="283" y="435" width="1" height="36" fill="#ff0000"/>
<rect x="282" y="445" width="3" height="9" fill="#ff0000"/>
<rect x="283" y="446" width="1" height="7" fill="#ff4a00"/>
<rect x="287" y="425" width="1" height="25" fill="#ff0000"/>
<rect x="286" y="425" width="3" height="22" fill="#ff0000"/>
<rect x="287" y="426" width="1" height="20" fill="#ff4a00"/>
<rect x="291" y="401" width="1" height="28" fill="#ff0000"/>
<rect x="290" y="416" width="3" height="12" fill="#ff0000"/>
<rect x="291" y="417" width="1" height="10" fill="#ff4a00"/>
<rect x="295" y="378" width="1" height="45" fill="#ff0000"/>
<rect x="294" y="378" width="3" height="44" fill="#ff0000"/>
<rect x="295" y="379" width="1" height="42" fill="#ff4a00"/>
<rect x="299" y="368" width="1" height="29" fill="#32cd32"/>
<rect x="298" y="379" width="3" height="8" fill="#32cd32"/>
<rect x="303" y="353" width="1" height="47" fill="#ff0000"/>
<rect x="302" y="361" width="3" height="27" fill="#ff0000"/>
<rect x="303" y="362" width="1" height="25" fill="#ff4a00"/>
<rect x="307" y="334" width="1" height="49" fill="#ff0000"/>
<rect x="306" y="340" width="3" height="23" fill="#ff0000"/>
<rect x="307" y="341" width="1" height="21" fill="#ff4a00"/>
<rect x="311" y="338" width="1" height="22" fill="#32cd32"/>
<rect x="310" y="340" width="3" height="16" fill="#32cd32"/>
<rect x="315" y="322" width="1" height="36" fill="#ff0000"/>
<rect x="314" y="328" width="3" height="28" fill="#ff0000"/>
<rect x="315" y="329" width="1" height="26" fill="#ff4a00"/>
<rect x="319" y="325" width="1" height="24" fill="#32cd32"/>
<rect x="318" y="328" width="3" height="21" fill="#32cd32"/>
<rect x="323" y="329" width="1" height="23" fill="#ff0000"/>
<rect x="322" y="338" width="3" height="11" fill="#ff0000"/>
<rect x="323" y="339" width="1" height="9" fill="#ff4a00"/>
<rect x="327" y="328" width="1" height="36" fill="#32cd32"/>
<rect x="326" y="339" width="3" height="19" fill="#32cd32"/>
<rect x="331" y="314" width="1" height="44" fill="#ff0000"/>
<rect x="330" y="325" width="3" height="33" fill="#ff0000"/>
<rect x="331" y="326" width="1" height="31" fill="#ff4a00"/>
<rect x="335" y="296" width="1" height="41" fill="#32cd32"/>
<rect x="334" y="326" width="3" height="4" fill="#32cd32"/>
<rect x="339" y="309" width="1" height="28" fill="#ff0000"/>
<rect x="338" y="310" width="3" height="21" fill="#ff0000"/>
<rect x="339" y="311" width="1" height="19" fill="#ff4a00"/>
<rect x="343" y="307" width="1" height="43" fill="#32cd32"/>
<rect x="342" y="309" width="3" height="40" fill="#32cd32"/>
<rect x="347" y="331" width="1" height="22" fill="#ff0000"/>
<rect x="346" y="335" width="3" height="14" fill="#ff0000"/>
<rect x="347" y="336" width="1" height="12" fill="#ff4a00"/>
<rect x="351" y="306" width="1" height="49" fill="#ff0000"/>
<rect x="350" y="324" width="3" height="13" fill="#ff0000"/>
<rect x="351" y="325" width="1" height="11" fill="#ff4a00"/>
<rect x="355" y="321" width="1" height="43" fill="#32cd32"/>
<rect x="354" y="323" width="3" height="7" fill="#32cd32"/>
<rect x="359" y="306" width="1" height="25" fill="#ff0000"/>
<rect x="358" y="311" width="3" height="19" fill="#ff0000"/>
<rect x="359" y="312" width="1" height="17" fill="#ff4a00"/>
<rect x="363" y="280" width="1" height="38" fill="#ff0000"/>
<rect x="362" y="285" width="3" height="28" fill="#ff0000"/>
<rect x="363" y="286" width="1" height="26" fill="#ff4a00"/>
<rect x="367" y="279" width="1" height="18" fill="#32cd32"/>
<rect x="366" y="286" width="3" height="11" fill="#32cd32"/>
<rect x="371" y="288" width="1" height="17" fill="#32cd32"/>
<rect x="370" y="295" width="3" height="3" fill="#32cd32"/>
<rect x="375" y="280" width="1" height="33" fill="#ff0000"/>
<rect x="374" y="288" width="3" height="10" fill="#ff0000"/>
<rect x="375" y="289" width="1" height="8" fill="#ff4a00"/>
<rect x="379" y="272" width="1" height="55" fill="#32cd32"/>
<rect x="378" y="287" width="3" height="30" fill="#32cd32"/>
<rect x="383" y="292" width="1" height="39" fill="#ff0000"/>
<rect x="382" y="302" width="3" height="15" fill="#ff0000"/>
<rect x="383" y="303" width="1" height="13" fill="#ff4a00"/>
<rect x="387" y="299" width="1" height="26" fill="#32cd32"/>
<rect x="386" y="301" width="3" height="15" fill="#32cd32"/>
<rect x="391" y="308" width="1" height="30" fill="#32cd32"/>
<rect x="390" y="313" width="3" height="12" fill="#32cd32"/>
<rect x="395" y="297" width="1" height="29" fill="#ff0000"/>
<rect x="394" y="303" width="3" height="22" fill="#ff0000"/>
<rect x="395" y="304" width="1" height="20" fill="#ff4a00"/>
<rect x="399" y="285" width="1" height="34" fill="#32cd32"/>
<rect x="398" y="302" width="3" height="8" fill="#32cd32"/>
<rect x="403" y="281" width="1" height="69" fill="#ff0000"/>
<rect x="402" y="297" width="3" height="12" fill="#ff0000"/>
<rect x="403" y="298" width="1" height="10" fill="#ff4a00"/>
<rect x="407" y="232" width="1" height="71" fill="#ff0000"/>
<rect x="406" y="247" width="3" height="50" fill="#ff0000"/>
<rect x="407" y="248" width="1" height="48" fill="#ff4a00"/>
<rect x="411" y="233" width="1" height="23" fill="#ff0000"/>
<rect x="410" y="245" width="3" height="3" fill="#ff0000"/>
<rect x="411" y="246" width="1" height="1" fill="#ff4a00"/>
<rect x="415" y="218" width="1" height="28" fill="#ff0000"/>
<rect x="414" y="226" width="3" height="13" fill="#ff0000"/>
<rect x="415" y="227" width="1" height="11" fill="#ff4a00"/>
<rect x="419" y="221" width="1" height="28" fill="#32cd32"/>
<rect x="418" y="226" width="3" height="11" fill="#32cd32"/>
<rect x="423" y="226" width="1" height="22" fill="#32cd32"/>
<rect x="422" y="235" width="3" height="9" fill="#32cd32"/>
<rect x="427" y="232" width="1" height="35" fill="#ff0000"/>
<rect x="426" y="236" width="3" height="9" fill="#ff0000"/>
<rect x="427" y="237" width="1" height="7" fill="#ff4a00"/>
<rect x="431" y="229" width="1" height="24" fill="#32cd32"/>
<rect x="430" y="236" width="3" height="11" fill="#32cd32"/>
<rect x="435" y="229" width="1" height="20" fill="#ff0000"/>
<rect x="434" y="236" width="3" height="11" fill="#ff0000"/>
<rect x="435" y="237" width="1" height="9" fill="#ff4a00"/>
<rect x="439" y="225" width="1" height="20" fill="#ff0000"/>
<rect x="438" y="230" width="3" height="7" fill="#ff0000"/>
<rect x="439" y="231" width="1" height="5" fill="#ff4a00"/>
<rect x="443" y="187" width="1" height="45" fill="#ff0000"/>
<rect x="442" y="188" width="3" height="43" fill="#ff0000"/>
<rect x="443" y="189" width="1" height="41" fill="#ff4a00"/>
<rect x="447" y="182" width="1" height="21" fill="#32cd32"/>
<rect x="446" y="188" width="3" height="9" fill="#32cd32"/>
<rect x="451" y="158" width="1" height="51" fill="#32cd32"/>
<rect x="450" y="195" width="3" height="7" fill="#32cd32"/>
<rect x="455" y="179" width="1" height="65" fill="#32cd32"/>
<rect x="454" y="199" width="3" height="38" fill="#32cd32"/>
<rect x="459" y="213" width="1" height="29" fill="#ff0000"/>
<rect x="458" y="223" width="3" height="14" fill="#ff0000"/>
<rect x="459" y="224" width="1" height="12" fill="#ff4a00"/>
<rect x="463" y="215" width="1" height="20" fill="#32cd32"/>
<rect x="462" y="224" width="3" height="7" fill="#32cd32"/>
<rect x="467" y="224" width="1" height="21" fill="#32cd32"/>
<rect x="466" y="228" width="3" height="11" fill="#32cd32"/>
<rect x="471" y="203" width="1" height="46" fill="#ff0000"/>
<rect x="470" y="206" width="3" height="33" fill="#ff0000"/>
<rect x="471" y="207" width="1" height="31" fill="#ff4a00"/>
<rect x="475" y="152" width="1" height="63" fill="#ff0000"/>
<rect x="474" y="159" width="3" height="49" fill="#ff0000"/>
<rect x="475" y="160" width="1" height="47" fill="#ff4a00"/>
<rect x="479" y="136" width="1" height="44" fill="#ff0000"/>
<rect x="478" y="149" width="3" height="12" fill="#ff0000"/>
<rect x="479" y="150" width="1" height="10" fill="#ff4a00"/>
<rect x="483" y="138" width="1" height="34" fill="#32cd32"/>
<rect x="482" y="149" width="3" height="22" fill="#32cd32"/>
<rect x="487" y="156" width="1" height="17" fill="#ff0000"/>
<rect x="486" y="168" width="3" height="3" fill="#ff0000"/>
<rect x="487" y="169" width="1" height="1" fill="#ff4a00"/>
<rect x="491" y="159" width="1" height="19" fill="#ff0000"/>
<rect x="490" y="161" width="3" height="9" fill="#ff0000"/>
<rect x="491" y="162" width="1" height="7" fill="#ff4a00"/>
<rect x="495" y="144" width="1" height="24" fill="#ff0000"/>
<rect x="494" y="146" width="3" height="15" fill="#ff0000"/>
<rect x="495" y="147" width="1" height="13" fill="#ff4a00"/>
<rect x="499" y="128" width="1" height="47" fill="#ff0000"/>
<rect x="498" y="134" width="3" height="13" fill="#ff0000"/>
<rect x="499" y="135" width="1" height="11" fill="#ff4a00"/>
<rect x="503" y="112" width="1" height="39" fill="#32cd32"/>
<rect x="502" y="133" width="3" height="5" fill="#32cd32"/>
<rect x="507" y="104" width="1" height="35" fill="#ff0000"/>
<rect x="506" y="107" width="3" height="32" fill="#ff0000"/>
<rect x="507" y="108" width="1" height="30" fill="#ff4a00"/>
<rect x="511" y="90" width="1" height="23" fill="#ff0000"/>
<rect x="510" y="93" width="3" height="16" fill="#ff0000"/>
<rect x="511" y="94" width="1" height="14" fill="#ff4a00"/>
<rect x="515" y="89" width="1" height="16" fill="#32cd32"/>
<rect x="514" y="93" width="3" height="7" fill="#32cd32"/>
<rect x="519" y="92" width="1" height="31" fill="#32cd32"/>
<rect x="518" y="98" width="3" height="18" fill="#32cd32"/>
<rect x="523" y="47" width="1" height="76" fill="#ff0000"/>
<rect x="522" y="83" width="3" height="33" fill="#ff0000"/>
<rect x="523" y="84" width="1" height="31" fill="#ff4a00"/>
<rect x="527" y="79" width="1" height="34" fill="#32cd32"/>
<rect x="526" y="82" width="3" height="11" fill="#32cd32"/>
<rect x="531" y="66" width="1" height="30" fill="#ff0000"/>
<rect x="530" y="79" width="3" height="14" fill="#ff0000"/>
<rect x="531" y="80" width="1" height="12" fill="#ff4a00"/>
<rect x="535" y="85" width="1" height="29" fill="#32cd32"/>
<rect x="534" y="97" width="3" height="12" fill="#32cd32"/>
<rect x="539" y="105" width="1" height="19" fill="#32cd32"/>
<rect x="538" y="107" width="3" height="6" fill="#32cd32"/>
<rect x="543" y="109" width="1" height="31" fill="#32cd32"/>
<rect x="542" y="112" width="3" height="13" fill="#32cd32"/>
<rect x="547" y="112" width="1" height="26" fill="#32cd32"/>
<rect x="546" y="124" width="3" height="6" fill="#32cd32"/>
<rect x="551" y="119" width="1" height="15" fill="#ff0000"/>
<rect x="550" y="122" width="3" height="8" fill="#ff0000"/>
<rect x="551" y="123" width="1" height="6" fill="#ff4a00"/>
<rect x="555" y="115" width="1" height="10" fill="#ff0000"/>
<rect x="554" y="116" width="3" height="8" fill="#ff0000"/>
<rect x="555" y="117" width="1" height="6" fill="#ff4a00"/>
<rect x="559" y="88" width="1" height="28" fill="#ff0000"/>
<rect x="558" y="93" width="3" height="22" fill="#ff0000"/>
<rect x="559" y="94" width="1" height="20" fill="#ff4a00"/>
<rect x="563" y="92" width="1" height="23" fill="#32cd32"/>
<rect x="562" y="92" width="3" height="22" fill="#32cd32"/>
<rect x="567" y="93" width="1" height="41" fill="#32cd32"/>
<rect x="566" y="111" width="3" height="13" fill="#32cd32"/>
<rect x="571" y="103" width="1" height="59" fill="#32cd32"/>
<rect x="570" y="122" width="3" height="18" fill="#32cd32"/>
<rect x="575" y="135" width="1" height="38" fill="#32cd32"/>
<rect x="574" y="138" width="3" height="15" fill="#32cd32"/>
<rect x="579" y="143" width="1" height="28" fill="#32cd32"/>
<rect x="578" y="151" width="3" height="17" fill="#32cd32"/>
<rect x="583" y="147" width="1" height="23" fill="#ff0000"/>
<rect x="582" y="153" width="3" height="15" fill="#ff0000"/>
<rect x="583" y="154" width="1" height="13" fill="#ff4a00"/>
<rect x="587" y="151" width="1" height="25" fill="#32cd32"/>
<rect x="586" y="153" width="3" height="21" fill="#32cd32"/>
<rect x="591" y="158" width="1" height="58" fill="#32cd32"/>
<rect x="590" y="172" width="3" height="39" fill="#32cd32"/>
<rect x="595" y="185" width="1" height="37" fill="#ff0000"/>
<rect x="594" y="206" width="3" height="5" fill="#ff0000"/>
<rect x="595" y="207" width="1" height="3" fill="#ff4a00"/>
<rect x="599" y="199" width="1" height="35" fill="#ff0000"/>
<rect x="598" y="204" width="3" height="3" fill="#ff0000"/>
<rect x="599" y="205" width="1" height="1" fill="#ff4a00"/>
<rect x="603" y="184" width="1" height="27" fill="#32cd32"/>
<rect x="602" y="204" width="3" height="3" fill="#32cd32"/>
<rect x="607" y="198" width="1" height="18" fill="#ff0000"/>
<rect x="606" y="199" width="3" height="8" fill="#ff0000"/>
<rect x="607" y="200" width="1" height="6" fill="#ff4a00"/>
<rect x="611" y="191" width="1" height="27" fill="#32cd32"/>
<rect x="610" y="199" width="3" height="16" fill="#32cd32"/>
<rect x="615" y="174" width="1" height="42" fill="#ff0000"/>
<rect x="614" y="179" width="3" height="36" fill="#ff0000"/>
<rect x="615" y="180" width="1" height="34" fill="#ff4a00"/>
<rect x="619" y="164" width="1" height="59" fill="#32cd32"/>
<rect x="618" y="180" width="3" height="35" fill="#32cd32"/>
<rect x="623" y="188" width="1" height="40" fill="#ff0000"/>
<rect x="622" y="188" width="3" height="23" fill="#ff0000"/>
<rect x="623" y="189" width="1" height="21" fill="#ff4a00"/>
<rect x="627" y="167" width="1" height="27" fill="#32cd32"/>
<rect x="626" y="189" width="3" height="4" fill="#32cd32"/>
<rect x="631" y="187" width="1" height="17" fill="#32cd32"/>
<rect x="630" y="192" width="3" height="8" fill="#32cd32"/>
<rect x="635" y="177" width="1" height="26" fill="#ff0000"/>
<rect x="634" y="188" width="3" height="13" fill="#ff0000"/>
<rect x="635" y="189" width="1" height="11" fill="#ff4a00"/>
<rect x="639" y="147" width="1" height="48" fill="#ff0000"/>
<rect x="638" y="174" width="3" height="16" fill="#ff0000"/>
<rect x="639" y="175" width="1" height="14" fill="#ff4a00"/>
<rect x="643" y="164" width="1" height="37" fill="#32cd32"/>
<rect x="642" y="174" width="3" height="3" fill="#32cd32"/>
<rect x="647" y="170" width="1" height="36" fill="#32cd32"/>
<rect x="646" y="175" width="3" height="24" fill="#32cd32"/>
<rect x="651" y="195" width="1" height="21" fill="#32cd32"/>
<rect x="650" y="199" width="3" height="12" fill="#32cd32"/>
<rect x="655" y="213" width="1" height="21" fill="#32cd32"/>
<rect x="654" y="214" width="3" height="15" fill="#32cd32"/>
<rect x="659" y="223" width="1" height="51" fill="#32cd32"/>
<rect x="658" y="228" width="3" height="45" fill="#32cd32"/>
<rect x="663" y="248" width="1" height="33" fill="#32cd32"/>
<rect x="662" y="271" width="3" height="9" fill="#32cd32"/>
<rect x="667" y="217" width="1" height="73" fill="#ff0000"/>
<rect x="666" y="218" width="3" height="62" fill="#ff0000"/>
<rect x="667" y="219" width="1" height="60" fill="#ff4a00"/>
<rect x="671" y="206" width="1" height="25" fill="#32cd32"/>
<rect x="670" y="219" width="3" height="3" fill="#32cd32"/>
<rect x="675" y="218" width="1" height="17" fill="#32cd32"/>
<rect x="674" y="220" width="3" height="5" fill="#32cd32"/>
<rect x="679" y="215" width="1" height="13" fill="#ff0000"/>
<rect x="678" y="221" width="3" height="3" fill="#ff0000"/>
<rect x="679" y="222" width="1" height="1" fill="#ff4a00"/>
<rect x="683" y="203" width="1" height="22" fill="#ff0000"/>
<rect x="682" y="213" width="3" height="10" fill="#ff0000"/>
<rect x="683" y="214" width="1" height="8" fill="#ff4a00"/>
<rect x="687" y="184" width="1" height="41" fill="#ff0000"/>
<rect x="686" y="210" width="3" height="5" fill="#ff0000"/>
<rect x="687" y="211" width="1" height="3" fill="#ff4a00"/>
<rect x="691" y="156" width="1" height="81" fill="#ff0000"/>
<rect x="690" y="188" width="3" height="25" fill="#ff0000"/>
<rect x="691" y="189" width="1" height="23" fill="#ff4a00"/>
<rect x="695" y="188" width="1" height="22" fill="#32cd32"/>
<rect x="694" y="188" width="3" height="10" fill="#32cd32"/>
<rect x="699" y="188" width="1" height="49" fill="#32cd32"/>
<rect x="698" y="196" width="3" height="35" fill="#32cd32"/>
<rect x="703" y="215" width="1" height="22" fill="#ff0000"/>
<rect x="702" y="221" width="3" height="6" fill="#ff0000"/>
<rect x="703" y="222" width="1" height="4" fill="#ff4a00"/>
<rect x="707" y="219" width="1" height="16" fill="#32cd32"/>
<rect x="706" y="221" width="3" height="7" fill="#32cd32"/>
<rect x="711" y="186" width="1" height="53" fill="#ff0000"/>
<rect x="710" y="193" width="3" height="34" fill="#ff0000"/>
<rect x="711" y="194" width="1" height="32" fill="#ff4a00"/>
<rect x="715" y="180" width="1" height="44" fill="#32cd32"/>
<rect x="714" y="193" width="3" height="13" fill="#32cd32"/>
<rect x="719" y="196" width="1" height="27" fill="#32cd32"/>
<rect x="718" y="203" width="3" height="14" fill="#32cd32"/>
<rect x="723" y="205" width="1" height="26" fill="#ff0000"/>
<rect x="722" y="206" width="3" height="11" fill="#ff0000"/>
<rect x="723" y="207" width="1" height="9" fill="#ff4a00"/>
<rect x="727" y="199" width="1" height="15" fill="#ff0000"/>
<rect x="726" y="204" width="3" height="4" fill="#ff0000"/>
<rect x="727" y="205" width="1" height="2" fill="#ff4a00"/>
<rect x="731" y="201" width="1" height="32" fill="#32cd32"/>
<rect x="730" y="204" width="3" height="28" fill="#32cd32"/>
<rect x="735" y="224" width="1" height="71" fill="#32cd32"/>
<rect x="734" y="228" width="3" height="60" fill="#32cd32"/>
<rect x="739" y="280" width="1" height="43" fill="#32cd32"/>
<rect x="738" y="286" width="3" height="25" fill="#32cd32"/>
<rect x="743" y="290" width="1" height="28" fill="#ff0000"/>
<rect x="742" y="299" width="3" height="12" fill="#ff0000"/>
<rect x="743" y="300" width="1" height="10" fill="#ff4a00"/>
<rect x="747" y="286" width="1" height="32" fill="#ff0000"/>
<rect x="746" y="290" width="3" height="11" fill="#ff0000"/>
<rect x="747" y="291" width="1" height="9" fill="#ff4a00"/>
<rect x="751" y="285" width="1" height="24" fill="#32cd32"/>
<rect x="750" y="289" width="3" height="16" fill="#32cd32"/>
<rect x="755" y="280" width="1" height="27" fill="#ff0000"/>
<rect x="754" y="287" width="3" height="19" fill="#ff0000"/>
<rect x="755" y="288" width="1" height="17" fill="#ff4a00"/>
<rect x="759" y="257" width="1" height="35" fill="#ff0000"/>
<rect x="758" y="267" width="3" height="23" fill="#ff0000"/>
<rect x="759" y="268" width="1" height="21" fill="#ff4a00"/>
<rect x="763" y="255" width="1" height="68" fill="#32cd32"/>
<rect x="762" y="267" width="3" height="50" fill="#32cd32"/>
<rect x="767" y="310" width="1" height="51" fill="#32cd32"/>
<rect x="766" y="316" width="3" height="37" fill="#32cd32"/>
<rect x="771" y="345" width="1" height="22" fill="#32cd32"/>
<rect x="770" y="351" width="3" height="10" fill="#32cd32"/>
<rect x="775" y="358" width="1" height="35" fill="#32cd32"/>
<rect x="774" y="360" width="3" height="30" fill="#32cd32"/>
<rect x="779" y="378" width="1" height="16" fill="#ff0000"/>
<rect x="778" y="384" width="3" height="6" fill="#ff0000"/>
<rect x="779" y="385" width="1" height="4" fill="#ff4a00"/>
<rect x="783" y="378" width="1" height="33" fill="#32cd32"/>
<rect x="782" y="384" width="3" height="5" fill="#32cd32"/>
<rect x="787" y="357" width="1" height="48" fill="#ff0000"/>
<rect x="786" y="367" width="3" height="22" fill="#ff0000"/>
<rect x="787" y="368" width="1" height="20" fill="#ff4a00"/>
<rect x="791" y="346" width="1" height="25" fill="#ff0000"/>
<rect x="790" y="360" width="3" height="9" fill="#ff0000"/>
<rect x="791" y="361" width="1" height="7" fill="#ff4a00"/>
<rect x="795" y="350" width="1" height="23" fill="#ff0000"/>
<rect x="794" y="357" width="3" height="4" fill="#ff0000"/>
<rect x="795" y="358" width="1" height="2" fill="#ff4a00"/>
<rect x="799" y="340" width="1" height="31" fill="#ff0000"/>
<rect x="798" y="342" width="3" height="17" fill="#ff0000"/>
<rect x="799" y="343" width="1" height="15" fill="#ff4a00"/>
<rect x="803" y="339" width="1" height="20" fill="#32cd32"/>
<rect x="802" y="342" width="3" height="11" fill="#32cd32"/>
<rect x="807" y="344" width="1" height="35" fill="#ff0000"/>
<rect x="806" y="345" width="3" height="8" fill="#ff0000"/>
<rect x="807" y="346" width="1" height="6" fill="#ff4a00"/>
<rect x="811" y="325" width="1" height="37" fill="#32cd32"/>
<rect x="810" y="345" width="3" height="13" fill="#32cd32"/>
<rect x="815" y="355" width="1" height="30" fill="#32cd32"/>
<rect x="814" y="356" width="3" height="13" fill="#32cd32"/>
<rect x="819" y="353" width="1" height="25" fill="#ff0000"/>
<rect x="818" y="358" width="3" height="11" fill="#ff0000"/>
<rect x="819" y="359" width="1" height="9" fill="#ff4a00"/>
<rect x="823" y="356" width="1" height="26" fill="#32cd32"/>
<rect x="822" y="358" width="3" height="5" fill="#32cd32"/>
<rect x="827" y="360" width="1" height="22" fill="#32cd32"/>
<rect x="826" y="362" width="3" height="10" fill="#32cd32"/>
<rect x="831" y="344" width="1" height="38" fill="#ff0000"/>
<rect x="830" y="361" width="3" height="11" fill="#ff0000"/>
<rect x="831" y="362" width="1" height="9" fill="#ff4a00"/>
<rect x="835" y="349" width="1" height="20" fill="#ff0000"/>
<rect x="834" y="356" width="3" height="6" fill="#ff0000"/>
<rect x="835" y="357" width="1" height="4" fill="#ff4a00"/>
<rect x="839" y="331" width="1" height="29" fill="#ff0000"/>
<rect x="838" y="343" width="3" height="15" fill="#ff0000"/>
<rect x="839" y="344" width="1" height="13" fill="#ff4a00"/>
<rect x="843" y="313" width="1" height="125" fill="#32cd32"/>
<rect x="842" y="343" width="3" height="77" fill="#32cd32"/>
<rect x="847" y="415" width="1" height="24" fill="#000"/>
<rect x="846" y="418" width="3" height="1" fill="#000"/>
<rect x="851" y="386" width="1" height="43" fill="#ff0000"/>
<rect x="850" y="393" width="3" height="27" fill="#ff0000"/>
<rect x="851" y="394" width="1" height="25" fill="#ff4a00"/>
<rect x="855" y="353" width="1" height="48" fill="#ff0000"/>
<rect x="854" y="371" width="3" height="24" fill="#ff0000"/>
<rect x="855" y="372" width="1" height="22" fill="#ff4a00"/>
<rect x="859" y="340" width="1" height="52" fill="#ff0000"/>
<rect x="858" y="341" width="3" height="32" fill="#ff0000"/>
<rect x="859" y="342" width="1" height="30" fill="#ff4a00"/>
<rect x="863" y="322" width="1" height="33" fill="#32cd32"/>
<rect x="862" y="342" width="3" height="10" fill="#32cd32"/>
<rect x="867" y="324" width="1" height="34" fill="#ff0000"/>
<rect x="866" y="336" width="3" height="16" fill="#ff0000"/>
<rect x="867" y="337" width="1" height="14" fill="#ff4a00"/>
<rect x="871" y="327" width="1" height="22" fill="#32cd32"/>
<rect x="870" y="336" width="3" height="7" fill="#32cd32"/>
<rect x="875" y="334" width="1" height="14" fill="#32cd32"/>
<rect x="874" y="341" width="3" height="6" fill="#32cd32"/>
<rect x="879" y="337" width="1" height="21" fill="#32cd32"/>
<rect x="878" y="345" width="3" height="6" fill="#32cd32"/>
<rect x="883" y="344" width="1" height="66" fill="#32cd32"/>
<rect x="882" y="348" width="3" height="43" fill="#32cd32"/>
<rect x="887" y="380" width="1" height="23" fill="#ff0000"/>
<rect x="886" y="385" width="3" height="6" fill="#ff0000"/>
<rect x="887" y="386" width="1" height="4" fill="#ff4a00"/>
<rect x="891" y="366" width="1" height="23" fill="#ff0000"/>
<rect x="890" y="381" width="3" height="6" fill="#ff0000"/>
<rect x="891" y="382" width="1" height="4" fill="#ff4a00"/>
<rect x="895" y="365" width="1" height="17" fill="#32cd32"/>
<rect x="894" y="374" width="3" height="5" fill="#32cd32"/>
<rect x="899" y="365" width="1" height="28" fill="#32cd32"/>
<rect x="898" y="377" width="3" height="16" fill="#32cd32"/>
<rect x="903" y="384" width="1" height="53" fill="#32cd32"/>
<rect x="902" y="390" width="3" height="8" fill="#32cd32"/>
<rect x="907" y="391" width="1" height="39" fill="#32cd32"/>
<rect x="906" y="396" width="3" height="15" fill="#32cd32"/>
<rect x="911" y="400" width="1" height="16" fill="#ff0000"/>
<rect x="910" y="406" width="3" height="5" fill="#ff0000"/>
<rect x="911" y="407" width="1" height="3" fill="#ff4a00"/>
<rect x="915" y="394" width="1" height="23" fill="#32cd32"/>
<rect x="914" y="406" width="3" height="8" fill="#32cd32"/>
<rect x="919" y="409" width="1" height="13" fill="#32cd32"/>
<rect x="918" y="412" width="3" height="7" fill="#32cd32"/>
<rect x="923" y="417" width="1" height="2" fill="#ff0000"/>
<rect x="922" y="418" width="3" height="1" fill="#ff0000"/>
</g>
<g shape-rendering="crispEdges">
<rect x="3" y="521" width="2" height="2" fill="#c0c0c0"/>
<rect x="6" y="523" width="3" height="2" fill="#c0c0c0"/>
<rect x="10" y="523" width="3" height="4" fill="#c0c0c0"/>
<rect x="14" y="523" width="3" height="6" fill="#c0c0c0"/>
<rect x="18" y="523" width="3" height="7" fill="#c0c0c0"/>
<rect x="22" y="523" width="3" height="8" fill="#c0c0c0"/>
<rect x="26" y="523" width="3" height="9" fill="#c0c0c0"/>
<rect x="30" y="523" width="3" height="11" fill="#c0c0c0"/>
<rect x="34" y="523" width="3" height="12" fill="#c0c0c0"/>
<rect x="38" y="523" width="3" height="14" fill="#c0c0c0"/>
<rect x="42" y="523" width="3" height="20" fill="#c0c0c0"/>
<rect x="46" y="523" width="3" height="25" fill="#c0c0c0"/>
<rect x="50" y="523" width="3" height="30" fill="#c0c0c0"/>
<rect x="54" y="523" width="3" height="32" fill="#c0c0c0"/>
<rect x="58" y="523" width="3" height="34" fill="#c0c0c0"/>
<rect x="62" y="523" width="3" height="36" fill="#c0c0c0"/>
<rect x="66" y="523" width="3" height="38" fill="#c0c0c0"/>
<rect x="70" y="523" width="3" height="39" fill="#c0c0c0"/>
<rect x="74" y="523" width="3" height="40" fill="#c0c0c0"/>
<rect x="78" y="523" width="3" height="41" fill="#c0c0c0"/>
<rect x="82" y="523" width="3" height="41" fill="#c0c0c0"/>
<rect x="86" y="523" width="3" height="42" fill="#c0c0c0"/>
<rect x="90" y="523" width="3" height="43" fill="#c0c0c0"/>
<rect x="94" y="523" width="3" height="43" fill="#c0c0c0"/>
<rect x="98" y="523" width="3" height="41" fill="#c0c0c0"/>
<rect x="102" y="523" width="3" height="41" fill="#c0c0c0"/>
<rect x="106" y="523" width="3" height="40" fill="#c0c0c0"/>
<rect x="110" y="523" width="3" height="39" fill="#c0c0c0"/>
<rect x="114" y="523" width="3" height="37" fill="#c0c0c0"/>
<rect x="118" y="523" width="3" height="33" fill="#c0c0c0"/>
<rect x="122" y="523" width="3" height="30" fill="#c0c0c0"/>
<rect x="126" y="523" width="3" height="27" fill="#c0c0c0"/>
<rect x="130" y="523" width="3" height="24" fill="#c0c0c0"/>
<rect x="134" y="523" width="3" height="22" fill="#c0c0c0"/>
<rect x="138" y="523" width="3" height="21" fill="#c0c0c0"/>
<rect x="142" y="523" width="3" height="19" fill="#c0c0c0"/>
<rect x="146" y="523" width="3" height="18" fill="#c0c0c0"/>
<rect x="150" y="523" width="3" height="16" fill="#c0c0c0"/>
<rect x="154" y="523" width="3" height="15" fill="#c0c0c0"/>
<rect x="158" y="523" width="3" height="13" fill="#c0c0c0"/>
<rect x="162" y="523" width="3" height="9" fill="#c0c0c0"/>
<rect x="166" y="523" width="3" height="3" fill="#c0c0c0"/>
<rect x="170" y="520" width="3" height="3" fill="#c0c0c0"/>
<rect x="174" y="516" width="3" height="7" fill="#c0c0c0"/>
<rect x="178" y="514" width="3" height="9" fill="#c0c0c0"/>
<rect x="182" y="513" width="3" height="10" fill="#c0c0c0"/>
<rect x="186" y="512" width="3" height="11" fill="#c0c0c0"/>
<rect x="190" y="512" width="3" height="11" fill="#c0c0c0"/>
<rect x="194" y="513" width="3" height="10" fill="#c0c0c0"/>
<rect x="198" y="514" width="3" height="9" fill="#c0c0c0"/>
<rect x="202" y="514" width="3" height="9" fill="#c0c0c0"/>
<rect x="206" y="515" width="3" height="8" fill="#c0c0c0"/>
<rect x="210" y="519" width="3" height="4" fill="#c0c0c0"/>
<rect x="214" y="523" width="3" height="3" fill="#c0c0c0"/>
<rect x="218" y="523" width="3" height="8" fill="#c0c0c0"/>
<rect x="222" y="523" width="3" height="11" fill="#c0c0c0"/>
<rect x="226" y="523" width="3" height="13" fill="#c0c0c0"/>
<rect x="230" y="523" width="3" height="16" fill="#c0c0c0"/>
<rect x="234" y="523" width="3" height="16" fill="#c0c0c0"/>
<rect x="238" y="523" width="3" height="19" fill="#c0c0c0"/>
<rect x="242" y="523" width="3" height="19" fill="#c0c0c0"/>
<rect x="246" y="523" width="3" height="22" fill="#c0c0c0"/>
<rect x="250" y="523" width="3" height="25" fill="#c0c0c0"/>
<rect x="254" y="523" width="3" height="25" fill="#c0c0c0"/>
<rect x="258" y="523" width="3" height="24" fill="#c0c0c0"/>
<rect x="262" y="523" width="3" height="24" fill="#c0c0c0"/>
<rect x="266" y="523" width="3" height="25" fill="#c0c0c0"/>
<rect x="270" y="523" width="3" height="27" fill="#c0c0c0"/>
<rect x="274" y="523" width="3" height="25" fill="#c0c0c0"/>
<rect x="278" y="523" width="3" height="25" fill="#c0c0c0"/>
<rect x="282" y="523" width="3" height="25" fill="#c0c0c0"/>
<rect x="286" y="523" width="3" height="24" fill="#c0c0c0"/>
<rect x="290" y="523" width="3" height="22" fill="#c0c0c0"/>
<rect x="294" y="523" width="3" height="18" fill="#c0c0c0"/>
<rect x="298" y="523" width="3" height="14" fill="#c0c0c0"/>
<rect x="302" y="523" width="3" height="10" fill="#c0c0c0"/>
<rect x="306" y="523" width="3" height="6" fill="#c0c0c0"/>
<rect x="310" y="523" width="3" height="3" fill="#c0c0c0"/>
<rect x="314" y="521" width="3" height="2" fill="#c0c0c0"/>
<rect x="318" y="519" width="3" height="4" fill="#c0c0c0"/>
<rect x="322" y="517" width="3" height="6" fill="#c0c0c0"/>
<rect x="326" y="517" width="3" height="6" fill="#c0c0c0"/>
<rect x="330" y="515" width="3" height="8" fill="#c0c0c0"/>
<rect x="334" y="514" width="3" height="9" fill="#c0c0c0"/>
<rect x="338" y="511" width="3" height="12" fill="#c0c0c0"/>
<rect x="342" y="512" width="3" height="11" fill="#c0c0c0"/>
<rect x="346" y="512" width="3" height="11" fill="#c0c0c0"/>
<rect x="350" y="512" width="3" height="11" fill="#c0c0c0"/>
<rect x="354" y="512" width="3" height="11" fill="#c0c0c0"/>
<rect x="358" y="511" width="3" height="12" fill="#c0c0c0"/>
<rect x="362" y="508" width="3" height="15" fill="#c0c0c0"/>
<rect x="366" y="507" width="3" height="16" fill="#c0c0c0"/>
<rect x="370" y="507" width="3" height="16" fill="#c0c0c0"/>
<rect x="374" y="506" width="3" height="17" fill="#c0c0c0"/>
<rect x="378" y="507" width="3" height="16" fill="#c0c0c0"/>
<rect x="382" y="508" width="3" height="15" fill="#c0c0c0"/>
<rect x="386" y="509" width="3" height="14" fill="#c0c0c0"/>
<rect x="390" y="511" width="3" height="12" fill="#c0c0c0"/>
<rect x="394" y="511" width="3" height="12" fill="#c0c0c0"/>
<rect x="398" y="511" width="3" height="12" fill="#c0c0c0"/>
<rect x="402" y="511" width="3" height="12" fill="#c0c0c0"/>
<rect x="406" y="508" width="3" height="15" fill="#c0c0c0"/>
<rect x="410" y="506" width="3" height="17" fill="#c0c0c0"/>
<rect x="414" y="503" width="3" height="20" fill="#c0c0c0"/>
<rect x="418" y="502" width="3" height="21" fill="#c0c0c0"/>
<rect x="422" y="502" width="3" height="21" fill="#c0c0c0"/>
<rect x="426" y="501" width="3" height="22" fill="#c0c0c0"/>
<rect x="430" y="502" width="3" height="21" fill="#c0c0c0"/>
<rect x="434" y="502" width="3" height="21" fill="#c0c0c0"/>
<rect x="438" y="501" width="3" height="22" fill="#c0c0c0"/>
<rect x="442" y="499" width="3" height="24" fill="#c0c0c0"/>
<rect x="446" y="498" width="3" height="25" fill="#c0c0c0"/>
<rect x="450" y="497" width="3" height="26" fill="#c0c0c0"/>
<rect x="454" y="500" width="3" height="23" fill="#c0c0c0"/>
<rect x="458" y="500" width="3" height="23" fill="#c0c0c0"/>
<rect x="462" y="502" width="3" height="21" fill="#c0c0c0"/>
<rect x="466" y="504" width="3" height="19" fill="#c0c0c0"/>
<rect x="470" y="504" width="3" height="19" fill="#c0c0c0"/>
<rect x="474" y="501" width="3" height="22" fill="#c0c0c0"/>
<rect x="478" y="499" width="3" height="24" fill="#c0c0c0"/>
<rect x="482" y="498" width="3" height="25" fill="#c0c0c0"/>
<rect x="486" y="498" width="3" height="25" fill="#c0c0c0"/>
<rect x="490" y="498" width="3" height="25" fill="#c0c0c0"/>
<rect x="494" y="497" width="3" height="26" fill="#c0c0c0"/>
<rect x="498" y="496" width="3" height="27" fill="#c0c0c0"/>
<rect x="502" y="496" width="3" height="27" fill="#c0c0c0"/>
<rect x="506" y="494" width="3" height="29" fill="#c0c0c0"/>
<rect x="510" y="492" width="3" height="31" fill="#c0c0c0"/>
<rect x="514" y="491" width="3" height="32" fill="#c0c0c0"/>
<rect x="518" y="492" width="3" height="31" fill="#c0c0c0"/>
<rect x="522" y="491" width="3" height="32" fill="#c0c0c0"/>
<rect x="526" y="491" width="3" height="32" fill="#c0c0c0"/>
<rect x="530" y="490" width="3" height="33" fill="#c0c0c0"/>
<rect x="534" y="492" width="3" height="31" fill="#c0c0c0"/>
<rect x="538" y="494" width="3" height="29" fill="#c0c0c0"/>
<rect x="542" y="497" width="3" height="26" fill="#c0c0c0"/>
<rect x="546" y="499" width="3" height="24" fill="#c0c0c0"/>
<rect x="550" y="501" width="3" height="22" fill="#c0c0c0"/>
<rect x="554" y="503" width="3" height="20" fill="#c0c0c0"/>
<rect x="558" y="503" width="3" height="20" fill="#c0c0c0"/>
<rect x="562" y="504" width="3" height="19" fill="#c0c0c0"/>
<rect x="566" y="506" width="3" height="17" fill="#c0c0c0"/>
<rect x="570" y="509" width="3" height="14" fill="#c0c0c0"/>
<rect x="574" y="512" width="3" height="11" fill="#c0c0c0"/>
<rect x="578" y="515" width="3" height="8" fill="#c0c0c0"/>
<rect x="582" y="517" width="3" height="6" fill="#c0c0c0"/>
<rect x="586" y="520" width="3" height="3" fill="#c0c0c0"/>
<rect x="590" y="523" width="3" height="2" fill="#c0c0c0"/>
<rect x="594" y="523" width="3" height="6" fill="#c0c0c0"/>
<rect x="598" y="523" width="3" height="8" fill="#c0c0c0"/>
<rect x="602" y="523" width="3" height="10" fill="#c0c0c0"/>
<rect x="606" y="523" width="3" height="11" fill="#c0c0c0"/>
<rect x="610" y="523" width="3" height="12" fill="#c0c0c0"/>
<rect x="614" y="523" width="3" height="11" fill="#c0c0c0"/>
<rect x="618" y="523" width="3" height="12" fill="#c0c0c0"/>
<rect x="622" y="523" width="3" height="12" fill="#c0c0c0"/>
<rect x="626" y="523" width="3" height="11" fill="#c0c0c0"/>
<rect x="630" y="523" width="3" height="10" fill="#c0c0c0"/>
<rect x="634" y="523" width="3" height="10" fill="#c0c0c0"/>
<rect x="638" y="523" width="3" height="9" fill="#c0c0c0"/>
<rect x="642" y="523" width="3" height="7" fill="#c0c0c0"/>
<rect x="646" y="523" width="3" height="8" fill="#c0c0c0"/>
<rect x="650" y="523" width="3" height="9" fill="#c0c0c0"/>
<rect x="654" y="523" width="3" height="11" fill="#c0c0c0"/>
<rect x="658" y="523" width="3" height="14" fill="#c0c0c0"/>
<rect x="662" y="523" width="3" height="17" fill="#c0c0c0"/>
<rect x="666" y="523" width="3" height="16" fill="#c0c0c0"/>
<rect x="670" y="523" width="3" height="15" fill="#c0c0c0"/>
<rect x="674" y="523" width="3" height="14" fill="#c0c0c0"/>
<rect x="678" y="523" width="3" height="13" fill="#c0c0c0"/>
<rect x="682" y="523" width="3" height="12" fill="#c0c0c0"/>
<rect x="686" y="523" width="3" height="11" fill="#c0c0c0"/>
<rect x="690" y="523" width="3" height="8" fill="#c0c0c0"/>
<rect x="694" y="523" width="3" height="7" fill="#c0c0c0"/>
<rect x="698" y="523" width="3" height="7" fill="#c0c0c0"/>
<rect x="702" y="523" width="3" height="7" fill="#c0c0c0"/>
<rect x="706" y="523" width="3" height="8" fill="#c0c0c0"/>
<rect x="710" y="523" width="3" height="6" fill="#c0c0c0"/>
<rect x="714" y="523" width="3" height="5" fill="#c0c0c0"/>
<rect x="718" y="523" width="3" height="5" fill="#c0c0c0"/>
<rect x="722" y="523" width="3" height="3" fill="#c0c0c0"/>
<rect x="726" y="523" width="3" height="3" fill="#c0c0c0"/>
<rect x="730" y="523" width="3" height="4" fill="#c0c0c0"/>
<rect x="734" y="523" width="3" height="9" fill="#c0c0c0"/>
<rect x="738" y="523" width="3" height="13" fill="#c0c0c0"/>
<rect x="742" y="523" width="3" height="16" fill="#c0c0c0"/>
<rect x="746" y="523" width="3" height="18" fill="#c0c0c0"/>
<rect x="750" y="523" width="3" height="19" fill="#c0c0c0"/>
<rect x="754" y="523" width="3" height="20" fill="#c0c0c0"/>
<rect x="758" y="523" width="3" height="18" fill="#c0c0c0"/>
<rect x="762" y="523" width="3" height="20" fill="#c0c0c0"/>
<rect x="766" y="523" width="3" height="23" fill="#c0c0c0"/>
<rect x="770" y="523" width="3" height="26" fill="#c0c0c0"/>
<rect x="774" y="523" width="3" height="30" fill="#c0c0c0"/>
<rect x="778" y="523" width="3" height="32" fill="#c0c0c0"/>
<rect x="782" y="523" width="3" height="34" fill="#c0c0c0"/>
<rect x="786" y="523" width="3" height="34" fill="#c0c0c0"/>
<rect x="790" y="523" width="3" height="32" fill="#c0c0c0"/>
<rect x="794" y="523" width="3" height="31" fill="#c0c0c0"/>
<rect x="798" y="523" width="3" height="29" fill="#c0c0c0"/>
<rect x="802" y="523" width="3" height="27" fill="#c0c0c0"/>
<rect x="806" y="523" width="3" height="25" fill="#c0c0c0"/>
<rect x="810" y="523" width="3" height="24" fill="#c0c0c0"/>
<rect x="814" y="523" width="3" height="24" fill="#c0c0c0"/>
<rect x="818" y="523" width="3" height="22" fill="#c0c0c0"/>
<rect x="822" y="523" width="3" height="22" fill="#c0c0c0"/>
<rect x="826" y="523" width="3" height="21" fill="#c0c0c0"/>
<rect x="830" y="523" width="3" height="20" fill="#c0c0c0"/>
<rect x="834" y="523" width="3" height="18" fill="#c0c0c0"/>
<rect x="838" y="523" width="3" height="16" fill="#c0c0c0"/>
<rect x="842" y="523" width="3" height="19" fill="#c0c0c0"/>
<rect x="846" y="523" width="3" height="20" fill="#c0c0c0"/>
<rect x="850" y="523" width="3" height="21" fill="#c0c0c0"/>
<rect x="854" y="523" width="3" height="19" fill="#c0c0c0"/>
<rect x="858" y="523" width="3" height="16" fill="#c0c0c0"/>
<rect x="862" y="523" width="3" height="13" fill="#c0c0c0"/>
<rect x="866" y="523" width="3" height="11" fill="#c0c0c0"/>
<rect x="870" y="523" width="3" height="9" fill="#c0c0c0"/>
<rect x="874" y="523" width="3" height="7" fill="#c0c0c0"/>
<rect x="878" y="523" width="3" height="6" fill="#c0c0c0"/>
<rect x="882" y="523" width="3" height="8" fill="#c0c0c0"/>
<rect x="886" y="523" width="3" height="9" fill="#c0c0c0"/>
<rect x="890" y="523" width="3" height="9" fill="#c0c0c0"/>
<rect x="894" y="523" width="3" height="9" fill="#c0c0c0"/>
<rect x="898" y="523" width="3" height="10" fill="#c0c0c0"/>
<rect x="902" y="523" width="3" height="11" fill="#c0c0c0"/>
<rect x="906" y="523" width="3" height="12" fill="#c0c0c0"/>
<rect x="910" y="523" width="3" height="13" fill="#c0c0c0"/>
<rect x="914" y="523" width="3" height="14" fill="#c0c0c0"/>
<rect x="918" y="523" width="3" height="14" fill="#c0c0c0"/>
<rect x="922" y="523" width="3" height="15" fill="#c0c0c0"/>
<path d="M3 513h1v1h-1zM4 514h1v1h-1zM5 514h1v1h-1zM6 515h1v1h-1zM7 515h1v1h-1zM8 516h1v1h-1zM9 516h1v1h-1zM10 517h1v1h-1zM11 517h1v1h-1zM12 518h1v1h-1zM13 518h1v1h-1zM14 519h1v1h-1zM15 519h1v1h-1zM16 520h1v1h-1zM17 520h1v1h-1zM18 521h1v1h-1zM19 521h1v1h-1zM20 522h1v1h-1zM21 522h1v1h-1zM22 523h1v1h-1zM23 523h1v1h-1zM24 524h1v1h-1zM25 524h1v1h-1zM26 525h1v1h-1zM27 525h1v1h-1zM28 526h1v1h-1zM29 526h1v1h-1zM30 527h1v1h-1zM31 527h1v1h-1zM32 528h1v1h-1zM33 528h1v1h-1zM34 528h1v1h-1zM35 529h1v1h-1zM36 529h1v1h-1zM37 530h1v1h-1zM38 530h1v1h-1zM39 531h1v1h-1zM40 531h1v1h-1zM41 532h1v1h-1zM42 533h1v1h-1zM43 533h1v1h-1zM44 534h1v1h-1zM45 534h1v1h-1zM46 535h1v1h-1zM47 536h1v1h-1zM48 536h1v1h-1zM49 537h1v1h-1zM50 538h1v1h-1zM51 538h1v1h-1zM52 539h1v1h-1zM53 540h1v1h-1zM54 541h1v1h-1zM55 541h1v1h-1zM56 542h1v1h-1zM57 543h1v1h-1zM58 543h1v1h-1zM59 544h1v1h-1zM60 545h1v1h-1zM61 546h1v1h-1zM62 546h1v1h-1zM63 547h1v1h-1zM64 548h1v1h-1zM65 548h1v1h-1zM66 549h1v1h-1zM67 550h1v1h-1zM68 550h1v1h-1zM69 551h1v1h-1zM70 552h1v1h-1zM71 553h1v1h-1zM72 553h1v1h-1zM73 554h1v1h-1zM74 555h1v1h-1zM75 555h1v1h-1zM76 556h1v1h-1zM77 556h1v1h-1zM78 557h1v1h-1zM79 557h1v1h-1zM80 558h1v1h-1zM81 558h1v1h-1zM82 559h1v1h-1zM83 559h1v1h-1zM84 560h1v1h-1zM85 560h1v1h-1zM86 560h1v1h-1zM87 561h1v1h-1zM88 561h1v1h-1zM89 561h1v1h-1zM90 561h1v1h-1zM91 561h1v1h-1zM92 562h1v1h-1zM93 562h1v1h-1zM94 562h1v1h-1zM95 562h1v1h-1zM96 562h1v1h-1zM97 563h1v1h-1zM98 563h1v1h-1zM99 563h1v1h-1zM100 563h1v1h-1zM101 563h1v1h-1zM102 563h1v1h-1zM103 563h1v1h-1zM104 563h1v1h-1zM105 563h1v1h-1zM106 563h1v1h-1zM107 563h1v1h-1zM108 563h1v1h-1zM109 563h1v1h-1zM110 563h1v1h-1zM111 563h1v1h-1zM112 563h1v1h-1zM113 563h1v1h-1zM114 563h1v1h-1zM115 563h1v1h-1zM116 563h1v1h-1zM117 563h1v1h-1zM118 563h1v1h-1zM119 563h1v1h-1zM120 562h1v1h-1zM121 562h1v1h-1zM122 562h1v1h-1zM123 561h1v1h-1zM124 561h1v1h-1zM125 560h1v1h-1zM126 560h1v1h-1zM127 559h1v1h-1zM128 559h1v1h-1zM129 558h1v1h-1zM130 557h1v1h-1zM131 557h1v1h-1zM132 556h1v1h-1zM133 556h1v1h-1zM134 555h1v1h-1zM135 555h1v1h-1zM136 554h1v1h-1zM137 554h1v1h-1zM138 553h1v1h-1zM139 553h1v1h-1zM140 552h1v1h-1zM141 552h1v1h-1zM142 551h1v1h-1zM143 551h1v1h-1zM144 550h1v1h-1zM145 549h1v1h-1zM146 549h1v1h-1zM147 548h1v1h-1zM148 548h1v1h-1zM149 547h1v1h-1zM150 546h1v1h-1zM151 546h1v1h-1zM152 545h1v1h-1zM153 545h1v1h-1zM154 544h1v1h-1zM155 544h1v1h-1zM156 543h1v1h-1zM157 543h1v1h-1zM158 543h1v1h-1zM159 542h1v1h-1zM160 542h1v1h-1zM161 541h1v1h-1zM162 541h1v1h-1zM163 540h1v1h-1zM164 540h1v1h-1zM165 539h1v1h-1zM166 538h1v1h-1zM167 538h1v1h-1zM168 537h1v1h-1zM169 536h1v1h-1zM170 536h1v1h-1zM171 535h1v1h-1zM172 534h1v1h-1zM173 534h1v1h-1zM174 533h1v1h-1zM175 532h1v1h-1zM176 531h1v1h-1zM177 530h1v1h-1zM178 530h1v1h-1zM179 529h1v1h-1zM180 528h1v1h-1zM181 527h1v1h-1zM182 526h1v1h-1zM183 525h1v1h-1zM184 525h1v1h-1zM185 524h1v1h-1zM186 523h1v1h-1zM187 523h1v1h-1zM188 522h1v1h-1zM189 521h1v1h-1zM190 521h1v1h-1zM191 520h1v1h-1zM192 519h1v1h-1zM193 519h1v1h-1zM194 518h1v1h-1zM195 518h1v1h-1zM196 517h1v1h-1zM197 516h1v1h-1zM198 516h1v1h-1zM199 515h1v1h-1zM200 515h1v1h-1zM201 515h1v1h-1zM202 515h1v1h-1zM203 514h1v1h-1zM204 514h1v1h-1zM205 514h1v1h-1zM206 514h1v1h-1zM207 514h1v1h-1zM208 514h1v1h-1zM209 514h1v1h-1zM210 514h1v1h-1zM211 514h1v1h-1zM212 514h1v1h-1zM213 514h1v1h-1zM214 514h1v1h-1zM215 515h1v1h-1zM216 515h1v1h-1zM217 516h1v1h-1zM218 516h1v1h-1zM219 517h1v1h-1zM220 518h1v1h-1zM221 518h1v1h-1zM222 519h1v1h-1zM223 519h1v1h-1zM224 520h1v1h-1zM225 520h1v1h-1zM226 521h1v1h-1zM227 521h1v1h-1zM228 522h1v1h-1zM229 523h1v1h-1zM230 524h1v1h-1zM231 525h1v1h-1zM232 525h1v1h-1zM233 526h1v1h-1zM234 527h1v1h-1zM235 528h1v1h-1zM236 529h1v1h-1zM237 530h1v1h-1zM238 530h1v1h-1zM239 531h1v1h-1zM240 532h1v1h-1zM241 533h1v1h-1zM242 533h1v1h-1zM243 534h1v1h-1zM244 535h1v1h-1zM245 536h1v1h-1zM246 536h1v1h-1zM247 537h1v1h-1zM248 537h1v1h-1zM249 538h1v1h-1zM250 538h1v1h-1zM251 539h1v1h-1zM252 539h1v1h-1zM253 540h1v1h-1zM254 540h1v1h-1zM255 541h1v1h-1zM256 541h1v1h-1zM257 541h1v1h-1zM258 542h1v1h-1zM259 542h1v1h-1zM260 543h1v1h-1zM261 543h1v1h-1zM262 543h1v1h-1zM263 544h1v1h-1zM264 544h1v1h-1zM265 544h1v1h-1zM266 545h1v1h-1zM267 545h1v1h-1zM268 545h1v1h-1zM269 546h1v1h-1zM270 546h1v1h-1zM271 546h1v1h-1zM272 546h1v1h-1zM273 547h1v1h-1zM274 547h1v1h-1zM275 547h1v1h-1zM276 547h1v1h-1zM277 548h1v1h-1zM278 548h1v1h-1zM279 548h1v1h-1zM280 548h1v1h-1zM281 548h1v1h-1zM282 548h1v1h-1zM283 548h1v1h-1zM284 548h1v1h-1zM285 548h1v1h-1zM286 548h1v1h-1zM287 548h1v1h-1zM288 548h1v1h-1zM289 548h1v1h-1zM290 548h1v1h-1zM291 548h1v1h-1zM292 547h1v1h-1zM293 547h1v1h-1zM294 547h1v1h-1zM295 547h1v1h-1zM296 547h1v1h-1zM297 546h1v1h-1zM298 546h1v1h-1zM299 545h1v1h-1zM300 545h1v1h-1zM301 544h1v1h-1zM302 544h1v1h-1zM303 543h1v1h-1zM304 543h1v1h-1zM305 543h1v1h-1zM306 542h1v1h-1zM307 542h1v1h-1zM308 541h1v1h-1zM309 541h1v1h-1zM310 540h1v1h-1zM311 540h1v1h-1zM312 539h1v1h-1zM313 539h1v1h-1zM314 538h1v1h-1zM315 537h1v1h-1zM316 536h1v1h-1zM317 535h1v1h-1zM318 534h1v1h-1zM319 533h1v1h-1zM320 532h1v1h-1zM321 531h1v1h-1zM322 530h1v1h-1zM323 529h1v1h-1zM324 529h1v1h-1zM325 528h1v1h-1zM326 527h1v1h-1zM327 526h1v1h-1zM328 526h1v1h-1zM329 525h1v1h-1zM330 524h1v1h-1zM331 524h1v1h-1zM332 523h1v1h-1zM333 523h1v1h-1zM334 522h1v1h-1zM335 522h1v1h-1zM336 521h1v1h-1zM337 521h1v1h-1zM338 520h1v1h-1zM339 519h1v1h-1zM340 519h1v1h-1zM341 518h1v1h-1zM342 518h1v1h-1zM343 517h1v1h-1zM344 517h1v1h-1zM345 516h1v1h-1zM346 516h1v1h-1zM347 515h1v1h-1zM348 515h1v1h-1zM349 515h1v1h-1zM350 515h1v1h-1zM351 515h1v1h-1zM352 515h1v1h-1zM353 514h1v1h-1zM354 514h1v1h-1zM355 514h1v1h-1zM356 514h1v1h-1zM357 514h1v1h-1zM358 514h1v1h-1zM359 514h1v1h-1zM360 513h1v1h-1zM361 513h1v1h-1zM362 513h1v1h-1zM363 513h1v1h-1zM364 512h1v1h-1zM365 512h1v1h-1zM366 512h1v1h-1zM367 512h1v1h-1zM368 511h1v1h-1zM369 511h1v1h-1zM370 511h1v1h-1zM371 511h1v1h-1zM372 510h1v1h-1zM373 510h1v1h-1zM374 510h1v1h-1zM375 510h1v1h-1zM376 510h1v1h-1zM377 510h1v1h-1zM378 509h1v1h-1zM379 509h1v1h-1zM380 509h1v1h-1zM381 509h1v1h-1zM382 509h1v1h-1zM383 509h1v1h-1zM384 508h1v1h-1zM385 508h1v1h-1zM386 508h1v1h-1zM387 508h1v1h-1zM388 508h1v1h-1zM389 508h1v1h-1zM390 508h1v1h-1zM391 508h1v1h-1zM392 508h1v1h-1zM393 509h1v1h-1zM394 509h1v1h-1zM395 509h1v1h-1zM396 509h1v1h-1zM397 509h1v1h-1zM398 509h1v1h-1zM399 509h1v1h-1zM400 509h1v1h-1zM401 509h1v1h-1zM402 510h1v1h-1zM403 510h1v1h-1zM404 510h1v1h-1zM405 510h1v1h-1zM406 510h1v1h-1zM407 510h1v1h-1zM408 510h1v1h-1zM409 510h1v1h-1zM410 510h1v1h-1zM411 509h1v1h-1zM412 509h1v1h-1zM413 509h1v1h-1zM414 509h1v1h-1zM415 509h1v1h-1zM416 509h1v1h-1zM417 509h1v1h-1zM418 509h1v1h-1zM419 508h1v1h-1zM420 508h1v1h-1zM421 508h1v1h-1zM422 508h1v1h-1zM423 507h1v1h-1zM424 507h1v1h-1zM425 507h1v1h-1zM426 507h1v1h-1zM427 506h1v1h-1zM428 506h1v1h-1zM429 506h1v1h-1zM430 506h1v1h-1zM431 505h1v1h-1zM432 505h1v1h-1zM433 505h1v1h-1zM434 505h1v1h-1zM435 504h1v1h-1zM436 504h1v1h-1zM437 504h1v1h-1zM438 503h1v1h-1zM439 503h1v1h-1zM440 503h1v1h-1zM441 502h1v1h-1zM442 502h1v1h-1zM443 502h1v1h-1zM444 502h1v1h-1zM445 501h1v1h-1zM446 501h1v1h-1zM447 501h1v1h-1zM448 501h1v1h-1zM449 500h1v1h-1zM450 500h1v1h-1zM451 500h1v1h-1zM452 500h1v1h-1zM453 500h1v1h-1zM454 500h1v1h-1zM455 500h1v1h-1zM456 500h1v1h-1zM457 500h1v1h-1zM458 501h1v1h-1zM459 501h1v1h-1zM460 501h1v1h-1zM461 501h1v1h-1zM462 501h1v1h-1zM463 501h1v1h-1zM464 501h1v1h-1zM465 501h1v1h-1zM466 501h1v1h-1zM467 502h1v1h-1zM468 502h1v1h-1zM469 502h1v1h-1zM470 502h1v1h-1zM471 502h1v1h-1zM472 502h1v1h-1zM473 502h1v1h-1zM474 502h1v1h-1zM475 502h1v1h-1zM476 502h1v1h-1zM477 502h1v1h-1zM478 502h1v1h-1zM479 502h1v1h-1zM480 502h1v1h-1zM481 502h1v1h-1zM482 502h1v1h-1zM483 502h1v1h-1zM484 502h1v1h-1zM485 502h1v1h-1zM486 502h1v1h-1zM487 501h1v1h-1zM488 501h1v1h-1zM489 501h1v1h-1zM490 501h1v1h-1zM491 501h1v1h-1zM492 501h1v1h-1zM493 501h1v1h-1zM494 501h1v1h-1zM495 501h1v1h-1zM496 501h1v1h-1zM497 501h1v1h-1zM498 500h1v1h-1zM499 500h1v1h-1zM500 500h1v1h-1zM501 500h1v1h-1zM502 500h1v1h-1zM503 499h1v1h-1zM504 499h1v1h-1zM505 499h1v1h-1zM506 498h1v1h-1zM507 498h1v1h-1zM508 498h1v1h-1zM509 497h1v1h-1zM510 497h1v1h-1zM511 497h1v1h-1zM512 497h1v1h-1zM513 496h1v1h-1zM514 496h1v1h-1zM515 496h1v1h-1zM516 496h1v1h-1zM517 496h1v1h-1zM518 496h1v1h-1zM519 495h1v1h-1zM520 495h1v1h-1zM521 495h1v1h-1zM522 495h1v1h-1zM523 494h1v1h-1zM524 494h1v1h-1zM525 494h1v1h-1zM526 493h1v1h-1zM527 493h1v1h-1zM528 492h1v1h-1zM529 492h1v1h-1zM530 492h1v1h-1zM531 492h1v1h-1zM532 492h1v1h-1zM533 492h1v1h-1zM534 492h1v1h-1zM535 492h1v1h-1zM536 492h1v1h-1zM537 492h1v1h-1zM538 492h1v1h-1zM539 492h1v1h-1zM540 492h1v1h-1zM541 492h1v1h-1zM542 492h1v1h-1zM543 492h1v1h-1zM544 492h1v1h-1zM545 492h1v1h-1zM546 492h1v1h-1zM547 493h1v1h-1zM548 493h1v1h-1zM549 493h1v1h-1zM550 494h1v1h-1zM551 494h1v1h-1zM552 495h1v1h-1zM553 495h1v1h-1zM554 495h1v1h-1zM555 496h1v1h-1zM556 496h1v1h-1zM557 496h1v1h-1zM558 497h1v1h-1zM559 497h1v1h-1zM560 498h1v1h-1zM561 498h1v1h-1zM562 498h1v1h-1zM563 499h1v1h-1zM564 499h1v1h-1zM565 499h1v1h-1zM566 500h1v1h-1zM567 500h1v1h-1zM568 501h1v1h-1zM569 501h1v1h-1zM570 502h1v1h-1zM571 502h1v1h-1zM572 503h1v1h-1zM573 503h1v1h-1zM574 504h1v1h-1zM575 504h1v1h-1zM576 505h1v1h-1zM577 505h1v1h-1zM578 506h1v1h-1zM579 506h1v1h-1zM580 507h1v1h-1zM581 507h1v1h-1zM582 508h1v1h-1zM583 508h1v1h-1zM584 509h1v1h-1zM585 509h1v1h-1zM586 510h1v1h-1zM587 510h1v1h-1zM588 511h1v1h-1zM589 511h1v1h-1zM590 512h1v1h-1zM591 513h1v1h-1zM592 513h1v1h-1zM593 514h1v1h-1zM594 514h1v1h-1zM595 515h1v1h-1zM596 516h1v1h-1zM597 516h1v1h-1zM598 517h1v1h-1zM599 518h1v1h-1zM600 518h1v1h-1zM601 519h1v1h-1zM602 520h1v1h-1zM603 520h1v1h-1zM604 521h1v1h-1zM605 522h1v1h-1zM606 522h1v1h-1zM607 523h1v1h-1zM608 524h1v1h-1zM609 524h1v1h-1zM610 525h1v1h-1zM611 525h1v1h-1zM612 526h1v1h-1zM613 526h1v1h-1zM614 527h1v1h-1zM615 527h1v1h-1zM616 528h1v1h-1zM617 528h1v1h-1zM618 529h1v1h-1zM619 529h1v1h-1zM620 530h1v1h-1zM621 530h1v1h-1zM622 530h1v1h-1zM623 531h1v1h-1zM624 531h1v1h-1zM625 531h1v1h-1zM626 531h1v1h-1zM627 532h1v1h-1zM628 532h1v1h-1zM629 532h1v1h-1zM630 533h1v1h-1zM631 533h1v1h-1zM632 533h1v1h-1zM633 533h1v1h-1zM634 533h1v1h-1zM635 533h1v1h-1zM636 533h1v1h-1zM637 533h1v1h-1zM638 533h1v1h-1zM639 533h1v1h-1zM640 533h1v1h-1zM641 533h1v1h-1zM642 533h1v1h-1zM643 533h1v1h-1zM644 533h1v1h-1zM645 533h1v1h-1zM646 533h1v1h-1zM647 532h1v1h-1zM648 532h1v1h-1zM649 532h1v1h-1zM650 532h1v1h-1zM651 532h1v1h-1zM652 532h1v1h-1zM653 532h1v1h-1zM654 532h1v1h-1zM655 532h1v1h-1zM656 533h1v1h-1zM657 533h1v1h-1zM658 533h1v1h-1zM659 533h1v1h-1zM660 533h1v1h-1zM661 533h1v1h-1zM662 533h1v1h-1zM663 533h1v1h-1zM664 533h1v1h-1zM665 533h1v1h-1zM666 534h1v1h-1zM667 534h1v1h-1zM668 534h1v1h-1zM669 534h1v1h-1zM670 534h1v1h-1zM671 534h1v1h-1zM672 534h1v1h-1zM673 534h1v1h-1zM674 535h1v1h-1zM675 535h1v1h-1zM676 535h1v1h-1zM677 535h1v1h-1zM678 535h1v1h-1zM679 535h1v1h-1zM680 535h1v1h-1zM681 535h1v1h-1zM682 535h1v1h-1zM683 535h1v1h-1zM684 536h1v1h-1zM685 536h1v1h-1zM686 536h1v1h-1zM687 536h1v1h-1zM688 536h1v1h-1zM689 536h1v1h-1zM690 536h1v1h-1zM691 536h1v1h-1zM692 535h1v1h-1zM693 535h1v1h-1zM694 535h1v1h-1zM695 535h1v1h-1zM696 535h1v1h-1zM697 534h1v1h-1zM698 534h1v1h-1zM699 534h1v1h-1zM700 534h1v1h-1zM701 533h1v1h-1zM702 533h1v1h-1zM703 533h1v1h-1zM704 533h1v1h-1zM705 532h1v1h-1zM706 532h1v1h-1zM707 532h1v1h-1zM708 532h1v1h-1zM709 531h1v1h-1zM710 531h1v1h-1zM711 531h1v1h-1zM712 531h1v1h-1zM713 530h1v1h-1zM714 530h1v1h-1zM715 530h1v1h-1zM716 530h1v1h-1zM717 529h1v1h-1zM718 529h1v1h-1zM719 529h1v1h-1zM720 529h1v1h-1zM721 528h1v1h-1zM722 528h1v1h-1zM723 528h1v1h-1zM724 528h1v1h-1zM725 528h1v1h-1zM726 528h1v1h-1zM727 528h1v1h-1zM728 527h1v1h-1zM729 527h1v1h-1zM730 527h1v1h-1zM731 527h1v1h-1zM732 527h1v1h-1zM733 527h1v1h-1zM734 527h1v1h-1zM735 528h1v1h-1zM736 528h1v1h-1zM737 528h1v1h-1zM738 528h1v1h-1zM739 529h1v1h-1zM740 529h1v1h-1zM741 529h1v1h-1zM742 529h1v1h-1zM743 530h1v1h-1zM744 530h1v1h-1zM745 530h1v1h-1zM746 531h1v1h-1zM747 531h1v1h-1zM748 531h1v1h-1zM749 532h1v1h-1zM750 532h1v1h-1zM751 532h1v1h-1zM752 533h1v1h-1zM753 533h1v1h-1zM754 534h1v1h-1zM755 534h1v1h-1zM756 535h1v1h-1zM757 535h1v1h-1zM758 536h1v1h-1zM759 536h1v1h-1zM760 537h1v1h-1zM761 537h1v1h-1zM762 537h1v1h-1zM763 538h1v1h-1zM764 538h1v1h-1zM765 539h1v1h-1zM766 539h1v1h-1zM767 540h1v1h-1zM768 540h1v1h-1zM769 541h1v1h-1zM770 541h1v1h-1zM771 542h1v1h-1zM772 542h1v1h-1zM773 542h1v1h-1zM774 543h1v1h-1zM775 543h1v1h-1zM776 544h1v1h-1zM777 544h1v1h-1zM778 544h1v1h-1zM779 545h1v1h-1zM780 545h1v1h-1zM781 546h1v1h-1zM782 546h1v1h-1zM783 547h1v1h-1zM784 547h1v1h-1zM785 547h1v1h-1zM786 548h1v1h-1zM787 548h1v1h-1zM788 549h1v1h-1zM789 549h1v1h-1zM790 549h1v1h-1zM791 550h1v1h-1zM792 550h1v1h-1zM793 551h1v1h-1zM794 551h1v1h-1zM795 551h1v1h-1zM796 551h1v1h-1zM797 552h1v1h-1zM798 552h1v1h-1zM799 552h1v1h-1zM800 552h1v1h-1zM801 553h1v1h-1zM802 553h1v1h-1zM803 553h1v1h-1zM804 553h1v1h-1zM805 553h1v1h-1zM806 553h1v1h-1zM807 553h1v1h-1zM808 553h1v1h-1zM809 552h1v1h-1zM810 552h1v1h-1zM811 552h1v1h-1zM812 552h1v1h-1zM813 552h1v1h-1zM814 552h1v1h-1zM815 551h1v1h-1zM816 551h1v1h-1zM817 551h1v1h-1zM818 550h1v1h-1zM819 550h1v1h-1zM820 550h1v1h-1zM821 549h1v1h-1zM822 549h1v1h-1zM823 549h1v1h-1zM824 548h1v1h-1zM825 548h1v1h-1zM826 548h1v1h-1zM827 547h1v1h-1zM828 547h1v1h-1zM829 547h1v1h-1zM830 546h1v1h-1zM831 546h1v1h-1zM832 546h1v1h-1zM833 545h1v1h-1zM834 545h1v1h-1zM835 545h1v1h-1zM836 544h1v1h-1zM837 544h1v1h-1zM838 543h1v1h-1zM839 543h1v1h-1zM840 543h1v1h-1zM841 543h1v1h-1zM842 543h1v1h-1zM843 542h1v1h-1zM844 542h1v1h-1zM845 542h1v1h-1zM846 542h1v1h-1zM847 542h1v1h-1zM848 542h1v1h-1zM849 542h1v1h-1zM850 542h1v1h-1zM851 542h1v1h-1zM852 542h1v1h-1zM853 542h1v1h-1zM854 542h1v1h-1zM855 542h1v1h-1zM856 542h1v1h-1zM857 542h1v1h-1zM858 542h1v1h-1zM859 541h1v1h-1zM860 541h1v1h-1zM861 541h1v1h-1zM862 541h1v1h-1zM863 541h1v1h-1zM864 540h1v1h-1zM865 540h1v1h-1zM866 540h1v1h-1zM867 540h1v1h-1zM868 540h1v1h-1zM869 539h1v1h-1zM870 539h1v1h-1zM871 539h1v1h-1zM872 539h1v1h-1zM873 538h1v1h-1zM874 538h1v1h-1zM875 538h1v1h-1zM876 538h1v1h-1zM877 537h1v1h-1zM878 537h1v1h-1zM879 537h1v1h-1zM880 536h1v1h-1zM881 536h1v1h-1zM882 536h1v1h-1zM883 535h1v1h-1zM884 535h1v1h-1zM885 534h1v1h-1zM886 534h1v1h-1zM887 534h1v1h-1zM888 534h1v1h-1zM889 533h1v1h-1zM890 533h1v1h-1zM891 533h1v1h-1zM892 533h1v1h-1zM893 532h1v1h-1zM894 532h1v1h-1zM895 532h1v1h-1zM896 532h1v1h-1zM897 532h1v1h-1zM898 532h1v1h-1zM899 532h1v1h-1zM900 532h1v1h-1zM901 532h1v1h-1zM902 532h1v1h-1zM903 532h1v1h-1zM904 532h1v1h-1zM905 532h1v1h-1zM906 532h1v1h-1zM907 532h1v1h-1zM908 532h1v1h-1zM909 532h1v1h-1zM910 533h1v1h-1zM911 533h1v1h-1zM912 533h1v1h-1zM913 533h1v1h-1zM914 533h1v1h-1zM915 533h1v1h-1zM916 533h1v1h-1zM917 533h1v1h-1zM918 533h1v1h-1zM919 533h1v1h-1zM920 534h1v1h-1zM921 534h1v1h-1zM922 534h1v1h-1zM923 535h1v1h-1z" fill="#ff0000" />
<line x1="4" y1="598.5" x2="1165" y2="598.5" stroke="#c0c0c0" stroke-width="1" stroke-dasharray="3 3"/>
<line x1="4" y1="632.5" x2="1165" y2="632.5" stroke="#c0c0c0" stroke-width="1" stroke-dasharray="3 3"/>
<path d="M3 621h1v1h-1zM4 621h1v1h-1zM5 621h1v1h-1zM6 621h1v1h-1zM7 621h1v1h-1zM8 621h1v1h-1zM9 621h1v1h-1zM10 621h1v1h-1zM11 621h1v1h-1zM12 621h1v1h-1zM13 621h1v1h-1zM14 621h1v1h-1zM15 622h1v1h-1zM16 622h1v1h-1zM17 621h1v1h-1zM18 621h1v1h-1zM19 620h1v1h-1zM20 620h1v1h-1zM21 620h1v1h-1zM22 620h1v1h-1zM23 620h1v1h-1zM24 620h1v1h-1zM25 620h1v1h-1zM26 621h1v1h-1zM27 621h1v1h-1zM28 622h1v1h-1zM29 622h1v1h-1zM30 623h1v1h-1zM31 623h1v1h-1zM32 624h1v1h-1zM33 624h1v1h-1zM34 624h1v1h-1zM35 624h1v1h-1zM36 625h1v1h-1zM37 626h1v1h-1zM38 627h1v1h-1zM39 628h1v1h-1zM40 629h1v2h-1zM41 631h1v2h-1zM42 633h1v2h-1zM43 635h1v1h-1zM44 635h1v1h-1zM45 636h1v1h-1zM46 636h1v1h-1zM47 637h1v1h-1zM48 637h1v1h-1zM49 637h1v1h-1zM50 637h1v1h-1zM51 637h1v1h-1zM52 637h1v1h-1zM53 637h1v1h-1zM54 636h1v1h-1zM55 636h1v1h-1zM56 636h1v1h-1zM57 636h1v1h-1zM58 636h1v1h-1zM59 636h1v1h-1zM60 636h1v1h-1zM61 636h1v1h-1zM62 636h1v1h-1zM63 637h1v1h-1zM64 637h1v1h-1zM65 637h1v1h-1zM66 638h1v1h-1zM67 638h1v1h-1zM68 638h1v1h-1zM69 637h1v1h-1zM70 637h1v1h-1zM71 636h1v1h-1zM72 637h1v1h-1zM73 637h1v1h-1zM74 638h1v1h-1zM75 638h1v1h-1zM76 639h1v1h-1zM77 639h1v1h-1zM78 639h1v1h-1zM79 639h1v1h-1zM80 638h1v1h-1zM81 638h1v1h-1zM82 637h1v1h-1zM83 636h1v1h-1zM84 637h1v1h-1zM85 637h1v1h-1zM86 638h1v1h-1zM87 639h1v1h-1zM88 639h1v1h-1zM89 639h1v1h-1zM90 640h1v1h-1zM91 640h1v1h-1zM92 640h1v1h-1zM93 639h1v1h-1zM94 639h1v1h-1zM95 638h1v1h-1zM96 638h1v1h-1zM97 638h1v1h-1zM98 638h1v1h-1zM99 638h1v1h-1zM100 638h1v1h-1zM101 637h1v1h-1zM102 637h1v1h-1zM103 636h1v1h-1zM104 636h1v1h-1zM105 637h1v1h-1zM106 637h1v1h-1zM107 638h1v1h-1zM108 638h1v1h-1zM109 638h1v1h-1zM110 638h1v1h-1zM111 638h1v1h-1zM112 637h1v1h-1zM113 634h1v3h-1zM114 629h1v5h-1zM115 626h1v3h-1zM116 625h1v1h-1zM117 625h1v1h-1zM118 624h1v1h-1zM119 624h1v1h-1zM120 623h1v1h-1zM121 623h1v1h-1zM122 622h1v1h-1zM123 622h1v1h-1zM124 621h1v1h-1zM125 621h1v1h-1zM126 621h1v1h-1zM127 622h1v1h-1zM128 622h1v1h-1zM129 622h1v1h-1zM130 621h1v1h-1zM131 621h1v1h-1zM132 621h1v1h-1zM133 621h1v1h-1zM134 621h1v1h-1zM135 621h1v1h-1zM136 621h1v1h-1zM137 622h1v2h-1zM138 624h1v2h-1zM139 626h1v1h-1zM140 626h1v1h-1zM141 625h1v1h-1zM142 625h1v1h-1zM143 624h1v1h-1zM144 624h1v1h-1zM145 624h1v1h-1zM146 623h1v1h-1zM147 623h1v1h-1zM148 622h1v1h-1zM149 622h1v1h-1zM150 621h1v1h-1zM151 620h1v1h-1zM152 620h1v1h-1zM153 620h1v1h-1zM154 621h1v1h-1zM155 621h1v1h-1zM156 619h1v2h-1zM157 618h1v1h-1zM158 617h1v1h-1zM159 615h1v2h-1zM160 613h1v2h-1zM161 611h1v2h-1zM162 609h1v2h-1zM163 607h1v2h-1zM164 605h1v2h-1zM165 603h1v2h-1zM166 602h1v1h-1zM167 600h1v2h-1zM168 599h1v1h-1zM169 599h1v1h-1zM170 599h1v1h-1zM171 599h1v1h-1zM172 599h1v1h-1zM173 599h1v1h-1zM174 599h1v1h-1zM175 599h1v1h-1zM176 599h1v1h-1zM177 600h1v2h-1zM178 602h1v1h-1zM179 603h1v2h-1zM180 605h1v1h-1zM181 605h1v1h-1zM182 606h1v1h-1zM183 606h1v1h-1zM184 607h1v1h-1zM185 606h1v1h-1zM186 606h1v1h-1zM187 605h1v1h-1zM188 604h1v2h-1zM189 606h1v2h-1zM190 608h1v2h-1zM191 610h1v2h-1zM192 612h1v1h-1zM193 612h1v1h-1zM194 611h1v1h-1zM195 611h1v1h-1zM196 610h1v1h-1zM197 610h1v1h-1zM198 611h1v1h-1zM199 611h1v1h-1zM200 612h1v1h-1zM201 612h1v1h-1zM202 612h1v1h-1zM203 613h1v1h-1zM204 613h1v1h-1zM205 613h1v1h-1zM206 613h1v1h-1zM207 613h1v1h-1zM208 613h1v2h-1zM209 615h1v4h-1zM210 619h1v4h-1zM211 623h1v2h-1zM212 625h1v2h-1zM213 627h1v2h-1zM214 629h1v2h-1zM215 631h1v1h-1zM216 631h1v1h-1zM217 631h1v1h-1zM218 631h1v1h-1zM219 631h1v1h-1zM220 631h1v1h-1zM221 630h1v1h-1zM222 630h1v1h-1zM223 629h1v1h-1zM224 629h1v1h-1zM225 629h1v1h-1zM226 629h1v1h-1zM227 629h1v1h-1zM228 629h1v1h-1zM229 629h1v1h-1zM230 629h1v1h-1zM231 629h1v1h-1zM232 629h1v1h-1zM233 629h1v1h-1zM234 628h1v1h-1zM235 628h1v1h-1zM236 629h1v1h-1zM237 630h1v1h-1zM238 630h1v1h-1zM239 631h1v1h-1zM240 632h1v1h-1zM241 630h1v2h-1zM242 629h1v1h-1zM243 628h1v1h-1zM244 629h1v1h-1zM245 630h1v2h-1zM246 632h1v1h-1zM247 633h1v1h-1zM248 633h1v1h-1zM249 634h1v1h-1zM250 634h1v1h-1zM251 635h1v1h-1zM252 634h1v2h-1zM253 632h1v2h-1zM254 630h1v2h-1zM255 628h1v2h-1zM256 626h1v2h-1zM257 625h1v1h-1zM258 625h1v1h-1zM259 624h1v1h-1zM260 624h1v1h-1zM261 624h1v1h-1zM262 625h1v1h-1zM263 625h1v1h-1zM264 626h1v1h-1zM265 627h1v1h-1zM266 627h1v1h-1zM267 628h1v1h-1zM268 629h1v1h-1zM269 629h1v1h-1zM270 628h1v1h-1zM271 628h1v1h-1zM272 628h1v1h-1zM273 627h1v1h-1zM274 627h1v1h-1zM275 626h1v1h-1zM276 626h1v1h-1zM277 627h1v1h-1zM278 627h1v1h-1zM279 628h1v1h-1zM280 628h1v1h-1zM281 627h1v1h-1zM282 627h1v1h-1zM283 626h1v1h-1zM284 626h1v1h-1zM285 625h1v1h-1zM286 623h1v2h-1zM287 622h1v1h-1zM288 621h1v1h-1zM289 621h1v1h-1zM290 620h1v1h-1zM291 620h1v1h-1zM292 618h1v2h-1zM293 616h1v2h-1zM294 614h1v2h-1zM295 612h1v2h-1zM296 612h1v1h-1zM297 613h1v1h-1zM298 613h1v1h-1zM299 614h1v1h-1zM300 613h1v1h-1zM301 612h1v1h-1zM302 611h1v1h-1zM303 611h1v1h-1zM304 610h1v1h-1zM305 609h1v1h-1zM306 608h1v1h-1zM307 607h1v1h-1zM308 607h1v1h-1zM309 608h1v1h-1zM310 608h1v1h-1zM311 609h1v1h-1zM312 609h1v1h-1zM313 608h1v1h-1zM314 608h1v1h-1zM315 607h1v1h-1zM316 607h1v1h-1zM317 607h1v1h-1zM318 608h1v1h-1zM319 608h1v1h-1zM320 609h1v1h-1zM321 609h1v1h-1zM322 609h1v1h-1zM323 608h1v1h-1zM324 608h1v1h-1zM325 609h1v2h-1zM326 611h1v1h-1zM327 612h1v1h-1zM328 611h1v1h-1zM329 610h1v1h-1zM330 609h1v1h-1zM331 608h1v1h-1zM332 607h1v1h-1zM333 607h1v1h-1zM334 608h1v1h-1zM335 608h1v1h-1zM336 607h1v1h-1zM337 607h1v1h-1zM338 606h1v1h-1zM339 605h1v1h-1zM340 606h1v2h-1zM341 608h1v1h-1zM342 609h1v1h-1zM343 610h1v2h-1zM344 612h1v1h-1zM345 612h1v1h-1zM346 612h1v1h-1zM347 611h1v1h-1zM348 611h1v1h-1zM349 611h1v1h-1zM350 610h1v1h-1zM351 610h1v1h-1zM352 609h1v1h-1zM353 609h1v1h-1zM354 610h1v1h-1zM355 610h1v1h-1zM356 609h1v1h-1zM357 609h1v1h-1zM358 608h1v1h-1zM359 607h1v1h-1zM360 606h1v1h-1zM361 605h1v1h-1zM362 605h1v1h-1zM363 604h1v1h-1zM364 603h1v1h-1zM365 604h1v1h-1zM366 604h1v1h-1zM367 605h1v1h-1zM368 606h1v1h-1zM369 606h1v1h-1zM370 606h1v1h-1zM371 606h1v1h-1zM372 606h1v1h-1zM373 606h1v1h-1zM374 605h1v1h-1zM375 605h1v1h-1zM376 606h1v2h-1zM377 608h1v1h-1zM378 609h1v2h-1zM379 611h1v1h-1zM380 611h1v1h-1zM381 610h1v1h-1zM382 610h1v1h-1zM383 609h1v1h-1zM384 609h1v1h-1zM385 610h1v1h-1zM386 610h1v1h-1zM387 611h1v1h-1zM388 611h1v1h-1zM389 611h1v1h-1zM390 612h1v1h-1zM391 612h1v1h-1zM392 613h1v1h-1zM393 612h1v1h-1zM394 612h1v1h-1zM395 611h1v1h-1zM396 610h1v1h-1zM397 610h1v1h-1zM398 611h1v1h-1zM399 611h1v1h-1zM400 611h1v1h-1zM401 610h1v1h-1zM402 610h1v1h-1zM403 608h1v2h-1zM404 606h1v2h-1zM405 604h1v2h-1zM406 602h1v2h-1zM407 601h1v1h-1zM408 601h1v1h-1zM409 601h1v1h-1zM410 601h1v1h-1zM411 601h1v1h-1zM412 601h1v1h-1zM413 600h1v1h-1zM414 600h1v1h-1zM415 599h1v1h-1zM416 598h1v1h-1zM417 599h1v1h-1zM418 600h1v1h-1zM419 601h1v1h-1zM420 602h1v1h-1zM421 602h1v1h-1zM422 602h1v1h-1zM423 603h1v1h-1zM424 603h1v1h-1zM425 603h1v1h-1zM426 603h1v1h-1zM427 602h1v1h-1zM428 602h1v1h-1zM429 602h1v1h-1zM430 603h1v1h-1zM431 603h1v1h-1zM432 604h1v1h-1zM433 604h1v1h-1zM434 604h1v1h-1zM435 603h1v1h-1zM436 603h1v1h-1zM437 603h1v1h-1zM438 603h1v1h-1zM439 602h1v1h-1zM440 602h1v1h-1zM441 600h1v2h-1zM442 599h1v1h-1zM443 597h1v2h-1zM444 596h1v1h-1zM445 596h1v1h-1zM446 597h1v1h-1zM447 597h1v1h-1zM448 598h1v1h-1zM449 598h1v1h-1zM450 599h1v1h-1zM451 599h1v2h-1zM452 601h1v2h-1zM453 603h1v2h-1zM454 605h1v2h-1zM455 607h1v2h-1zM456 609h1v1h-1zM457 608h1v1h-1zM458 608h1v1h-1zM459 607h1v1h-1zM460 607h1v1h-1zM461 608h1v1h-1zM462 608h1v1h-1zM463 609h1v1h-1zM464 609h1v1h-1zM465 609h1v1h-1zM466 610h1v1h-1zM467 610h1v1h-1zM468 611h1v1h-1zM469 609h1v2h-1zM470 608h1v1h-1zM471 606h1v2h-1zM472 605h1v1h-1zM473 603h1v2h-1zM474 602h1v1h-1zM475 600h1v2h-1zM476 599h1v1h-1zM477 599h1v1h-1zM478 599h1v1h-1zM479 598h1v1h-1zM480 598h1v1h-1zM481 599h1v1h-1zM482 600h1v2h-1zM483 602h1v1h-1zM484 603h1v1h-1zM485 603h1v1h-1zM486 603h1v1h-1zM487 602h1v1h-1zM488 602h1v1h-1zM489 602h1v1h-1zM490 602h1v1h-1zM491 601h1v1h-1zM492 601h1v1h-1zM493 601h1v1h-1zM494 601h1v1h-1zM495 600h1v1h-1zM496 600h1v1h-1zM497 600h1v1h-1zM498 599h1v1h-1zM499 599h1v1h-1zM500 598h1v1h-1zM501 598h1v1h-1zM502 599h1v1h-1zM503 599h1v1h-1zM504 598h1v1h-1zM505 597h1v1h-1zM506 597h1v1h-1zM507 596h1v1h-1zM508 595h1v1h-1zM509 595h1v1h-1zM510 594h1v1h-1zM511 594h1v1h-1zM512 594h1v1h-1zM513 594h1v1h-1zM514 595h1v1h-1zM515 595h1v1h-1zM516 596h1v1h-1zM517 597h1v2h-1zM518 599h1v1h-1zM519 600h1v1h-1zM520 599h1v1h-1zM521 598h1v1h-1zM522 598h1v1h-1zM523 597h1v1h-1zM524 596h1v1h-1zM525 597h1v1h-1zM526 597h1v1h-1zM527 598h1v1h-1zM528 599h1v1h-1zM529 599h1v1h-1zM530 598h1v1h-1zM531 598h1v1h-1zM532 599h1v2h-1zM533 601h1v2h-1zM534 603h1v2h-1zM535 605h1v1h-1zM536 605h1v1h-1zM537 605h1v1h-1zM538 606h1v1h-1zM539 606h1v1h-1zM540 607h1v1h-1zM541 607h1v1h-1zM542 608h1v1h-1zM543 609h1v1h-1zM544 609h1v1h-1zM545 609h1v1h-1zM546 610h1v1h-1zM547 610h1v1h-1zM548 610h1v1h-1zM549 610h1v1h-1zM550 610h1v1h-1zM551 609h1v1h-1zM552 609h1v1h-1zM553 609h1v1h-1zM554 609h1v1h-1zM555 608h1v1h-1zM556 608h1v1h-1zM557 607h1v1h-1zM558 605h1v2h-1zM559 604h1v1h-1zM560 603h1v2h-1zM561 605h1v2h-1zM562 607h1v2h-1zM563 609h1v1h-1zM564 609h1v1h-1zM565 610h1v1h-1zM566 610h1v1h-1zM567 611h1v1h-1zM568 612h1v1h-1zM569 613h1v1h-1zM570 613h1v1h-1zM571 614h1v1h-1zM572 615h1v1h-1zM573 616h1v1h-1zM574 616h1v1h-1zM575 617h1v1h-1zM576 618h1v1h-1zM577 619h1v1h-1zM578 619h1v1h-1zM579 620h1v1h-1zM580 621h1v1h-1zM581 620h1v1h-1zM582 620h1v1h-1zM583 619h1v1h-1zM584 618h1v1h-1zM585 619h1v1h-1zM586 619h1v1h-1zM587 620h1v1h-1zM588 621h1v1h-1zM589 622h1v2h-1zM590 624h1v2h-1zM591 626h1v2h-1zM592 628h1v1h-1zM593 628h1v1h-1zM594 627h1v1h-1zM595 627h1v1h-1zM596 626h1v1h-1zM597 626h1v1h-1zM598 626h1v1h-1zM599 626h1v1h-1zM600 626h1v1h-1zM601 626h1v1h-1zM602 626h1v1h-1zM603 626h1v1h-1zM604 626h1v1h-1zM605 626h1v1h-1zM606 625h1v1h-1zM607 625h1v1h-1zM608 624h1v1h-1zM609 625h1v1h-1zM610 626h1v1h-1zM611 627h1v1h-1zM612 627h1v2h-1zM613 625h1v2h-1zM614 622h1v3h-1zM615 620h1v2h-1zM616 618h1v2h-1zM617 620h1v2h-1zM618 622h1v2h-1zM619 624h1v1h-1zM620 623h1v1h-1zM621 621h1v2h-1zM622 620h1v1h-1zM623 619h1v1h-1zM624 618h1v1h-1zM625 618h1v1h-1zM626 618h1v1h-1zM627 619h1v1h-1zM628 619h1v1h-1zM629 619h1v1h-1zM630 620h1v1h-1zM631 620h1v1h-1zM632 620h1v1h-1zM633 619h1v1h-1zM634 619h1v1h-1zM635 618h1v1h-1zM636 618h1v1h-1zM637 617h1v1h-1zM638 617h1v1h-1zM639 616h1v1h-1zM640 615h1v1h-1zM641 615h1v1h-1zM642 615h1v1h-1zM643 615h1v1h-1zM644 615h1v1h-1zM645 616h1v2h-1zM646 618h1v2h-1zM647 620h1v1h-1zM648 620h1v1h-1zM649 621h1v1h-1zM650 621h1v1h-1zM651 622h1v1h-1zM652 623h1v1h-1zM653 623h1v1h-1zM654 624h1v1h-1zM655 625h1v1h-1zM656 626h1v2h-1zM657 628h1v2h-1zM658 630h1v2h-1zM659 632h1v1h-1zM660 632h1v1h-1zM661 633h1v1h-1zM662 633h1v1h-1zM663 633h1v2h-1zM664 630h1v3h-1zM665 627h1v3h-1zM666 624h1v3h-1zM667 621h1v3h-1zM668 619h1v2h-1zM669 619h1v1h-1zM670 619h1v1h-1zM671 619h1v1h-1zM672 619h1v1h-1zM673 619h1v1h-1zM674 619h1v1h-1zM675 619h1v1h-1zM676 619h1v1h-1zM677 619h1v1h-1zM678 619h1v1h-1zM679 619h1v1h-1zM680 619h1v1h-1zM681 619h1v1h-1zM682 618h1v1h-1zM683 618h1v1h-1zM684 618h1v1h-1zM685 618h1v1h-1zM686 618h1v1h-1zM687 618h1v1h-1zM688 618h1v1h-1zM689 616h1v2h-1zM690 615h1v1h-1zM691 613h1v2h-1zM692 612h1v1h-1zM693 612h1v1h-1zM694 613h1v1h-1zM695 613h1v1h-1zM696 614h1v2h-1zM697 616h1v2h-1zM698 618h1v2h-1zM699 620h1v1h-1zM700 620h1v1h-1zM701 620h1v1h-1zM702 619h1v1h-1zM703 619h1v1h-1zM704 619h1v1h-1zM705 619h1v1h-1zM706 620h1v1h-1zM707 620h1v1h-1zM708 618h1v2h-1zM709 616h1v2h-1zM710 615h1v1h-1zM711 613h1v2h-1zM712 612h1v1h-1zM713 613h1v1h-1zM714 613h1v1h-1zM715 614h1v1h-1zM716 615h1v1h-1zM717 616h1v1h-1zM718 616h1v1h-1zM719 617h1v1h-1zM720 618h1v1h-1zM721 617h1v1h-1zM722 616h1v1h-1zM723 615h1v1h-1zM724 615h1v1h-1zM725 615h1v1h-1zM726 615h1v1h-1zM727 615h1v1h-1zM728 616h1v1h-1zM729 617h1v2h-1zM730 619h1v1h-1zM731 620h1v1h-1zM732 621h1v2h-1zM733 623h1v2h-1zM734 625h1v2h-1zM735 627h1v2h-1zM736 629h1v1h-1zM737 630h1v1h-1zM738 631h1v1h-1zM739 632h1v1h-1zM740 631h1v1h-1zM741 631h1v1h-1zM742 630h1v1h-1zM743 630h1v1h-1zM744 629h1v1h-1zM745 629h1v1h-1zM746 628h1v1h-1zM747 628h1v1h-1zM748 627h1v1h-1zM749 627h1v1h-1zM750 628h1v1h-1zM751 628h1v1h-1zM752 629h1v1h-1zM753 628h1v1h-1zM754 627h1v1h-1zM755 626h1v1h-1zM756 624h1v2h-1zM757 623h1v1h-1zM758 622h1v1h-1zM759 621h1v1h-1zM760 620h1v2h-1zM761 622h1v2h-1zM762 624h1v2h-1zM763 626h1v2h-1zM764 628h1v1h-1zM765 629h1v1h-1zM766 630h1v1h-1zM767 631h1v1h-1zM768 632h1v1h-1zM769 632h1v1h-1zM770 632h1v1h-1zM771 632h1v1h-1zM772 632h1v1h-1zM773 632h1v1h-1zM774 633h1v1h-1zM775 633h1v1h-1zM776 634h1v1h-1zM777 634h1v1h-1zM778 633h1v1h-1zM779 633h1v1h-1zM780 633h1v1h-1zM781 633h1v1h-1zM782 634h1v1h-1zM783 634h1v1h-1zM784 633h1v1h-1zM785 631h1v2h-1zM786 630h1v1h-1zM787 629h1v1h-1zM788 628h1v1h-1zM789 628h1v1h-1zM790 627h1v1h-1zM791 627h1v1h-1zM792 627h1v1h-1zM793 627h1v1h-1zM794 626h1v1h-1zM795 626h1v1h-1zM796 626h1v1h-1zM797 626h1v1h-1zM798 625h1v1h-1zM799 625h1v1h-1zM800 624h1v1h-1zM801 624h1v1h-1zM802 624h1v1h-1zM803 624h1v1h-1zM804 624h1v1h-1zM805 624h1v1h-1zM806 624h1v1h-1zM807 623h1v1h-1zM808 623h1v1h-1zM809 623h1v1h-1zM810 623h1v1h-1zM811 624h1v1h-1zM812 624h1v1h-1zM813 624h1v1h-1zM814 625h1v1h-1zM815 625h1v1h-1zM816 626h1v1h-1zM817 625h1v1h-1zM818 625h1v1h-1zM819 624h1v1h-1zM820 624h1v1h-1zM821 624h1v1h-1zM822 624h1v1h-1zM823 624h1v1h-1zM824 624h1v1h-1zM825 624h1v1h-1zM826 625h1v1h-1zM827 625h1v1h-1zM828 626h1v1h-1zM829 626h1v1h-1zM830 625h1v1h-1zM831 625h1v1h-1zM832 624h1v1h-1zM833 623h1v1h-1zM834 623h1v1h-1zM835 622h1v1h-1zM836 621h1v1h-1zM837 621h1v1h-1zM838 620h1v1h-1zM839 619h1v2h-1zM840 621h1v3h-1zM841 624h1v3h-1zM842 627h1v3h-1zM843 630h1v2h-1zM844 631h1v1h-1zM845 632h1v1h-1zM846 632h1v1h-1zM847 631h1v1h-1zM848 630h1v2h-1zM849 628h1v2h-1zM850 626h1v2h-1zM851 624h1v2h-1zM852 623h1v1h-1zM853 621h1v2h-1zM854 620h1v1h-1zM855 619h1v1h-1zM856 618h1v1h-1zM857 616h1v2h-1zM858 615h1v1h-1zM859 614h1v1h-1zM860 614h1v1h-1zM861 614h1v1h-1zM862 615h1v1h-1zM863 615h1v1h-1zM864 615h1v1h-1zM865 614h1v1h-1zM866 614h1v1h-1zM867 613h1v1h-1zM868 613h1v1h-1zM869 613h1v1h-1zM870 613h1v1h-1zM871 614h1v1h-1zM872 614h1v1h-1zM873 614h1v1h-1zM874 614h1v1h-1zM875 615h1v1h-1zM876 615h1v1h-1zM877 615h1v1h-1zM878 615h1v1h-1zM879 615h1v1h-1zM880 615h1v2h-1zM881 617h1v3h-1zM882 620h1v3h-1zM883 623h1v2h-1zM884 624h1v1h-1zM885 623h1v1h-1zM886 623h1v1h-1zM887 622h1v1h-1zM888 622h1v1h-1zM889 622h1v1h-1zM890 621h1v1h-1zM891 621h1v1h-1zM892 621h1v1h-1zM893 621h1v1h-1zM894 620h1v1h-1zM895 620h1v1h-1zM896 621h1v1h-1zM897 621h1v1h-1zM898 622h1v1h-1zM899 622h1v1h-1zM900 623h1v1h-1zM901 623h1v1h-1zM902 623h1v1h-1zM903 624h1v1h-1zM904 624h1v1h-1zM905 624h1v1h-1zM906 625h1v1h-1zM907 625h1v1h-1zM908 626h1v1h-1zM909 626h1v1h-1zM910 626h1v1h-1zM911 625h1v1h-1zM912 625h1v1h-1zM913 625h1v1h-1zM914 625h1v1h-1zM915 626h1v1h-1zM916 626h1v1h-1zM917 626h1v1h-1zM918 627h1v1h-1zM919 627h1v1h-1zM920 628h1v1h-1zM921 628h1v1h-1zM922 628h1v1h-1zM923 628h1v1h-1z" fill="#1e90ff" />
</g>
<g shape-rendering="crispEdges">
<rect x="1167" y="55" width="40" height="11" fill="#ff0000"/>
<rect x="1167" y="224" width="40" height="11" fill="#00ff00"/>
<rect x="1167" y="403" width="40" height="11" fill="#0000ff"/>
<rect x="1167" y="414" width="40" height="11" fill="#000000"/>
</g>
<g font-family="'Liberation Sans', sans-serif" font-size="9" fill="#fff">
<text x="1171.5" y="64">1.18998</text>
<text x="1171.5" y="233">1.18024</text>
<text x="1171.5" y="411.6">1.17002</text>
<text x="1171.5" y="422.8">1.16944</text>
</g>
<g shape-rendering="crispEdges">
<rect x="4" y="42" width="223" height="58" fill="#ffffff"/>
<rect x="6" y="43" width="51" height="25" fill="url(#gTab)"/>
<rect x="173" y="43" width="52" height="25" fill="url(#gTab)"/>
<rect x="6" y="67" width="109" height="33" fill="url(#gLow)"/>
<rect x="117" y="67" width="108" height="33" fill="url(#gLow)"/>
<rect x="10" y="67" width="44" height="1" fill="#a61a1a"/>
<rect x="177" y="67" width="44" height="1" fill="#a61a1a"/>
<rect x="60.5" y="43.5" width="110" height="21" fill="#ffffff" stroke="#b4b4b4" stroke-width="1"/>
<rect x="61" y="44" width="20" height="20" fill="url(#gBtn)"/>
<rect x="150" y="44" width="20" height="20" fill="url(#gBtn)"/>
<rect x="81" y="44" width="1" height="20" fill="#b4b4b4"/>
<rect x="149" y="44" width="1" height="20" fill="#b4b4b4"/>
</g>
<path d="M67.7 51.7 L73.7 51.7 L70.7 54.4 Z" fill="#4a5fbe"/>
<path d="M156.8 54.4 L162.8 54.4 L159.8 51.7 Z" fill="#4a5fbe"/>
<g font-family="'Liberation Sans', sans-serif" fill="#fff">
<text x="18.5" y="58.5" font-size="12" letter-spacing="-1">SELL</text>
<text x="186" y="58.5" font-size="12" letter-spacing="-0.8">BUY</text>
<text x="122.2" y="58.6" font-size="12" fill="#000" letter-spacing="0">3.00</text>
<text x="26.5" y="94.9" font-size="12" font-weight="bold">1.16</text>
<text x="52.6" y="95.3" font-size="34.5" textLength="36.6" lengthAdjust="spacingAndGlyphs" stroke="url(#gLowU)" stroke-width="0.45">94</text>
<text x="93" y="79" font-size="12" font-weight="bold">7</text>
<text x="137.0" y="94.9" font-size="12" font-weight="bold">1.16</text>
<text x="163.1" y="95.3" font-size="34.5" textLength="36.6" lengthAdjust="spacingAndGlyphs" stroke="url(#gLowU)" stroke-width="0.45">94</text>
<text x="203.5" y="79" font-size="12" font-weight="bold">7</text>
</g>
<g shape-rendering="crispEdges">
<rect x="0" y="679" width="1207" height="1" fill="#e4e4e4"/>
<rect x="0" y="681" width="1207" height="1" fill="#000"/>
<rect x="0" y="682" width="1207" height="19" fill="#f0f0f0"/>
<rect x="0" y="701" width="1207" height="1" fill="#ffffff"/>
<rect x="0" y="702" width="1207" height="2" fill="#f0f0f0"/>
<rect x="0" y="704" width="1207" height="2" fill="#a0a0a0"/>
<rect x="5" y="681" width="90" height="18" fill="#ffffff"/>
<rect x="4" y="681" width="1" height="19" fill="#000"/>
<rect x="95" y="681" width="1" height="19" fill="#000"/>
<rect x="4" y="699" width="92" height="1" fill="#000"/>
<rect x="96" y="682" width="1" height="18" fill="#a0a0a0"/>
<rect x="5" y="700" width="92" height="1" fill="#a0a0a0"/>
<rect x="200" y="685" width="1" height="13" fill="#606060"/>
<rect x="288" y="685" width="1" height="13" fill="#606060"/>
<rect x="392" y="685" width="1" height="13" fill="#606060"/>
<rect x="496" y="685" width="1" height="13" fill="#606060"/>
<rect x="584" y="685" width="1" height="13" fill="#606060"/>
<rect x="652" y="685" width="1" height="13" fill="#606060"/>
<rect x="728" y="685" width="1" height="13" fill="#606060"/>
<rect x="821" y="685" width="1" height="13" fill="#606060"/>
<rect x="912" y="685" width="1" height="13" fill="#606060"/>
</g>
<g font-family="'Liberation Sans', sans-serif" font-size="12.6" fill="#808080">
<text x="16.2" y="695.8" fill="#000" textLength="67.8" lengthAdjust="spacingAndGlyphs">EURUSD,H4</text>
<text x="106.7" y="695.8" textLength="82.2" lengthAdjust="spacingAndGlyphs">AUDUSD,Daily</text>
<text x="210.4" y="695.8" textLength="66.3" lengthAdjust="spacingAndGlyphs">USDCHF,H4</text>
<text x="299.3" y="695.8" textLength="80.2" lengthAdjust="spacingAndGlyphs">USDCAD,Daily</text>
<text x="402.7" y="695.8" textLength="81.8" lengthAdjust="spacingAndGlyphs">USDCNH,Daily</text>
<text x="508.4" y="695.8" textLength="63.3" lengthAdjust="spacingAndGlyphs">UKOil,Daily</text>
<text x="594.5" y="695.8" textLength="45.8" lengthAdjust="spacingAndGlyphs">DJ30,H1</text>
<text x="664" y="695.8" textLength="51.5" lengthAdjust="spacingAndGlyphs">USDX,H1</text>
<text x="738.7" y="695.8" textLength="69.7" lengthAdjust="spacingAndGlyphs">XAUUSD,H4</text>
<text x="832" y="695.8" textLength="67.5" lengthAdjust="spacingAndGlyphs">GBPUSD,H1</text>
</g>
<path d="M1184 687.5 L1184 693 L1180.5 690.2 Z" fill="#a0a0a0"/>
<path d="M1200 687.5 L1200 693 L1203.5 690.2 Z" fill="#a0a0a0"/>
</svg>
</body></html>
